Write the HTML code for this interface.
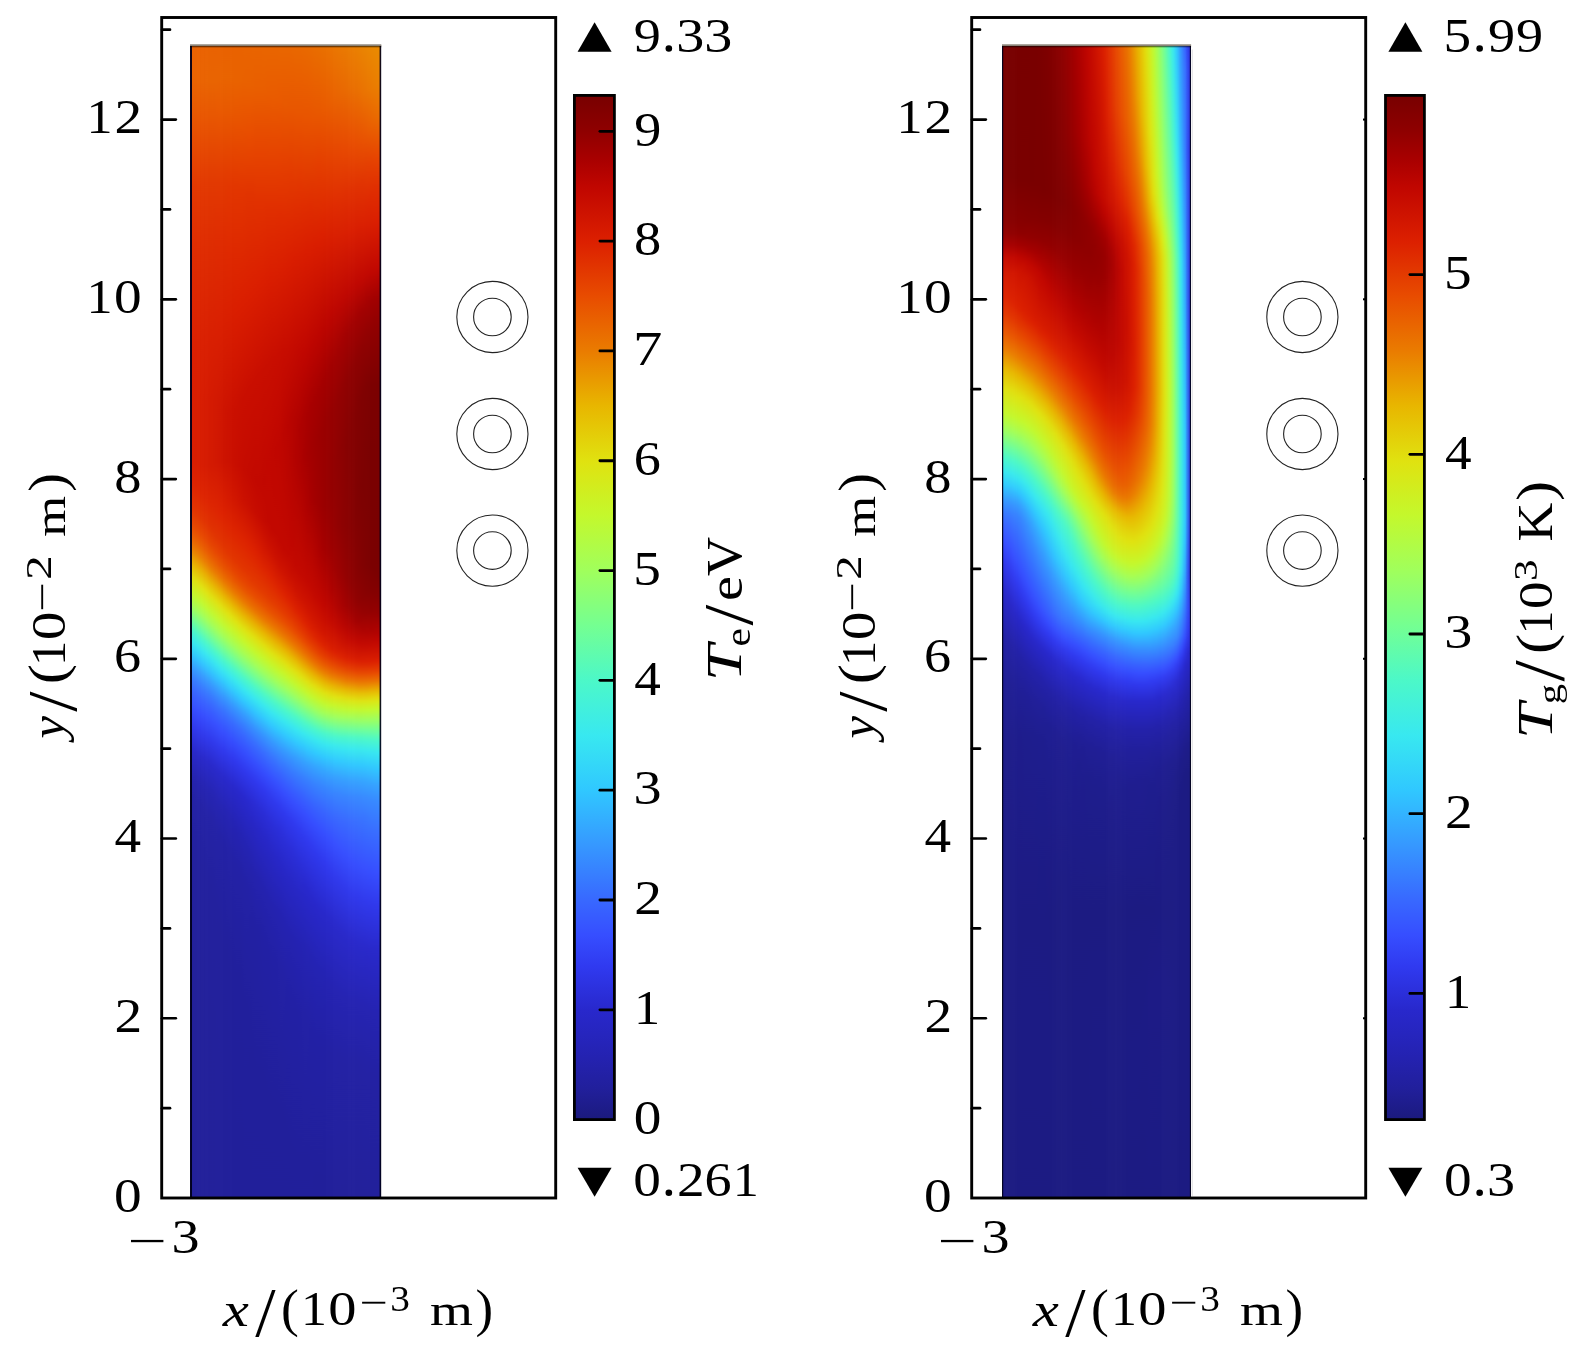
<!DOCTYPE html>
<html><head><meta charset="utf-8"><title>Te and Tg maps</title>
<style>html,body{margin:0;padding:0;background:#fff}svg{display:block}</style></head>
<body>
<svg width="1575" height="1348" viewBox="0 0 1575 1348" font-family="'Liberation Serif', serif" fill="#000">
<rect width="1575" height="1348" fill="#fff"/>
<defs><linearGradient id="ag0" x1="0" y1="0" x2="0" y2="1"><stop offset="0.0000" stop-color="#e96100"/><stop offset="0.0278" stop-color="#e96300"/><stop offset="0.0590" stop-color="#e85700"/><stop offset="0.1215" stop-color="#e23700"/><stop offset="0.1736" stop-color="#df2c00"/><stop offset="0.2743" stop-color="#d91d00"/><stop offset="0.3611" stop-color="#d81c00"/><stop offset="0.3819" stop-color="#dd2300"/><stop offset="0.4028" stop-color="#e13300"/><stop offset="0.4167" stop-color="#e74700"/><stop offset="0.4271" stop-color="#e95e00"/><stop offset="0.4375" stop-color="#ea7d00"/><stop offset="0.4514" stop-color="#e7ba01"/><stop offset="0.4618" stop-color="#e1de0e"/><stop offset="0.4722" stop-color="#cdf123"/><stop offset="0.4757" stop-color="#c5f72b"/><stop offset="0.4861" stop-color="#a7fe53"/><stop offset="0.4931" stop-color="#8bff76"/><stop offset="0.5035" stop-color="#5dfbb1"/><stop offset="0.5069" stop-color="#4ef8c5"/><stop offset="0.5174" stop-color="#39e9ee"/><stop offset="0.5278" stop-color="#31cbfd"/><stop offset="0.5417" stop-color="#3696ff"/><stop offset="0.5521" stop-color="#3777ff"/><stop offset="0.5625" stop-color="#3761ff"/><stop offset="0.5729" stop-color="#3650ff"/><stop offset="0.5903" stop-color="#3039ee"/><stop offset="0.6111" stop-color="#2828cc"/><stop offset="0.6354" stop-color="#2422af"/><stop offset="0.6528" stop-color="#2220a4"/><stop offset="0.7118" stop-color="#211f9d"/><stop offset="0.8090" stop-color="#211f9a"/><stop offset="0.9479" stop-color="#211f9a"/><stop offset="1.0000" stop-color="#211f9a"/></linearGradient><linearGradient id="ag1" x1="0" y1="0" x2="0" y2="1"><stop offset="0.0000" stop-color="#e96100"/><stop offset="0.0278" stop-color="#e96300"/><stop offset="0.0590" stop-color="#e85700"/><stop offset="0.1215" stop-color="#e23700"/><stop offset="0.1736" stop-color="#df2b00"/><stop offset="0.2674" stop-color="#d91d00"/><stop offset="0.3576" stop-color="#d71b00"/><stop offset="0.3819" stop-color="#dc2100"/><stop offset="0.4062" stop-color="#e13400"/><stop offset="0.4201" stop-color="#e74800"/><stop offset="0.4306" stop-color="#e96000"/><stop offset="0.4410" stop-color="#ea8100"/><stop offset="0.4514" stop-color="#e8af00"/><stop offset="0.4653" stop-color="#e0e110"/><stop offset="0.4792" stop-color="#c2f82e"/><stop offset="0.4896" stop-color="#a3fe58"/><stop offset="0.5000" stop-color="#76ff90"/><stop offset="0.5104" stop-color="#4bf7ca"/><stop offset="0.5208" stop-color="#38e7f1"/><stop offset="0.5312" stop-color="#30c7ff"/><stop offset="0.5417" stop-color="#359eff"/><stop offset="0.5521" stop-color="#377dff"/><stop offset="0.5625" stop-color="#3865ff"/><stop offset="0.5764" stop-color="#364eff"/><stop offset="0.5938" stop-color="#2f38ec"/><stop offset="0.6146" stop-color="#2827ca"/><stop offset="0.6354" stop-color="#2422b1"/><stop offset="0.6528" stop-color="#2321a6"/><stop offset="0.6979" stop-color="#211f9e"/><stop offset="0.8021" stop-color="#211f9a"/><stop offset="0.9410" stop-color="#211f9a"/><stop offset="1.0000" stop-color="#211f9a"/></linearGradient><linearGradient id="ag2" x1="0" y1="0" x2="0" y2="1"><stop offset="0.0000" stop-color="#e96100"/><stop offset="0.0312" stop-color="#e96200"/><stop offset="0.0660" stop-color="#e85300"/><stop offset="0.1215" stop-color="#e23700"/><stop offset="0.1736" stop-color="#df2b00"/><stop offset="0.2604" stop-color="#d91e00"/><stop offset="0.3160" stop-color="#d71b00"/><stop offset="0.3646" stop-color="#d71b00"/><stop offset="0.3889" stop-color="#dd2300"/><stop offset="0.4097" stop-color="#e13300"/><stop offset="0.4236" stop-color="#e74700"/><stop offset="0.4340" stop-color="#e95f00"/><stop offset="0.4444" stop-color="#ea8000"/><stop offset="0.4549" stop-color="#e8b000"/><stop offset="0.4688" stop-color="#e0e210"/><stop offset="0.4826" stop-color="#c1f930"/><stop offset="0.4931" stop-color="#a1ff5a"/><stop offset="0.5035" stop-color="#75ff91"/><stop offset="0.5139" stop-color="#4af7cb"/><stop offset="0.5208" stop-color="#3dece6"/><stop offset="0.5243" stop-color="#37e5f1"/><stop offset="0.5347" stop-color="#30c5ff"/><stop offset="0.5451" stop-color="#369cff"/><stop offset="0.5556" stop-color="#377cff"/><stop offset="0.5660" stop-color="#3864ff"/><stop offset="0.5799" stop-color="#354cfe"/><stop offset="0.5938" stop-color="#303af0"/><stop offset="0.6181" stop-color="#2727c8"/><stop offset="0.6389" stop-color="#2422b2"/><stop offset="0.6597" stop-color="#2220a5"/><stop offset="0.7118" stop-color="#211f9e"/><stop offset="0.8125" stop-color="#211f9a"/><stop offset="0.9514" stop-color="#211f9a"/><stop offset="1.0000" stop-color="#211f9a"/></linearGradient><linearGradient id="ag3" x1="0" y1="0" x2="0" y2="1"><stop offset="0.0000" stop-color="#e96100"/><stop offset="0.0312" stop-color="#e96200"/><stop offset="0.0625" stop-color="#e85500"/><stop offset="0.1181" stop-color="#e23800"/><stop offset="0.1667" stop-color="#df2c00"/><stop offset="0.2569" stop-color="#d91e00"/><stop offset="0.3090" stop-color="#d61a00"/><stop offset="0.3646" stop-color="#d61a00"/><stop offset="0.3924" stop-color="#dd2300"/><stop offset="0.4132" stop-color="#e13200"/><stop offset="0.4271" stop-color="#e64600"/><stop offset="0.4375" stop-color="#e95d00"/><stop offset="0.4479" stop-color="#ea7e00"/><stop offset="0.4583" stop-color="#e8af00"/><stop offset="0.4722" stop-color="#e0e210"/><stop offset="0.4861" stop-color="#c1f930"/><stop offset="0.4965" stop-color="#a1ff5a"/><stop offset="0.5069" stop-color="#75ff91"/><stop offset="0.5174" stop-color="#4af7cb"/><stop offset="0.5243" stop-color="#3dece7"/><stop offset="0.5278" stop-color="#37e5f2"/><stop offset="0.5382" stop-color="#31c4ff"/><stop offset="0.5486" stop-color="#369bff"/><stop offset="0.5590" stop-color="#377bff"/><stop offset="0.5694" stop-color="#3863ff"/><stop offset="0.5833" stop-color="#354bfd"/><stop offset="0.6007" stop-color="#2e36e9"/><stop offset="0.6181" stop-color="#2828cc"/><stop offset="0.6424" stop-color="#2422b2"/><stop offset="0.6632" stop-color="#2321a6"/><stop offset="0.7118" stop-color="#211f9e"/><stop offset="0.8160" stop-color="#211f9a"/><stop offset="0.9549" stop-color="#211f9a"/><stop offset="1.0000" stop-color="#211f9a"/></linearGradient><linearGradient id="ag4" x1="0" y1="0" x2="0" y2="1"><stop offset="0.0000" stop-color="#e96200"/><stop offset="0.0312" stop-color="#e96300"/><stop offset="0.0625" stop-color="#e85500"/><stop offset="0.1181" stop-color="#e23800"/><stop offset="0.1667" stop-color="#df2c00"/><stop offset="0.2535" stop-color="#d91e00"/><stop offset="0.3090" stop-color="#d51900"/><stop offset="0.3646" stop-color="#d41900"/><stop offset="0.3958" stop-color="#dd2300"/><stop offset="0.4167" stop-color="#e13100"/><stop offset="0.4306" stop-color="#e64400"/><stop offset="0.4410" stop-color="#e95b00"/><stop offset="0.4514" stop-color="#ea7c00"/><stop offset="0.4618" stop-color="#e8ad00"/><stop offset="0.4688" stop-color="#e5c907"/><stop offset="0.4757" stop-color="#e0e110"/><stop offset="0.4896" stop-color="#c1f930"/><stop offset="0.5000" stop-color="#a2ff5a"/><stop offset="0.5104" stop-color="#75ff90"/><stop offset="0.5208" stop-color="#4bf7cb"/><stop offset="0.5278" stop-color="#3dece7"/><stop offset="0.5312" stop-color="#37e4f2"/><stop offset="0.5417" stop-color="#31c3ff"/><stop offset="0.5521" stop-color="#369aff"/><stop offset="0.5625" stop-color="#377aff"/><stop offset="0.5729" stop-color="#3862ff"/><stop offset="0.5833" stop-color="#3650ff"/><stop offset="0.6007" stop-color="#2f39ed"/><stop offset="0.6215" stop-color="#2828cb"/><stop offset="0.6458" stop-color="#2423b3"/><stop offset="0.6701" stop-color="#2321a6"/><stop offset="0.7326" stop-color="#211f9d"/><stop offset="0.8646" stop-color="#211f9a"/><stop offset="1.0000" stop-color="#211f9a"/></linearGradient><linearGradient id="ag5" x1="0" y1="0" x2="0" y2="1"><stop offset="0.0000" stop-color="#e96100"/><stop offset="0.0312" stop-color="#e96300"/><stop offset="0.0625" stop-color="#e85500"/><stop offset="0.1181" stop-color="#e23800"/><stop offset="0.1667" stop-color="#df2c00"/><stop offset="0.2500" stop-color="#d91e00"/><stop offset="0.3056" stop-color="#d41800"/><stop offset="0.3646" stop-color="#d31800"/><stop offset="0.3993" stop-color="#dd2300"/><stop offset="0.4201" stop-color="#e03000"/><stop offset="0.4340" stop-color="#e54200"/><stop offset="0.4444" stop-color="#e95900"/><stop offset="0.4549" stop-color="#ea7a00"/><stop offset="0.4688" stop-color="#e7bb02"/><stop offset="0.4792" stop-color="#e0e110"/><stop offset="0.4931" stop-color="#c1f930"/><stop offset="0.5035" stop-color="#a2ff59"/><stop offset="0.5139" stop-color="#76ff90"/><stop offset="0.5243" stop-color="#4bf7cb"/><stop offset="0.5312" stop-color="#3cece7"/><stop offset="0.5347" stop-color="#37e4f2"/><stop offset="0.5451" stop-color="#31c3ff"/><stop offset="0.5556" stop-color="#369aff"/><stop offset="0.5660" stop-color="#3779ff"/><stop offset="0.5764" stop-color="#3761ff"/><stop offset="0.5868" stop-color="#364fff"/><stop offset="0.6042" stop-color="#2f38ec"/><stop offset="0.6250" stop-color="#2828cb"/><stop offset="0.6493" stop-color="#2423b3"/><stop offset="0.6736" stop-color="#2321a6"/><stop offset="0.7292" stop-color="#211f9e"/><stop offset="0.8576" stop-color="#211f9a"/><stop offset="0.9965" stop-color="#211f9a"/><stop offset="1.0000" stop-color="#211f9a"/></linearGradient><linearGradient id="ag6" x1="0" y1="0" x2="0" y2="1"><stop offset="0.0000" stop-color="#e96100"/><stop offset="0.0312" stop-color="#e96300"/><stop offset="0.0625" stop-color="#e85500"/><stop offset="0.1181" stop-color="#e23800"/><stop offset="0.1667" stop-color="#df2b00"/><stop offset="0.2465" stop-color="#d91e00"/><stop offset="0.3090" stop-color="#d21700"/><stop offset="0.3611" stop-color="#d11600"/><stop offset="0.4028" stop-color="#dd2300"/><stop offset="0.4271" stop-color="#e13300"/><stop offset="0.4410" stop-color="#e74700"/><stop offset="0.4514" stop-color="#e96200"/><stop offset="0.4583" stop-color="#ea7900"/><stop offset="0.4722" stop-color="#e7ba02"/><stop offset="0.4826" stop-color="#e0e110"/><stop offset="0.4965" stop-color="#c1f930"/><stop offset="0.5069" stop-color="#a2ff59"/><stop offset="0.5174" stop-color="#76ff90"/><stop offset="0.5278" stop-color="#4af7cb"/><stop offset="0.5347" stop-color="#3cebe8"/><stop offset="0.5382" stop-color="#37e4f2"/><stop offset="0.5486" stop-color="#31c2ff"/><stop offset="0.5590" stop-color="#3699ff"/><stop offset="0.5694" stop-color="#3779ff"/><stop offset="0.5799" stop-color="#3761ff"/><stop offset="0.5903" stop-color="#364eff"/><stop offset="0.6076" stop-color="#2f38eb"/><stop offset="0.6285" stop-color="#2828cb"/><stop offset="0.6528" stop-color="#2523b4"/><stop offset="0.6806" stop-color="#2321a6"/><stop offset="0.7465" stop-color="#211f9d"/><stop offset="0.8854" stop-color="#211f9a"/><stop offset="1.0000" stop-color="#211f9a"/></linearGradient><linearGradient id="ag7" x1="0" y1="0" x2="0" y2="1"><stop offset="0.0000" stop-color="#e96100"/><stop offset="0.0278" stop-color="#e96300"/><stop offset="0.0556" stop-color="#e95900"/><stop offset="0.1181" stop-color="#e23800"/><stop offset="0.1667" stop-color="#df2b00"/><stop offset="0.2431" stop-color="#d91e00"/><stop offset="0.3125" stop-color="#d01500"/><stop offset="0.3611" stop-color="#cf1400"/><stop offset="0.4062" stop-color="#dd2200"/><stop offset="0.4306" stop-color="#e13300"/><stop offset="0.4410" stop-color="#e54000"/><stop offset="0.4514" stop-color="#e85600"/><stop offset="0.4618" stop-color="#ea7700"/><stop offset="0.4757" stop-color="#e7ba01"/><stop offset="0.4861" stop-color="#e0e110"/><stop offset="0.5000" stop-color="#c1f930"/><stop offset="0.5104" stop-color="#a2ff5a"/><stop offset="0.5208" stop-color="#75ff91"/><stop offset="0.5312" stop-color="#4af7cc"/><stop offset="0.5382" stop-color="#3cebe8"/><stop offset="0.5417" stop-color="#37e3f2"/><stop offset="0.5486" stop-color="#31cdfd"/><stop offset="0.5556" stop-color="#33b2ff"/><stop offset="0.5660" stop-color="#368dff"/><stop offset="0.5764" stop-color="#386fff"/><stop offset="0.5903" stop-color="#3653ff"/><stop offset="0.5938" stop-color="#364eff"/><stop offset="0.6111" stop-color="#2f37eb"/><stop offset="0.6319" stop-color="#2828cb"/><stop offset="0.6597" stop-color="#2423b2"/><stop offset="0.6875" stop-color="#2220a5"/><stop offset="0.7674" stop-color="#211f9c"/><stop offset="0.9062" stop-color="#211f9a"/><stop offset="1.0000" stop-color="#211f9a"/></linearGradient><linearGradient id="ag8" x1="0" y1="0" x2="0" y2="1"><stop offset="0.0000" stop-color="#e96100"/><stop offset="0.0278" stop-color="#e96300"/><stop offset="0.0590" stop-color="#e85700"/><stop offset="0.1181" stop-color="#e23800"/><stop offset="0.1667" stop-color="#df2b00"/><stop offset="0.2396" stop-color="#d91e00"/><stop offset="0.3160" stop-color="#ce1300"/><stop offset="0.3611" stop-color="#cd1200"/><stop offset="0.4062" stop-color="#dc2000"/><stop offset="0.4340" stop-color="#e13200"/><stop offset="0.4444" stop-color="#e53f00"/><stop offset="0.4549" stop-color="#e85500"/><stop offset="0.4653" stop-color="#ea7600"/><stop offset="0.4722" stop-color="#e99700"/><stop offset="0.4792" stop-color="#e7ba01"/><stop offset="0.4896" stop-color="#e0e110"/><stop offset="0.5035" stop-color="#c1f931"/><stop offset="0.5139" stop-color="#a1ff5a"/><stop offset="0.5243" stop-color="#74ff92"/><stop offset="0.5347" stop-color="#4af6cc"/><stop offset="0.5417" stop-color="#3bebe9"/><stop offset="0.5451" stop-color="#37e2f3"/><stop offset="0.5521" stop-color="#31ccfd"/><stop offset="0.5660" stop-color="#3697ff"/><stop offset="0.5764" stop-color="#3777ff"/><stop offset="0.5868" stop-color="#3760ff"/><stop offset="0.5972" stop-color="#364dfe"/><stop offset="0.6111" stop-color="#303af0"/><stop offset="0.6354" stop-color="#2828cb"/><stop offset="0.6632" stop-color="#2423b3"/><stop offset="0.6944" stop-color="#2220a5"/><stop offset="0.7847" stop-color="#211f9c"/><stop offset="0.9236" stop-color="#211f9a"/><stop offset="1.0000" stop-color="#211f9a"/></linearGradient><linearGradient id="ag9" x1="0" y1="0" x2="0" y2="1"><stop offset="0.0000" stop-color="#e96100"/><stop offset="0.0278" stop-color="#e96300"/><stop offset="0.0590" stop-color="#e85700"/><stop offset="0.1215" stop-color="#e23600"/><stop offset="0.1771" stop-color="#df2900"/><stop offset="0.2361" stop-color="#d91e00"/><stop offset="0.3194" stop-color="#cc1100"/><stop offset="0.3611" stop-color="#cb1100"/><stop offset="0.3958" stop-color="#d61a00"/><stop offset="0.4201" stop-color="#de2600"/><stop offset="0.4410" stop-color="#e23500"/><stop offset="0.4514" stop-color="#e64500"/><stop offset="0.4618" stop-color="#e95e00"/><stop offset="0.4688" stop-color="#ea7600"/><stop offset="0.4757" stop-color="#e99600"/><stop offset="0.4826" stop-color="#e7ba01"/><stop offset="0.4931" stop-color="#e0e210"/><stop offset="0.5069" stop-color="#c0f931"/><stop offset="0.5174" stop-color="#a0ff5b"/><stop offset="0.5278" stop-color="#73ff93"/><stop offset="0.5347" stop-color="#55fabb"/><stop offset="0.5382" stop-color="#49f6ce"/><stop offset="0.5451" stop-color="#3beaea"/><stop offset="0.5486" stop-color="#36e1f3"/><stop offset="0.5556" stop-color="#31ccfd"/><stop offset="0.5694" stop-color="#3696ff"/><stop offset="0.5799" stop-color="#3777ff"/><stop offset="0.5903" stop-color="#375fff"/><stop offset="0.6007" stop-color="#364dfe"/><stop offset="0.6181" stop-color="#2f37e9"/><stop offset="0.6389" stop-color="#2828cb"/><stop offset="0.6667" stop-color="#2523b4"/><stop offset="0.6979" stop-color="#2321a6"/><stop offset="0.7812" stop-color="#211f9c"/><stop offset="0.9201" stop-color="#211f9a"/><stop offset="1.0000" stop-color="#211f9a"/></linearGradient><linearGradient id="ag10" x1="0" y1="0" x2="0" y2="1"><stop offset="0.0000" stop-color="#e96100"/><stop offset="0.0278" stop-color="#e96300"/><stop offset="0.0590" stop-color="#e85700"/><stop offset="0.1215" stop-color="#e23600"/><stop offset="0.1771" stop-color="#de2900"/><stop offset="0.2326" stop-color="#d91e00"/><stop offset="0.3160" stop-color="#cb1000"/><stop offset="0.3611" stop-color="#ca0f00"/><stop offset="0.3924" stop-color="#d21700"/><stop offset="0.4201" stop-color="#dd2400"/><stop offset="0.4444" stop-color="#e23500"/><stop offset="0.4549" stop-color="#e64400"/><stop offset="0.4653" stop-color="#e95e00"/><stop offset="0.4722" stop-color="#ea7500"/><stop offset="0.4792" stop-color="#e99600"/><stop offset="0.4861" stop-color="#e7ba01"/><stop offset="0.4965" stop-color="#e0e210"/><stop offset="0.5069" stop-color="#c8f528"/><stop offset="0.5139" stop-color="#b5fb40"/><stop offset="0.5208" stop-color="#9fff5d"/><stop offset="0.5312" stop-color="#72ff95"/><stop offset="0.5382" stop-color="#54f9bd"/><stop offset="0.5417" stop-color="#49f5cf"/><stop offset="0.5486" stop-color="#3aeaec"/><stop offset="0.5556" stop-color="#33d5f9"/><stop offset="0.5590" stop-color="#31cbfe"/><stop offset="0.5729" stop-color="#3696ff"/><stop offset="0.5868" stop-color="#386dff"/><stop offset="0.6042" stop-color="#354cfe"/><stop offset="0.6181" stop-color="#3039ef"/><stop offset="0.6424" stop-color="#2828cb"/><stop offset="0.6736" stop-color="#2423b3"/><stop offset="0.7049" stop-color="#2321a6"/><stop offset="0.7951" stop-color="#211f9c"/><stop offset="0.9340" stop-color="#211f9a"/><stop offset="1.0000" stop-color="#211f9a"/></linearGradient><linearGradient id="ag11" x1="0" y1="0" x2="0" y2="1"><stop offset="0.0000" stop-color="#e96200"/><stop offset="0.0312" stop-color="#e96200"/><stop offset="0.0660" stop-color="#e85300"/><stop offset="0.1215" stop-color="#e23600"/><stop offset="0.1771" stop-color="#de2900"/><stop offset="0.2292" stop-color="#da1e00"/><stop offset="0.3160" stop-color="#ca0f00"/><stop offset="0.3646" stop-color="#c80e00"/><stop offset="0.3958" stop-color="#d11600"/><stop offset="0.4236" stop-color="#dd2400"/><stop offset="0.4479" stop-color="#e23500"/><stop offset="0.4583" stop-color="#e64400"/><stop offset="0.4653" stop-color="#e85300"/><stop offset="0.4757" stop-color="#ea7500"/><stop offset="0.4826" stop-color="#e99700"/><stop offset="0.4896" stop-color="#e7ba02"/><stop offset="0.5000" stop-color="#dfe311"/><stop offset="0.5104" stop-color="#c7f529"/><stop offset="0.5174" stop-color="#b4fb41"/><stop offset="0.5243" stop-color="#9eff5e"/><stop offset="0.5347" stop-color="#71fe97"/><stop offset="0.5417" stop-color="#52f9bf"/><stop offset="0.5451" stop-color="#48f5d1"/><stop offset="0.5521" stop-color="#39e9ed"/><stop offset="0.5625" stop-color="#30cafe"/><stop offset="0.5764" stop-color="#3695ff"/><stop offset="0.5903" stop-color="#386dff"/><stop offset="0.6076" stop-color="#354cfd"/><stop offset="0.6215" stop-color="#3039ee"/><stop offset="0.6458" stop-color="#2828cb"/><stop offset="0.6806" stop-color="#2422b2"/><stop offset="0.7118" stop-color="#2321a6"/><stop offset="0.8090" stop-color="#211f9c"/><stop offset="0.9479" stop-color="#211f9a"/><stop offset="1.0000" stop-color="#211f9a"/></linearGradient><linearGradient id="ag12" x1="0" y1="0" x2="0" y2="1"><stop offset="0.0000" stop-color="#e96200"/><stop offset="0.0312" stop-color="#e96200"/><stop offset="0.0660" stop-color="#e85300"/><stop offset="0.1250" stop-color="#e23500"/><stop offset="0.2257" stop-color="#da1e00"/><stop offset="0.3090" stop-color="#c90f00"/><stop offset="0.3646" stop-color="#c70c00"/><stop offset="0.3958" stop-color="#ce1300"/><stop offset="0.4271" stop-color="#dd2400"/><stop offset="0.4514" stop-color="#e23500"/><stop offset="0.4618" stop-color="#e64300"/><stop offset="0.4688" stop-color="#e85300"/><stop offset="0.4792" stop-color="#ea7600"/><stop offset="0.4861" stop-color="#e99700"/><stop offset="0.4931" stop-color="#e7bb02"/><stop offset="0.5035" stop-color="#dfe311"/><stop offset="0.5139" stop-color="#c7f629"/><stop offset="0.5208" stop-color="#b3fb42"/><stop offset="0.5278" stop-color="#9cff60"/><stop offset="0.5382" stop-color="#6ffe99"/><stop offset="0.5451" stop-color="#51f9c2"/><stop offset="0.5521" stop-color="#40eee1"/><stop offset="0.5556" stop-color="#39e8ef"/><stop offset="0.5660" stop-color="#30c9ff"/><stop offset="0.5799" stop-color="#3694ff"/><stop offset="0.5938" stop-color="#386cff"/><stop offset="0.6111" stop-color="#354cfd"/><stop offset="0.6250" stop-color="#3039ee"/><stop offset="0.6493" stop-color="#2828cc"/><stop offset="0.6840" stop-color="#2423b3"/><stop offset="0.7153" stop-color="#2321a6"/><stop offset="0.8056" stop-color="#211f9c"/><stop offset="0.9444" stop-color="#211f9a"/><stop offset="1.0000" stop-color="#211f9a"/></linearGradient><linearGradient id="ag13" x1="0" y1="0" x2="0" y2="1"><stop offset="0.0000" stop-color="#e96300"/><stop offset="0.0312" stop-color="#e96100"/><stop offset="0.0694" stop-color="#e85100"/><stop offset="0.1250" stop-color="#e23500"/><stop offset="0.2222" stop-color="#da1e00"/><stop offset="0.3056" stop-color="#c90e00"/><stop offset="0.3681" stop-color="#c50b00"/><stop offset="0.3958" stop-color="#cb1000"/><stop offset="0.4306" stop-color="#dd2400"/><stop offset="0.4549" stop-color="#e23500"/><stop offset="0.4653" stop-color="#e64400"/><stop offset="0.4722" stop-color="#e85300"/><stop offset="0.4826" stop-color="#ea7600"/><stop offset="0.4896" stop-color="#e99900"/><stop offset="0.4965" stop-color="#e7bc02"/><stop offset="0.5069" stop-color="#dee412"/><stop offset="0.5174" stop-color="#c6f72a"/><stop offset="0.5278" stop-color="#a7fe53"/><stop offset="0.5347" stop-color="#8cff75"/><stop offset="0.5451" stop-color="#5efbb0"/><stop offset="0.5486" stop-color="#4ef8c5"/><stop offset="0.5590" stop-color="#38e8f0"/><stop offset="0.5694" stop-color="#30c8ff"/><stop offset="0.5799" stop-color="#359fff"/><stop offset="0.5903" stop-color="#377eff"/><stop offset="0.6007" stop-color="#3864ff"/><stop offset="0.6146" stop-color="#354cfd"/><stop offset="0.6285" stop-color="#3039ee"/><stop offset="0.6528" stop-color="#2828cd"/><stop offset="0.6910" stop-color="#2423b3"/><stop offset="0.7257" stop-color="#2321a6"/><stop offset="0.8299" stop-color="#211f9c"/><stop offset="0.9688" stop-color="#211f9a"/><stop offset="1.0000" stop-color="#211f9a"/></linearGradient><linearGradient id="ag14" x1="0" y1="0" x2="0" y2="1"><stop offset="0.0000" stop-color="#e96300"/><stop offset="0.0347" stop-color="#e96000"/><stop offset="0.0764" stop-color="#e84d00"/><stop offset="0.1285" stop-color="#e13300"/><stop offset="0.2188" stop-color="#da1e00"/><stop offset="0.2986" stop-color="#c90e00"/><stop offset="0.3715" stop-color="#c40a00"/><stop offset="0.3993" stop-color="#ca0f00"/><stop offset="0.4340" stop-color="#dd2300"/><stop offset="0.4583" stop-color="#e23500"/><stop offset="0.4688" stop-color="#e64400"/><stop offset="0.4757" stop-color="#e85400"/><stop offset="0.4861" stop-color="#ea7700"/><stop offset="0.4965" stop-color="#e8ad00"/><stop offset="0.5035" stop-color="#e4cc08"/><stop offset="0.5104" stop-color="#dde413"/><stop offset="0.5208" stop-color="#c5f72b"/><stop offset="0.5312" stop-color="#a5fe55"/><stop offset="0.5417" stop-color="#7aff8b"/><stop offset="0.5521" stop-color="#4cf8c8"/><stop offset="0.5625" stop-color="#38e6f1"/><stop offset="0.5729" stop-color="#30c6ff"/><stop offset="0.5833" stop-color="#359eff"/><stop offset="0.5972" stop-color="#3775ff"/><stop offset="0.6111" stop-color="#3757ff"/><stop offset="0.6181" stop-color="#354cfd"/><stop offset="0.6319" stop-color="#3039ee"/><stop offset="0.6562" stop-color="#2829ce"/><stop offset="0.6979" stop-color="#2423b2"/><stop offset="0.7326" stop-color="#2321a6"/><stop offset="0.8368" stop-color="#211f9c"/><stop offset="0.9757" stop-color="#211f9a"/><stop offset="1.0000" stop-color="#211f9a"/></linearGradient><linearGradient id="ag15" x1="0" y1="0" x2="0" y2="1"><stop offset="0.0000" stop-color="#e96400"/><stop offset="0.0347" stop-color="#e96000"/><stop offset="0.0764" stop-color="#e84d00"/><stop offset="0.1285" stop-color="#e13300"/><stop offset="0.2153" stop-color="#da1e00"/><stop offset="0.2951" stop-color="#c90e00"/><stop offset="0.3750" stop-color="#c30900"/><stop offset="0.4028" stop-color="#c80e00"/><stop offset="0.4375" stop-color="#dd2200"/><stop offset="0.4653" stop-color="#e33900"/><stop offset="0.4757" stop-color="#e84c00"/><stop offset="0.4861" stop-color="#e96b00"/><stop offset="0.4896" stop-color="#ea7900"/><stop offset="0.5000" stop-color="#e8af00"/><stop offset="0.5104" stop-color="#e1db0d"/><stop offset="0.5139" stop-color="#dce514"/><stop offset="0.5243" stop-color="#c4f82c"/><stop offset="0.5347" stop-color="#a4fe57"/><stop offset="0.5451" stop-color="#77ff8e"/><stop offset="0.5556" stop-color="#4bf7ca"/><stop offset="0.5625" stop-color="#3dece6"/><stop offset="0.5660" stop-color="#37e5f2"/><stop offset="0.5764" stop-color="#30c5ff"/><stop offset="0.5903" stop-color="#3692ff"/><stop offset="0.6042" stop-color="#386cff"/><stop offset="0.6215" stop-color="#354cfd"/><stop offset="0.6354" stop-color="#3039ee"/><stop offset="0.6562" stop-color="#2a2bd3"/><stop offset="0.6736" stop-color="#2726c5"/><stop offset="0.7153" stop-color="#2422ad"/><stop offset="0.7569" stop-color="#2220a3"/><stop offset="0.8750" stop-color="#211f9b"/><stop offset="1.0000" stop-color="#211f9a"/></linearGradient><linearGradient id="ag16" x1="0" y1="0" x2="0" y2="1"><stop offset="0.0000" stop-color="#e96400"/><stop offset="0.0382" stop-color="#e95e00"/><stop offset="0.0903" stop-color="#e64500"/><stop offset="0.1354" stop-color="#e13100"/><stop offset="0.2118" stop-color="#da1e00"/><stop offset="0.2882" stop-color="#c90e00"/><stop offset="0.3785" stop-color="#c20800"/><stop offset="0.4062" stop-color="#c70c00"/><stop offset="0.4410" stop-color="#dc2100"/><stop offset="0.4688" stop-color="#e33a00"/><stop offset="0.4792" stop-color="#e84c00"/><stop offset="0.4896" stop-color="#e96d00"/><stop offset="0.4931" stop-color="#ea7b00"/><stop offset="0.5035" stop-color="#e8b200"/><stop offset="0.5139" stop-color="#e1dd0e"/><stop offset="0.5208" stop-color="#d3ec1d"/><stop offset="0.5278" stop-color="#c2f82e"/><stop offset="0.5382" stop-color="#a2ff5a"/><stop offset="0.5486" stop-color="#74ff92"/><stop offset="0.5556" stop-color="#56faba"/><stop offset="0.5590" stop-color="#4af6cc"/><stop offset="0.5660" stop-color="#3cebe8"/><stop offset="0.5694" stop-color="#37e3f2"/><stop offset="0.5799" stop-color="#31c4ff"/><stop offset="0.5938" stop-color="#3692ff"/><stop offset="0.6076" stop-color="#386cff"/><stop offset="0.6250" stop-color="#354cfd"/><stop offset="0.6389" stop-color="#3039ee"/><stop offset="0.6597" stop-color="#2a2cd4"/><stop offset="0.6806" stop-color="#2726c4"/><stop offset="0.7222" stop-color="#2422ae"/><stop offset="0.7674" stop-color="#2220a3"/><stop offset="0.8889" stop-color="#211f9b"/><stop offset="1.0000" stop-color="#211f9a"/></linearGradient><linearGradient id="ag17" x1="0" y1="0" x2="0" y2="1"><stop offset="0.0000" stop-color="#e96400"/><stop offset="0.0382" stop-color="#e95e00"/><stop offset="0.0903" stop-color="#e64500"/><stop offset="0.1354" stop-color="#e13100"/><stop offset="0.2083" stop-color="#da1e00"/><stop offset="0.2847" stop-color="#c90e00"/><stop offset="0.3819" stop-color="#c20800"/><stop offset="0.4097" stop-color="#c60b00"/><stop offset="0.4375" stop-color="#d71b00"/><stop offset="0.4514" stop-color="#de2600"/><stop offset="0.4722" stop-color="#e33a00"/><stop offset="0.4826" stop-color="#e84e00"/><stop offset="0.4931" stop-color="#e96f00"/><stop offset="0.4965" stop-color="#ea7d00"/><stop offset="0.5069" stop-color="#e8b400"/><stop offset="0.5174" stop-color="#e1de0f"/><stop offset="0.5278" stop-color="#c9f427"/><stop offset="0.5312" stop-color="#c1f931"/><stop offset="0.5417" stop-color="#9fff5d"/><stop offset="0.5521" stop-color="#71fe96"/><stop offset="0.5590" stop-color="#53f9be"/><stop offset="0.5625" stop-color="#48f5cf"/><stop offset="0.5694" stop-color="#3beaeb"/><stop offset="0.5729" stop-color="#36e2f3"/><stop offset="0.5833" stop-color="#31c2ff"/><stop offset="0.5972" stop-color="#3691ff"/><stop offset="0.6111" stop-color="#386cff"/><stop offset="0.6285" stop-color="#354cfd"/><stop offset="0.6424" stop-color="#3039ef"/><stop offset="0.6632" stop-color="#2a2dd5"/><stop offset="0.6806" stop-color="#2727c8"/><stop offset="0.7257" stop-color="#2422af"/><stop offset="0.7674" stop-color="#2220a4"/><stop offset="0.8889" stop-color="#211f9b"/><stop offset="1.0000" stop-color="#211f9a"/></linearGradient><linearGradient id="ag18" x1="0" y1="0" x2="0" y2="1"><stop offset="0.0000" stop-color="#e96500"/><stop offset="0.0382" stop-color="#e95e00"/><stop offset="0.0903" stop-color="#e64500"/><stop offset="0.1354" stop-color="#e13100"/><stop offset="0.2049" stop-color="#da1e00"/><stop offset="0.2812" stop-color="#c80e00"/><stop offset="0.3785" stop-color="#c10700"/><stop offset="0.4132" stop-color="#c40a00"/><stop offset="0.4375" stop-color="#d21700"/><stop offset="0.4549" stop-color="#dd2500"/><stop offset="0.4757" stop-color="#e33b00"/><stop offset="0.4861" stop-color="#e84f00"/><stop offset="0.4965" stop-color="#ea7100"/><stop offset="0.5000" stop-color="#ea7f00"/><stop offset="0.5104" stop-color="#e8b700"/><stop offset="0.5208" stop-color="#e0e00f"/><stop offset="0.5312" stop-color="#c8f528"/><stop offset="0.5382" stop-color="#b4fb42"/><stop offset="0.5451" stop-color="#9cff61"/><stop offset="0.5556" stop-color="#6efe9a"/><stop offset="0.5625" stop-color="#50f9c2"/><stop offset="0.5694" stop-color="#40efe0"/><stop offset="0.5729" stop-color="#3ae9ed"/><stop offset="0.5833" stop-color="#31ccfd"/><stop offset="0.6007" stop-color="#3690ff"/><stop offset="0.6146" stop-color="#386cff"/><stop offset="0.6319" stop-color="#354cfd"/><stop offset="0.6458" stop-color="#3039ef"/><stop offset="0.6667" stop-color="#2a2dd6"/><stop offset="0.6875" stop-color="#2727c7"/><stop offset="0.7326" stop-color="#2422af"/><stop offset="0.7743" stop-color="#2220a5"/><stop offset="0.8958" stop-color="#211f9b"/><stop offset="1.0000" stop-color="#211f9a"/></linearGradient><linearGradient id="ag19" x1="0" y1="0" x2="0" y2="1"><stop offset="0.0000" stop-color="#e96500"/><stop offset="0.0417" stop-color="#e95c00"/><stop offset="0.0972" stop-color="#e54200"/><stop offset="0.1424" stop-color="#e02e00"/><stop offset="0.2049" stop-color="#d91d00"/><stop offset="0.2778" stop-color="#c80e00"/><stop offset="0.3646" stop-color="#c20700"/><stop offset="0.4132" stop-color="#c20800"/><stop offset="0.4340" stop-color="#cc1100"/><stop offset="0.4583" stop-color="#dd2400"/><stop offset="0.4792" stop-color="#e33b00"/><stop offset="0.4896" stop-color="#e85000"/><stop offset="0.5000" stop-color="#ea7300"/><stop offset="0.5069" stop-color="#e99500"/><stop offset="0.5139" stop-color="#e7b901"/><stop offset="0.5243" stop-color="#e0e210"/><stop offset="0.5347" stop-color="#c6f62a"/><stop offset="0.5417" stop-color="#b1fc45"/><stop offset="0.5486" stop-color="#99ff65"/><stop offset="0.5590" stop-color="#6afd9f"/><stop offset="0.5660" stop-color="#4df8c7"/><stop offset="0.5764" stop-color="#38e8f0"/><stop offset="0.5868" stop-color="#31cbfe"/><stop offset="0.6007" stop-color="#369aff"/><stop offset="0.6146" stop-color="#3874ff"/><stop offset="0.6285" stop-color="#3758ff"/><stop offset="0.6354" stop-color="#354cfe"/><stop offset="0.6493" stop-color="#303aef"/><stop offset="0.6701" stop-color="#2b2ed8"/><stop offset="0.6910" stop-color="#2727c8"/><stop offset="0.7396" stop-color="#2422af"/><stop offset="0.7847" stop-color="#2220a4"/><stop offset="0.9097" stop-color="#211f9b"/><stop offset="1.0000" stop-color="#211f9a"/></linearGradient><linearGradient id="ag20" x1="0" y1="0" x2="0" y2="1"><stop offset="0.0000" stop-color="#e96500"/><stop offset="0.0451" stop-color="#e95b00"/><stop offset="0.0972" stop-color="#e54200"/><stop offset="0.1424" stop-color="#e02e00"/><stop offset="0.2014" stop-color="#d91d00"/><stop offset="0.2708" stop-color="#c80e00"/><stop offset="0.3542" stop-color="#c10700"/><stop offset="0.4201" stop-color="#c20800"/><stop offset="0.4410" stop-color="#cd1200"/><stop offset="0.4618" stop-color="#dd2200"/><stop offset="0.4826" stop-color="#e33b00"/><stop offset="0.4931" stop-color="#e85200"/><stop offset="0.5035" stop-color="#ea7500"/><stop offset="0.5104" stop-color="#e99800"/><stop offset="0.5174" stop-color="#e7bc02"/><stop offset="0.5278" stop-color="#dee412"/><stop offset="0.5382" stop-color="#c5f72b"/><stop offset="0.5486" stop-color="#a3fe58"/><stop offset="0.5590" stop-color="#75ff90"/><stop offset="0.5694" stop-color="#4bf7cb"/><stop offset="0.5799" stop-color="#38e6f1"/><stop offset="0.5903" stop-color="#30c9ff"/><stop offset="0.6042" stop-color="#3699ff"/><stop offset="0.6181" stop-color="#3874ff"/><stop offset="0.6354" stop-color="#3652ff"/><stop offset="0.6458" stop-color="#3343f6"/><stop offset="0.6562" stop-color="#2f38eb"/><stop offset="0.6771" stop-color="#2a2dd6"/><stop offset="0.7014" stop-color="#2727c5"/><stop offset="0.7465" stop-color="#2422af"/><stop offset="0.7917" stop-color="#2220a5"/><stop offset="0.9167" stop-color="#211f9b"/><stop offset="1.0000" stop-color="#211f9a"/></linearGradient><linearGradient id="ag21" x1="0" y1="0" x2="0" y2="1"><stop offset="0.0000" stop-color="#e96500"/><stop offset="0.0451" stop-color="#e95b00"/><stop offset="0.0972" stop-color="#e54200"/><stop offset="0.1424" stop-color="#e02e00"/><stop offset="0.1979" stop-color="#d91e00"/><stop offset="0.2708" stop-color="#c80d00"/><stop offset="0.3507" stop-color="#c00600"/><stop offset="0.4236" stop-color="#c20800"/><stop offset="0.4444" stop-color="#cb1000"/><stop offset="0.4688" stop-color="#dd2500"/><stop offset="0.4861" stop-color="#e43c00"/><stop offset="0.4965" stop-color="#e85300"/><stop offset="0.5069" stop-color="#ea7800"/><stop offset="0.5174" stop-color="#e8ae00"/><stop offset="0.5278" stop-color="#e1da0d"/><stop offset="0.5312" stop-color="#dce514"/><stop offset="0.5417" stop-color="#c2f82e"/><stop offset="0.5521" stop-color="#a0ff5c"/><stop offset="0.5625" stop-color="#71ff96"/><stop offset="0.5694" stop-color="#54f9be"/><stop offset="0.5729" stop-color="#49f5ce"/><stop offset="0.5799" stop-color="#3bebe9"/><stop offset="0.5833" stop-color="#37e3f2"/><stop offset="0.5938" stop-color="#30c6ff"/><stop offset="0.6076" stop-color="#3697ff"/><stop offset="0.6215" stop-color="#3873ff"/><stop offset="0.6389" stop-color="#3652ff"/><stop offset="0.6493" stop-color="#3343f7"/><stop offset="0.6597" stop-color="#2f38ec"/><stop offset="0.6806" stop-color="#2a2ed7"/><stop offset="0.7049" stop-color="#2727c7"/><stop offset="0.7500" stop-color="#2422b0"/><stop offset="0.7951" stop-color="#2220a5"/><stop offset="0.9201" stop-color="#211f9b"/><stop offset="1.0000" stop-color="#211f9a"/></linearGradient><linearGradient id="ag22" x1="0" y1="0" x2="0" y2="1"><stop offset="0.0000" stop-color="#e96600"/><stop offset="0.0486" stop-color="#e95900"/><stop offset="0.1007" stop-color="#e54000"/><stop offset="0.1493" stop-color="#df2b00"/><stop offset="0.1944" stop-color="#d91e00"/><stop offset="0.2674" stop-color="#c70d00"/><stop offset="0.3472" stop-color="#bf0600"/><stop offset="0.4306" stop-color="#c20800"/><stop offset="0.4514" stop-color="#cc1100"/><stop offset="0.4722" stop-color="#dd2300"/><stop offset="0.4896" stop-color="#e43c00"/><stop offset="0.5000" stop-color="#e85500"/><stop offset="0.5104" stop-color="#ea7a00"/><stop offset="0.5208" stop-color="#e8b200"/><stop offset="0.5312" stop-color="#e1dd0e"/><stop offset="0.5382" stop-color="#d2ed1e"/><stop offset="0.5451" stop-color="#c0f932"/><stop offset="0.5556" stop-color="#9cff61"/><stop offset="0.5660" stop-color="#6dfe9c"/><stop offset="0.5729" stop-color="#4ff9c3"/><stop offset="0.5833" stop-color="#3ae9ed"/><stop offset="0.5938" stop-color="#31cefc"/><stop offset="0.6007" stop-color="#32b6ff"/><stop offset="0.6146" stop-color="#378cff"/><stop offset="0.6319" stop-color="#3864ff"/><stop offset="0.6458" stop-color="#364cfe"/><stop offset="0.6597" stop-color="#303bf0"/><stop offset="0.6806" stop-color="#2b2fdb"/><stop offset="0.7083" stop-color="#2727c8"/><stop offset="0.7535" stop-color="#2422b1"/><stop offset="0.7986" stop-color="#2321a6"/><stop offset="0.9236" stop-color="#211f9b"/><stop offset="1.0000" stop-color="#211f9a"/></linearGradient><linearGradient id="ag23" x1="0" y1="0" x2="0" y2="1"><stop offset="0.0000" stop-color="#e96600"/><stop offset="0.0521" stop-color="#e85800"/><stop offset="0.1042" stop-color="#e43e00"/><stop offset="0.1528" stop-color="#df2a00"/><stop offset="0.1944" stop-color="#d91d00"/><stop offset="0.2639" stop-color="#c70c00"/><stop offset="0.3368" stop-color="#bc0500"/><stop offset="0.4375" stop-color="#c20800"/><stop offset="0.4583" stop-color="#ce1300"/><stop offset="0.4757" stop-color="#dd2200"/><stop offset="0.4931" stop-color="#e43c00"/><stop offset="0.5000" stop-color="#e84c00"/><stop offset="0.5104" stop-color="#e96e00"/><stop offset="0.5139" stop-color="#ea7d00"/><stop offset="0.5243" stop-color="#e8b500"/><stop offset="0.5347" stop-color="#e0e00f"/><stop offset="0.5451" stop-color="#c7f629"/><stop offset="0.5521" stop-color="#b1fc45"/><stop offset="0.5590" stop-color="#97ff67"/><stop offset="0.5694" stop-color="#68fda2"/><stop offset="0.5764" stop-color="#4bf8c9"/><stop offset="0.5868" stop-color="#38e7f0"/><stop offset="0.5972" stop-color="#31cbfe"/><stop offset="0.6111" stop-color="#359dff"/><stop offset="0.6250" stop-color="#3779ff"/><stop offset="0.6389" stop-color="#375eff"/><stop offset="0.6493" stop-color="#364dfe"/><stop offset="0.6667" stop-color="#2f38ed"/><stop offset="0.6875" stop-color="#2b2fd9"/><stop offset="0.7153" stop-color="#2727c7"/><stop offset="0.7604" stop-color="#2422b1"/><stop offset="0.8056" stop-color="#2321a6"/><stop offset="0.9306" stop-color="#211f9b"/><stop offset="1.0000" stop-color="#211f9a"/></linearGradient><linearGradient id="ag24" x1="0" y1="0" x2="0" y2="1"><stop offset="0.0000" stop-color="#e96600"/><stop offset="0.0521" stop-color="#e85800"/><stop offset="0.1042" stop-color="#e43e00"/><stop offset="0.1562" stop-color="#de2800"/><stop offset="0.1944" stop-color="#d81c00"/><stop offset="0.2639" stop-color="#c60c00"/><stop offset="0.3299" stop-color="#ba0400"/><stop offset="0.3715" stop-color="#bb0500"/><stop offset="0.4410" stop-color="#c20800"/><stop offset="0.4618" stop-color="#cd1200"/><stop offset="0.4792" stop-color="#dc2000"/><stop offset="0.4965" stop-color="#e43c00"/><stop offset="0.5035" stop-color="#e84c00"/><stop offset="0.5139" stop-color="#ea7000"/><stop offset="0.5174" stop-color="#ea7f00"/><stop offset="0.5278" stop-color="#e8b801"/><stop offset="0.5382" stop-color="#e0e210"/><stop offset="0.5486" stop-color="#c5f72b"/><stop offset="0.5590" stop-color="#a2ff5a"/><stop offset="0.5694" stop-color="#72ff94"/><stop offset="0.5764" stop-color="#55f9bc"/><stop offset="0.5799" stop-color="#49f6ce"/><stop offset="0.5868" stop-color="#3cebe8"/><stop offset="0.5903" stop-color="#37e4f2"/><stop offset="0.6007" stop-color="#30c8ff"/><stop offset="0.6146" stop-color="#369aff"/><stop offset="0.6285" stop-color="#3778ff"/><stop offset="0.6458" stop-color="#3758ff"/><stop offset="0.6528" stop-color="#364dfe"/><stop offset="0.6701" stop-color="#2f39ee"/><stop offset="0.6944" stop-color="#2b2ed8"/><stop offset="0.7222" stop-color="#2727c6"/><stop offset="0.7674" stop-color="#2422b1"/><stop offset="0.8194" stop-color="#2220a5"/><stop offset="0.9444" stop-color="#211f9b"/><stop offset="1.0000" stop-color="#211f9a"/></linearGradient><linearGradient id="ag25" x1="0" y1="0" x2="0" y2="1"><stop offset="0.0000" stop-color="#e96700"/><stop offset="0.0556" stop-color="#e85600"/><stop offset="0.1111" stop-color="#e33a00"/><stop offset="0.1840" stop-color="#da1e00"/><stop offset="0.2604" stop-color="#c60b00"/><stop offset="0.3229" stop-color="#b70400"/><stop offset="0.3576" stop-color="#b60400"/><stop offset="0.4340" stop-color="#c00600"/><stop offset="0.4583" stop-color="#c70d00"/><stop offset="0.4826" stop-color="#db1f00"/><stop offset="0.4965" stop-color="#e23500"/><stop offset="0.5069" stop-color="#e84d00"/><stop offset="0.5174" stop-color="#ea7100"/><stop offset="0.5208" stop-color="#ea8100"/><stop offset="0.5312" stop-color="#e7ba01"/><stop offset="0.5417" stop-color="#dee412"/><stop offset="0.5521" stop-color="#c3f82e"/><stop offset="0.5625" stop-color="#9eff5f"/><stop offset="0.5729" stop-color="#6efe9a"/><stop offset="0.5799" stop-color="#50f9c3"/><stop offset="0.5903" stop-color="#3ae9ed"/><stop offset="0.6007" stop-color="#31cefc"/><stop offset="0.6076" stop-color="#32b8ff"/><stop offset="0.6215" stop-color="#368eff"/><stop offset="0.6389" stop-color="#3869ff"/><stop offset="0.6562" stop-color="#364dfe"/><stop offset="0.6736" stop-color="#3039ee"/><stop offset="0.6979" stop-color="#2b2ed9"/><stop offset="0.7257" stop-color="#2727c6"/><stop offset="0.7743" stop-color="#2422b0"/><stop offset="0.8299" stop-color="#2220a5"/><stop offset="0.9583" stop-color="#211f9b"/><stop offset="1.0000" stop-color="#211f9a"/></linearGradient><linearGradient id="ag26" x1="0" y1="0" x2="0" y2="1"><stop offset="0.0000" stop-color="#e96800"/><stop offset="0.0590" stop-color="#e85500"/><stop offset="0.1389" stop-color="#e02e00"/><stop offset="0.1840" stop-color="#d91d00"/><stop offset="0.2604" stop-color="#c40a00"/><stop offset="0.3229" stop-color="#b40300"/><stop offset="0.3576" stop-color="#b20200"/><stop offset="0.4514" stop-color="#c20800"/><stop offset="0.4722" stop-color="#cd1200"/><stop offset="0.4896" stop-color="#dc2100"/><stop offset="0.5035" stop-color="#e33b00"/><stop offset="0.5104" stop-color="#e84c00"/><stop offset="0.5208" stop-color="#ea7200"/><stop offset="0.5243" stop-color="#ea8200"/><stop offset="0.5347" stop-color="#e7bc02"/><stop offset="0.5417" stop-color="#e2d90d"/><stop offset="0.5451" stop-color="#dce514"/><stop offset="0.5556" stop-color="#c0f931"/><stop offset="0.5660" stop-color="#9aff64"/><stop offset="0.5764" stop-color="#69fda1"/><stop offset="0.5833" stop-color="#4bf8c9"/><stop offset="0.5938" stop-color="#38e7f1"/><stop offset="0.6042" stop-color="#31cbfe"/><stop offset="0.6181" stop-color="#359eff"/><stop offset="0.6319" stop-color="#377dff"/><stop offset="0.6493" stop-color="#375dff"/><stop offset="0.6597" stop-color="#364dfe"/><stop offset="0.6771" stop-color="#303aef"/><stop offset="0.7049" stop-color="#2a2ed7"/><stop offset="0.7326" stop-color="#2727c5"/><stop offset="0.7778" stop-color="#2422b1"/><stop offset="0.8368" stop-color="#2220a4"/><stop offset="0.9653" stop-color="#211f9b"/><stop offset="1.0000" stop-color="#211f9a"/></linearGradient><linearGradient id="ag27" x1="0" y1="0" x2="0" y2="1"><stop offset="0.0000" stop-color="#e96800"/><stop offset="0.0590" stop-color="#e85500"/><stop offset="0.1215" stop-color="#e23500"/><stop offset="0.1806" stop-color="#d91e00"/><stop offset="0.2639" stop-color="#c20800"/><stop offset="0.3333" stop-color="#ae0100"/><stop offset="0.3715" stop-color="#b00200"/><stop offset="0.4583" stop-color="#c30900"/><stop offset="0.4792" stop-color="#cf1400"/><stop offset="0.4931" stop-color="#dc2000"/><stop offset="0.5069" stop-color="#e33900"/><stop offset="0.5139" stop-color="#e84c00"/><stop offset="0.5243" stop-color="#ea7300"/><stop offset="0.5312" stop-color="#e99700"/><stop offset="0.5382" stop-color="#e7bd03"/><stop offset="0.5451" stop-color="#e1dc0e"/><stop offset="0.5486" stop-color="#dbe615"/><stop offset="0.5556" stop-color="#c8f528"/><stop offset="0.5590" stop-color="#bdf935"/><stop offset="0.5660" stop-color="#a4fe56"/><stop offset="0.5764" stop-color="#74ff92"/><stop offset="0.5833" stop-color="#55fabc"/><stop offset="0.5868" stop-color="#49f6ce"/><stop offset="0.5938" stop-color="#3bebe9"/><stop offset="0.5972" stop-color="#37e3f2"/><stop offset="0.6076" stop-color="#30c7ff"/><stop offset="0.6215" stop-color="#369bff"/><stop offset="0.6354" stop-color="#377bff"/><stop offset="0.6528" stop-color="#375cff"/><stop offset="0.6632" stop-color="#364dfe"/><stop offset="0.6806" stop-color="#303af0"/><stop offset="0.7118" stop-color="#2a2dd6"/><stop offset="0.7361" stop-color="#2727c6"/><stop offset="0.7812" stop-color="#2422b2"/><stop offset="0.8403" stop-color="#2220a5"/><stop offset="0.9653" stop-color="#211f9b"/><stop offset="1.0000" stop-color="#211f9a"/></linearGradient><linearGradient id="ag28" x1="0" y1="0" x2="0" y2="1"><stop offset="0.0000" stop-color="#e96900"/><stop offset="0.0625" stop-color="#e85400"/><stop offset="0.1389" stop-color="#e02d00"/><stop offset="0.1806" stop-color="#d91d00"/><stop offset="0.2674" stop-color="#c00600"/><stop offset="0.3229" stop-color="#ac0100"/><stop offset="0.3576" stop-color="#aa0000"/><stop offset="0.4062" stop-color="#b40300"/><stop offset="0.4618" stop-color="#c30900"/><stop offset="0.4826" stop-color="#ce1300"/><stop offset="0.5000" stop-color="#dd2300"/><stop offset="0.5104" stop-color="#e33800"/><stop offset="0.5174" stop-color="#e84b00"/><stop offset="0.5278" stop-color="#ea7300"/><stop offset="0.5347" stop-color="#e99900"/><stop offset="0.5382" stop-color="#e8ad00"/><stop offset="0.5451" stop-color="#e3cf09"/><stop offset="0.5486" stop-color="#e1de0f"/><stop offset="0.5590" stop-color="#c6f62a"/><stop offset="0.5694" stop-color="#a1ff5b"/><stop offset="0.5799" stop-color="#6ffe99"/><stop offset="0.5868" stop-color="#50f9c3"/><stop offset="0.5972" stop-color="#39e9ee"/><stop offset="0.6076" stop-color="#31ccfd"/><stop offset="0.6215" stop-color="#35a1ff"/><stop offset="0.6354" stop-color="#3780ff"/><stop offset="0.6528" stop-color="#3761ff"/><stop offset="0.6667" stop-color="#364dfe"/><stop offset="0.6875" stop-color="#2f39ed"/><stop offset="0.7292" stop-color="#2828cc"/><stop offset="0.7812" stop-color="#2423b3"/><stop offset="0.8403" stop-color="#2321a6"/><stop offset="0.9653" stop-color="#211f9b"/><stop offset="1.0000" stop-color="#211f9a"/></linearGradient><linearGradient id="ag29" x1="0" y1="0" x2="0" y2="1"><stop offset="0.0000" stop-color="#e96a00"/><stop offset="0.0625" stop-color="#e85400"/><stop offset="0.1389" stop-color="#df2d00"/><stop offset="0.1771" stop-color="#d91d00"/><stop offset="0.2639" stop-color="#bf0600"/><stop offset="0.3194" stop-color="#a90000"/><stop offset="0.3542" stop-color="#a50000"/><stop offset="0.4028" stop-color="#ae0100"/><stop offset="0.4653" stop-color="#c20800"/><stop offset="0.4896" stop-color="#d01400"/><stop offset="0.5035" stop-color="#dc2100"/><stop offset="0.5139" stop-color="#e23600"/><stop offset="0.5208" stop-color="#e84a00"/><stop offset="0.5312" stop-color="#ea7400"/><stop offset="0.5382" stop-color="#e99b00"/><stop offset="0.5417" stop-color="#e8b000"/><stop offset="0.5521" stop-color="#e0e110"/><stop offset="0.5625" stop-color="#c4f82d"/><stop offset="0.5729" stop-color="#9cff60"/><stop offset="0.5833" stop-color="#69fda0"/><stop offset="0.5903" stop-color="#4bf7ca"/><stop offset="0.5972" stop-color="#3dece7"/><stop offset="0.6007" stop-color="#37e5f1"/><stop offset="0.6111" stop-color="#30c9ff"/><stop offset="0.6250" stop-color="#359eff"/><stop offset="0.6389" stop-color="#377eff"/><stop offset="0.6562" stop-color="#3761ff"/><stop offset="0.6701" stop-color="#364dff"/><stop offset="0.6910" stop-color="#3039ee"/><stop offset="0.7326" stop-color="#2828cd"/><stop offset="0.7847" stop-color="#2523b4"/><stop offset="0.8438" stop-color="#2321a6"/><stop offset="0.9653" stop-color="#211f9b"/><stop offset="1.0000" stop-color="#211f9a"/></linearGradient><linearGradient id="ag30" x1="0" y1="0" x2="0" y2="1"><stop offset="0.0000" stop-color="#e96b00"/><stop offset="0.0625" stop-color="#e85500"/><stop offset="0.1389" stop-color="#df2c00"/><stop offset="0.1771" stop-color="#d91d00"/><stop offset="0.2604" stop-color="#bd0500"/><stop offset="0.3125" stop-color="#a70000"/><stop offset="0.3472" stop-color="#a20000"/><stop offset="0.3958" stop-color="#a70000"/><stop offset="0.4722" stop-color="#c30900"/><stop offset="0.4965" stop-color="#d11600"/><stop offset="0.5069" stop-color="#db1f00"/><stop offset="0.5174" stop-color="#e23500"/><stop offset="0.5243" stop-color="#e74a00"/><stop offset="0.5347" stop-color="#ea7500"/><stop offset="0.5417" stop-color="#e99e00"/><stop offset="0.5451" stop-color="#e8b400"/><stop offset="0.5556" stop-color="#dee312"/><stop offset="0.5660" stop-color="#c0f931"/><stop offset="0.5729" stop-color="#a6fe54"/><stop offset="0.5833" stop-color="#73ff93"/><stop offset="0.5903" stop-color="#53f9bf"/><stop offset="0.5938" stop-color="#48f5d1"/><stop offset="0.6007" stop-color="#3ae9ed"/><stop offset="0.6076" stop-color="#34d6f8"/><stop offset="0.6146" stop-color="#31c3ff"/><stop offset="0.6250" stop-color="#35a3ff"/><stop offset="0.6389" stop-color="#3783ff"/><stop offset="0.6597" stop-color="#3760ff"/><stop offset="0.6736" stop-color="#364eff"/><stop offset="0.6944" stop-color="#303aef"/><stop offset="0.7396" stop-color="#2828cb"/><stop offset="0.7917" stop-color="#2423b3"/><stop offset="0.8542" stop-color="#2220a5"/><stop offset="0.9757" stop-color="#211f9b"/><stop offset="1.0000" stop-color="#211f9a"/></linearGradient><linearGradient id="ag31" x1="0" y1="0" x2="0" y2="1"><stop offset="0.0000" stop-color="#e96d00"/><stop offset="0.0590" stop-color="#e85700"/><stop offset="0.1042" stop-color="#e43e00"/><stop offset="0.1736" stop-color="#d91d00"/><stop offset="0.2569" stop-color="#bc0500"/><stop offset="0.3056" stop-color="#a60000"/><stop offset="0.3438" stop-color="#9f0000"/><stop offset="0.3958" stop-color="#a20000"/><stop offset="0.4410" stop-color="#b30300"/><stop offset="0.4792" stop-color="#c30900"/><stop offset="0.5035" stop-color="#d31800"/><stop offset="0.5139" stop-color="#dd2400"/><stop offset="0.5243" stop-color="#e43f00"/><stop offset="0.5312" stop-color="#e95800"/><stop offset="0.5382" stop-color="#ea7800"/><stop offset="0.5486" stop-color="#e8b901"/><stop offset="0.5556" stop-color="#e2da0d"/><stop offset="0.5590" stop-color="#dbe615"/><stop offset="0.5660" stop-color="#c7f529"/><stop offset="0.5729" stop-color="#aefc49"/><stop offset="0.5764" stop-color="#a1ff5b"/><stop offset="0.5868" stop-color="#6cfe9d"/><stop offset="0.5938" stop-color="#4cf8c9"/><stop offset="0.6007" stop-color="#3dece6"/><stop offset="0.6042" stop-color="#37e5f1"/><stop offset="0.6146" stop-color="#30c9ff"/><stop offset="0.6285" stop-color="#359fff"/><stop offset="0.6424" stop-color="#3781ff"/><stop offset="0.6632" stop-color="#3760ff"/><stop offset="0.6771" stop-color="#364eff"/><stop offset="0.7014" stop-color="#2f38ed"/><stop offset="0.7465" stop-color="#2827ca"/><stop offset="0.7986" stop-color="#2423b3"/><stop offset="0.8611" stop-color="#2220a5"/><stop offset="0.9826" stop-color="#211f9a"/><stop offset="1.0000" stop-color="#211f9a"/></linearGradient><linearGradient id="ag32" x1="0" y1="0" x2="0" y2="1"><stop offset="0.0000" stop-color="#e96e00"/><stop offset="0.0590" stop-color="#e85700"/><stop offset="0.1042" stop-color="#e43d00"/><stop offset="0.1701" stop-color="#da1e00"/><stop offset="0.2500" stop-color="#bd0500"/><stop offset="0.2986" stop-color="#a50000"/><stop offset="0.3403" stop-color="#9c0000"/><stop offset="0.3993" stop-color="#9f0000"/><stop offset="0.4410" stop-color="#ad0100"/><stop offset="0.4826" stop-color="#c30800"/><stop offset="0.5069" stop-color="#d21700"/><stop offset="0.5174" stop-color="#dd2300"/><stop offset="0.5278" stop-color="#e53f00"/><stop offset="0.5347" stop-color="#e95b00"/><stop offset="0.5417" stop-color="#ea7c00"/><stop offset="0.5486" stop-color="#e8aa00"/><stop offset="0.5521" stop-color="#e7be03"/><stop offset="0.5590" stop-color="#e0e00f"/><stop offset="0.5694" stop-color="#c3f82e"/><stop offset="0.5799" stop-color="#99ff65"/><stop offset="0.5868" stop-color="#74ff91"/><stop offset="0.5938" stop-color="#53f9bf"/><stop offset="0.5972" stop-color="#48f4d1"/><stop offset="0.6042" stop-color="#39e9ee"/><stop offset="0.6146" stop-color="#31cdfd"/><stop offset="0.6250" stop-color="#33adff"/><stop offset="0.6389" stop-color="#378bff"/><stop offset="0.6597" stop-color="#3868ff"/><stop offset="0.6806" stop-color="#364eff"/><stop offset="0.7049" stop-color="#2f39ed"/><stop offset="0.7500" stop-color="#2828ca"/><stop offset="0.8021" stop-color="#2423b3"/><stop offset="0.8611" stop-color="#2220a5"/><stop offset="0.9826" stop-color="#211f9a"/><stop offset="1.0000" stop-color="#211f9a"/></linearGradient><linearGradient id="ag33" x1="0" y1="0" x2="0" y2="1"><stop offset="0.0000" stop-color="#e97000"/><stop offset="0.0556" stop-color="#e95a00"/><stop offset="0.1007" stop-color="#e54000"/><stop offset="0.1632" stop-color="#dc2000"/><stop offset="0.2465" stop-color="#bb0500"/><stop offset="0.2917" stop-color="#a40000"/><stop offset="0.3333" stop-color="#9a0000"/><stop offset="0.3993" stop-color="#9b0000"/><stop offset="0.4375" stop-color="#a60000"/><stop offset="0.4861" stop-color="#c10700"/><stop offset="0.5104" stop-color="#d21600"/><stop offset="0.5208" stop-color="#dd2300"/><stop offset="0.5312" stop-color="#e54200"/><stop offset="0.5382" stop-color="#e95f00"/><stop offset="0.5451" stop-color="#ea8400"/><stop offset="0.5521" stop-color="#e8b300"/><stop offset="0.5590" stop-color="#e2d60c"/><stop offset="0.5625" stop-color="#dde513"/><stop offset="0.5694" stop-color="#c8f528"/><stop offset="0.5729" stop-color="#bcfa37"/><stop offset="0.5799" stop-color="#a0ff5b"/><stop offset="0.5903" stop-color="#6bfd9f"/><stop offset="0.5972" stop-color="#4bf7cb"/><stop offset="0.6042" stop-color="#3cebe8"/><stop offset="0.6076" stop-color="#37e4f2"/><stop offset="0.6181" stop-color="#30c8ff"/><stop offset="0.6285" stop-color="#34a8ff"/><stop offset="0.6424" stop-color="#3788ff"/><stop offset="0.6632" stop-color="#3867ff"/><stop offset="0.6840" stop-color="#364eff"/><stop offset="0.7083" stop-color="#3039ee"/><stop offset="0.7535" stop-color="#2828ca"/><stop offset="0.8056" stop-color="#2423b3"/><stop offset="0.8646" stop-color="#2220a5"/><stop offset="0.9861" stop-color="#211f9a"/><stop offset="1.0000" stop-color="#211f9a"/></linearGradient><linearGradient id="ag34" x1="0" y1="0" x2="0" y2="1"><stop offset="0.0000" stop-color="#ea7100"/><stop offset="0.0521" stop-color="#e95c00"/><stop offset="0.0972" stop-color="#e54200"/><stop offset="0.1458" stop-color="#de2800"/><stop offset="0.1736" stop-color="#d71c00"/><stop offset="0.2396" stop-color="#bd0500"/><stop offset="0.2847" stop-color="#a30000"/><stop offset="0.3264" stop-color="#980000"/><stop offset="0.3993" stop-color="#980000"/><stop offset="0.4410" stop-color="#a30000"/><stop offset="0.4826" stop-color="#bb0500"/><stop offset="0.5000" stop-color="#c70c00"/><stop offset="0.5174" stop-color="#d51a00"/><stop offset="0.5243" stop-color="#dd2400"/><stop offset="0.5312" stop-color="#e33900"/><stop offset="0.5382" stop-color="#e85500"/><stop offset="0.5451" stop-color="#ea7800"/><stop offset="0.5556" stop-color="#e7bc02"/><stop offset="0.5625" stop-color="#e0df0f"/><stop offset="0.5729" stop-color="#c1f930"/><stop offset="0.5799" stop-color="#a6fe54"/><stop offset="0.5903" stop-color="#70fe97"/><stop offset="0.5972" stop-color="#4ff8c5"/><stop offset="0.6042" stop-color="#3eede4"/><stop offset="0.6076" stop-color="#38e7f0"/><stop offset="0.6181" stop-color="#31cbfe"/><stop offset="0.6319" stop-color="#35a3ff"/><stop offset="0.6458" stop-color="#3785ff"/><stop offset="0.6667" stop-color="#3866ff"/><stop offset="0.6875" stop-color="#364eff"/><stop offset="0.7118" stop-color="#3039ef"/><stop offset="0.7569" stop-color="#2828ca"/><stop offset="0.8125" stop-color="#2422b2"/><stop offset="0.8715" stop-color="#2220a4"/><stop offset="0.9931" stop-color="#211f9a"/><stop offset="1.0000" stop-color="#211f9a"/></linearGradient><linearGradient id="ag35" x1="0" y1="0" x2="0" y2="1"><stop offset="0.0000" stop-color="#ea7300"/><stop offset="0.0486" stop-color="#e95f00"/><stop offset="0.0972" stop-color="#e54200"/><stop offset="0.1424" stop-color="#de2900"/><stop offset="0.1701" stop-color="#d81c00"/><stop offset="0.2326" stop-color="#be0500"/><stop offset="0.2778" stop-color="#a20000"/><stop offset="0.3194" stop-color="#960000"/><stop offset="0.3854" stop-color="#930000"/><stop offset="0.4340" stop-color="#9c0000"/><stop offset="0.4722" stop-color="#ae0100"/><stop offset="0.4965" stop-color="#c10700"/><stop offset="0.5208" stop-color="#d61a00"/><stop offset="0.5243" stop-color="#da1e00"/><stop offset="0.5312" stop-color="#e13100"/><stop offset="0.5382" stop-color="#e84c00"/><stop offset="0.5451" stop-color="#e96e00"/><stop offset="0.5486" stop-color="#ea8300"/><stop offset="0.5556" stop-color="#e8b400"/><stop offset="0.5625" stop-color="#e2d90d"/><stop offset="0.5660" stop-color="#dbe615"/><stop offset="0.5729" stop-color="#c5f72b"/><stop offset="0.5833" stop-color="#9aff63"/><stop offset="0.5903" stop-color="#75ff91"/><stop offset="0.5972" stop-color="#53f9bf"/><stop offset="0.6007" stop-color="#48f4d1"/><stop offset="0.6076" stop-color="#39e9ed"/><stop offset="0.6181" stop-color="#31cefc"/><stop offset="0.6250" stop-color="#32b9ff"/><stop offset="0.6389" stop-color="#3695ff"/><stop offset="0.6562" stop-color="#3777ff"/><stop offset="0.6771" stop-color="#375dff"/><stop offset="0.6910" stop-color="#364eff"/><stop offset="0.7188" stop-color="#2f38ec"/><stop offset="0.7604" stop-color="#2828ca"/><stop offset="0.8160" stop-color="#2422b2"/><stop offset="0.8750" stop-color="#2220a4"/><stop offset="0.9965" stop-color="#211f9a"/><stop offset="1.0000" stop-color="#211f9a"/></linearGradient><linearGradient id="ag36" x1="0" y1="0" x2="0" y2="1"><stop offset="0.0000" stop-color="#ea7500"/><stop offset="0.0451" stop-color="#e96200"/><stop offset="0.0972" stop-color="#e54200"/><stop offset="0.1389" stop-color="#df2a00"/><stop offset="0.1667" stop-color="#d91d00"/><stop offset="0.2292" stop-color="#bd0500"/><stop offset="0.2708" stop-color="#a20000"/><stop offset="0.3125" stop-color="#940000"/><stop offset="0.3646" stop-color="#900000"/><stop offset="0.4167" stop-color="#940000"/><stop offset="0.4549" stop-color="#9f0000"/><stop offset="0.4861" stop-color="#b20300"/><stop offset="0.5035" stop-color="#c30900"/><stop offset="0.5243" stop-color="#d71b00"/><stop offset="0.5278" stop-color="#dc2000"/><stop offset="0.5347" stop-color="#e23700"/><stop offset="0.5417" stop-color="#e85400"/><stop offset="0.5486" stop-color="#ea7a00"/><stop offset="0.5556" stop-color="#e8ab00"/><stop offset="0.5625" stop-color="#e3d30b"/><stop offset="0.5660" stop-color="#dee412"/><stop offset="0.5729" stop-color="#c8f528"/><stop offset="0.5799" stop-color="#adfd4b"/><stop offset="0.5833" stop-color="#9eff5f"/><stop offset="0.5938" stop-color="#67fda3"/><stop offset="0.5972" stop-color="#56faba"/><stop offset="0.6007" stop-color="#49f6ce"/><stop offset="0.6076" stop-color="#3beaeb"/><stop offset="0.6111" stop-color="#37e2f3"/><stop offset="0.6215" stop-color="#30c8ff"/><stop offset="0.6354" stop-color="#35a0ff"/><stop offset="0.6493" stop-color="#3784ff"/><stop offset="0.6701" stop-color="#3867ff"/><stop offset="0.6944" stop-color="#364eff"/><stop offset="0.7222" stop-color="#2f38ec"/><stop offset="0.7639" stop-color="#2828ca"/><stop offset="0.8194" stop-color="#2422b2"/><stop offset="0.8750" stop-color="#2220a5"/><stop offset="0.9965" stop-color="#211f9a"/><stop offset="1.0000" stop-color="#211f9a"/></linearGradient><linearGradient id="ag37" x1="0" y1="0" x2="0" y2="1"><stop offset="0.0000" stop-color="#ea7700"/><stop offset="0.0417" stop-color="#e96500"/><stop offset="0.0938" stop-color="#e64400"/><stop offset="0.1354" stop-color="#df2c00"/><stop offset="0.1667" stop-color="#d81d00"/><stop offset="0.2257" stop-color="#bd0500"/><stop offset="0.2639" stop-color="#a20000"/><stop offset="0.3056" stop-color="#920000"/><stop offset="0.3542" stop-color="#8d0000"/><stop offset="0.4167" stop-color="#900000"/><stop offset="0.4618" stop-color="#9d0000"/><stop offset="0.4896" stop-color="#af0200"/><stop offset="0.5069" stop-color="#c20800"/><stop offset="0.5243" stop-color="#d41800"/><stop offset="0.5312" stop-color="#dd2500"/><stop offset="0.5382" stop-color="#e43e00"/><stop offset="0.5451" stop-color="#e95f00"/><stop offset="0.5486" stop-color="#ea7300"/><stop offset="0.5590" stop-color="#e7bb02"/><stop offset="0.5660" stop-color="#e0e110"/><stop offset="0.5729" stop-color="#caf326"/><stop offset="0.5764" stop-color="#bdf935"/><stop offset="0.5833" stop-color="#a1ff5b"/><stop offset="0.5938" stop-color="#6afda0"/><stop offset="0.6007" stop-color="#4af7cb"/><stop offset="0.6076" stop-color="#3cebe8"/><stop offset="0.6111" stop-color="#37e4f2"/><stop offset="0.6215" stop-color="#30cafe"/><stop offset="0.6354" stop-color="#35a2ff"/><stop offset="0.6493" stop-color="#3786ff"/><stop offset="0.6701" stop-color="#386aff"/><stop offset="0.6979" stop-color="#364eff"/><stop offset="0.7257" stop-color="#2f38ec"/><stop offset="0.7674" stop-color="#2828ca"/><stop offset="0.8229" stop-color="#2422b2"/><stop offset="0.8785" stop-color="#2220a4"/><stop offset="1.0000" stop-color="#211f9a"/></linearGradient><linearGradient id="ag38" x1="0" y1="0" x2="0" y2="1"><stop offset="0.0000" stop-color="#ea7800"/><stop offset="0.0382" stop-color="#e96800"/><stop offset="0.0903" stop-color="#e74700"/><stop offset="0.1285" stop-color="#e02f00"/><stop offset="0.1632" stop-color="#d91e00"/><stop offset="0.2188" stop-color="#bf0600"/><stop offset="0.2535" stop-color="#a40000"/><stop offset="0.2951" stop-color="#910000"/><stop offset="0.3472" stop-color="#8a0000"/><stop offset="0.4167" stop-color="#8c0000"/><stop offset="0.4583" stop-color="#960000"/><stop offset="0.4861" stop-color="#a60000"/><stop offset="0.5035" stop-color="#b90400"/><stop offset="0.5208" stop-color="#cd1200"/><stop offset="0.5312" stop-color="#dc2000"/><stop offset="0.5382" stop-color="#e33800"/><stop offset="0.5451" stop-color="#e95900"/><stop offset="0.5521" stop-color="#ea8200"/><stop offset="0.5590" stop-color="#e8b600"/><stop offset="0.5660" stop-color="#e1dd0e"/><stop offset="0.5729" stop-color="#ccf224"/><stop offset="0.5764" stop-color="#c0f932"/><stop offset="0.5833" stop-color="#a3ff59"/><stop offset="0.5938" stop-color="#6cfe9d"/><stop offset="0.6007" stop-color="#4bf7c9"/><stop offset="0.6076" stop-color="#3dece6"/><stop offset="0.6111" stop-color="#37e6f1"/><stop offset="0.6215" stop-color="#31cbfe"/><stop offset="0.6389" stop-color="#359cff"/><stop offset="0.6528" stop-color="#3782ff"/><stop offset="0.6736" stop-color="#3868ff"/><stop offset="0.7014" stop-color="#364eff"/><stop offset="0.7292" stop-color="#2f38ec"/><stop offset="0.7708" stop-color="#2828ca"/><stop offset="0.8264" stop-color="#2422b2"/><stop offset="0.8819" stop-color="#2220a4"/><stop offset="1.0000" stop-color="#211f9a"/></linearGradient><linearGradient id="ag39" x1="0" y1="0" x2="0" y2="1"><stop offset="0.0000" stop-color="#ea7a00"/><stop offset="0.0382" stop-color="#e96a00"/><stop offset="0.0903" stop-color="#e74700"/><stop offset="0.1285" stop-color="#e02e00"/><stop offset="0.1632" stop-color="#d91d00"/><stop offset="0.2153" stop-color="#bf0600"/><stop offset="0.2500" stop-color="#a20000"/><stop offset="0.2917" stop-color="#8e0000"/><stop offset="0.3472" stop-color="#860000"/><stop offset="0.4201" stop-color="#8a0000"/><stop offset="0.4618" stop-color="#920000"/><stop offset="0.4861" stop-color="#a00000"/><stop offset="0.5035" stop-color="#b40300"/><stop offset="0.5139" stop-color="#c30800"/><stop offset="0.5278" stop-color="#d31800"/><stop offset="0.5312" stop-color="#d91d00"/><stop offset="0.5347" stop-color="#de2600"/><stop offset="0.5417" stop-color="#e54200"/><stop offset="0.5486" stop-color="#e96700"/><stop offset="0.5521" stop-color="#ea7b00"/><stop offset="0.5590" stop-color="#e8b000"/><stop offset="0.5660" stop-color="#e2d90d"/><stop offset="0.5694" stop-color="#d9e717"/><stop offset="0.5764" stop-color="#c1f82f"/><stop offset="0.5833" stop-color="#a4fe57"/><stop offset="0.5938" stop-color="#6efe9b"/><stop offset="0.6007" stop-color="#4cf8c8"/><stop offset="0.6076" stop-color="#3eede5"/><stop offset="0.6111" stop-color="#38e7f0"/><stop offset="0.6250" stop-color="#31c4ff"/><stop offset="0.6389" stop-color="#359eff"/><stop offset="0.6528" stop-color="#3784ff"/><stop offset="0.6736" stop-color="#386aff"/><stop offset="0.7049" stop-color="#364dff"/><stop offset="0.7326" stop-color="#2f38ec"/><stop offset="0.7743" stop-color="#2828ca"/><stop offset="0.8299" stop-color="#2422b1"/><stop offset="0.8854" stop-color="#2220a4"/><stop offset="1.0000" stop-color="#211f9a"/></linearGradient><linearGradient id="ag40" x1="0" y1="0" x2="0" y2="1"><stop offset="0.0000" stop-color="#ea7c00"/><stop offset="0.0347" stop-color="#e96e00"/><stop offset="0.0833" stop-color="#e84d00"/><stop offset="0.1250" stop-color="#e03000"/><stop offset="0.1597" stop-color="#da1e00"/><stop offset="0.2118" stop-color="#bf0600"/><stop offset="0.2431" stop-color="#a20000"/><stop offset="0.2847" stop-color="#8d0000"/><stop offset="0.3368" stop-color="#840000"/><stop offset="0.4167" stop-color="#860000"/><stop offset="0.4688" stop-color="#8f0000"/><stop offset="0.4896" stop-color="#9d0000"/><stop offset="0.5069" stop-color="#b40300"/><stop offset="0.5174" stop-color="#c40900"/><stop offset="0.5312" stop-color="#d71b00"/><stop offset="0.5347" stop-color="#dd2200"/><stop offset="0.5417" stop-color="#e43e00"/><stop offset="0.5486" stop-color="#e96200"/><stop offset="0.5521" stop-color="#ea7700"/><stop offset="0.5590" stop-color="#e8ab00"/><stop offset="0.5660" stop-color="#e2d60c"/><stop offset="0.5694" stop-color="#dbe615"/><stop offset="0.5764" stop-color="#c3f82d"/><stop offset="0.5833" stop-color="#a5fe55"/><stop offset="0.5938" stop-color="#6ffe99"/><stop offset="0.6007" stop-color="#4ef8c6"/><stop offset="0.6111" stop-color="#38e8f0"/><stop offset="0.6250" stop-color="#30c5ff"/><stop offset="0.6389" stop-color="#35a0ff"/><stop offset="0.6528" stop-color="#3785ff"/><stop offset="0.6736" stop-color="#386cff"/><stop offset="0.7083" stop-color="#364dfe"/><stop offset="0.7361" stop-color="#2f38ec"/><stop offset="0.7778" stop-color="#2827c9"/><stop offset="0.8299" stop-color="#2422b2"/><stop offset="0.8819" stop-color="#2220a4"/><stop offset="1.0000" stop-color="#211f9a"/></linearGradient><linearGradient id="ag41" x1="0" y1="0" x2="0" y2="1"><stop offset="0.0000" stop-color="#ea7e00"/><stop offset="0.0382" stop-color="#e96e00"/><stop offset="0.0868" stop-color="#e84b00"/><stop offset="0.1250" stop-color="#e02f00"/><stop offset="0.1597" stop-color="#d91d00"/><stop offset="0.2083" stop-color="#bf0600"/><stop offset="0.2396" stop-color="#a10000"/><stop offset="0.2778" stop-color="#8c0000"/><stop offset="0.3229" stop-color="#820000"/><stop offset="0.4062" stop-color="#810000"/><stop offset="0.4618" stop-color="#890000"/><stop offset="0.4826" stop-color="#920000"/><stop offset="0.5000" stop-color="#a40000"/><stop offset="0.5174" stop-color="#c20800"/><stop offset="0.5312" stop-color="#d51900"/><stop offset="0.5347" stop-color="#db2000"/><stop offset="0.5417" stop-color="#e33a00"/><stop offset="0.5451" stop-color="#e84b00"/><stop offset="0.5521" stop-color="#ea7300"/><stop offset="0.5590" stop-color="#e8a800"/><stop offset="0.5625" stop-color="#e6c004"/><stop offset="0.5660" stop-color="#e3d40b"/><stop offset="0.5694" stop-color="#dce514"/><stop offset="0.5764" stop-color="#c4f82c"/><stop offset="0.5868" stop-color="#95ff69"/><stop offset="0.5938" stop-color="#70fe97"/><stop offset="0.6007" stop-color="#4ff9c4"/><stop offset="0.6076" stop-color="#3feee2"/><stop offset="0.6111" stop-color="#39e9ee"/><stop offset="0.6250" stop-color="#30c7ff"/><stop offset="0.6389" stop-color="#35a1ff"/><stop offset="0.6528" stop-color="#3787ff"/><stop offset="0.6736" stop-color="#386eff"/><stop offset="0.7118" stop-color="#354cfe"/><stop offset="0.7396" stop-color="#2f37eb"/><stop offset="0.7778" stop-color="#2828cb"/><stop offset="0.8299" stop-color="#2422b2"/><stop offset="0.8819" stop-color="#2220a4"/><stop offset="1.0000" stop-color="#211f9a"/></linearGradient><linearGradient id="ag42" x1="0" y1="0" x2="0" y2="1"><stop offset="0.0000" stop-color="#ea8100"/><stop offset="0.0382" stop-color="#ea7000"/><stop offset="0.0833" stop-color="#e84f00"/><stop offset="0.1215" stop-color="#e13100"/><stop offset="0.1562" stop-color="#da1e00"/><stop offset="0.2049" stop-color="#c00600"/><stop offset="0.2326" stop-color="#a30000"/><stop offset="0.2674" stop-color="#8e0000"/><stop offset="0.3090" stop-color="#810000"/><stop offset="0.3889" stop-color="#7e0000"/><stop offset="0.4549" stop-color="#840000"/><stop offset="0.4826" stop-color="#8e0000"/><stop offset="0.5000" stop-color="#a10000"/><stop offset="0.5174" stop-color="#c00600"/><stop offset="0.5312" stop-color="#d41800"/><stop offset="0.5347" stop-color="#da1e00"/><stop offset="0.5382" stop-color="#df2a00"/><stop offset="0.5451" stop-color="#e74900"/><stop offset="0.5521" stop-color="#ea7100"/><stop offset="0.5556" stop-color="#ea8900"/><stop offset="0.5625" stop-color="#e7be03"/><stop offset="0.5694" stop-color="#dde413"/><stop offset="0.5764" stop-color="#c5f72b"/><stop offset="0.5868" stop-color="#96ff68"/><stop offset="0.5938" stop-color="#71ff96"/><stop offset="0.6007" stop-color="#50f9c2"/><stop offset="0.6076" stop-color="#40eee0"/><stop offset="0.6111" stop-color="#39e9ed"/><stop offset="0.6215" stop-color="#32d0fb"/><stop offset="0.6250" stop-color="#30c8ff"/><stop offset="0.6389" stop-color="#35a3ff"/><stop offset="0.6528" stop-color="#3788ff"/><stop offset="0.6736" stop-color="#3870ff"/><stop offset="0.7118" stop-color="#364eff"/><stop offset="0.7396" stop-color="#2f38ed"/><stop offset="0.7812" stop-color="#2828ca"/><stop offset="0.8333" stop-color="#2422b2"/><stop offset="0.8854" stop-color="#2220a4"/><stop offset="1.0000" stop-color="#211f9a"/></linearGradient><linearGradient id="ag43" x1="0" y1="0" x2="0" y2="1"><stop offset="0.0000" stop-color="#ea8300"/><stop offset="0.0417" stop-color="#ea7100"/><stop offset="0.0833" stop-color="#e85000"/><stop offset="0.1181" stop-color="#e13300"/><stop offset="0.1562" stop-color="#da1e00"/><stop offset="0.2014" stop-color="#c10700"/><stop offset="0.2292" stop-color="#a20000"/><stop offset="0.2604" stop-color="#8e0000"/><stop offset="0.3021" stop-color="#7f0000"/><stop offset="0.3819" stop-color="#7c0000"/><stop offset="0.4514" stop-color="#800000"/><stop offset="0.4792" stop-color="#8a0000"/><stop offset="0.4931" stop-color="#960000"/><stop offset="0.5069" stop-color="#ab0100"/><stop offset="0.5208" stop-color="#c40900"/><stop offset="0.5347" stop-color="#da1e00"/><stop offset="0.5382" stop-color="#de2900"/><stop offset="0.5451" stop-color="#e74800"/><stop offset="0.5521" stop-color="#ea7000"/><stop offset="0.5556" stop-color="#ea8900"/><stop offset="0.5625" stop-color="#e7be03"/><stop offset="0.5694" stop-color="#dde413"/><stop offset="0.5764" stop-color="#c5f72b"/><stop offset="0.5868" stop-color="#97ff67"/><stop offset="0.5938" stop-color="#72ff95"/><stop offset="0.6007" stop-color="#51f9c1"/><stop offset="0.6042" stop-color="#47f4d1"/><stop offset="0.6111" stop-color="#3aeaec"/><stop offset="0.6181" stop-color="#34d9f7"/><stop offset="0.6250" stop-color="#30c9fe"/><stop offset="0.6389" stop-color="#34a4ff"/><stop offset="0.6528" stop-color="#378aff"/><stop offset="0.6701" stop-color="#3774ff"/><stop offset="0.7153" stop-color="#364dfe"/><stop offset="0.7431" stop-color="#2f38eb"/><stop offset="0.7812" stop-color="#2828cb"/><stop offset="0.8333" stop-color="#2422b2"/><stop offset="0.8854" stop-color="#2220a4"/><stop offset="1.0000" stop-color="#211f9a"/></linearGradient><linearGradient id="ag44" x1="0" y1="0" x2="0" y2="1"><stop offset="0.0000" stop-color="#ea8500"/><stop offset="0.0382" stop-color="#ea7500"/><stop offset="0.0729" stop-color="#e95a00"/><stop offset="0.1042" stop-color="#e43d00"/><stop offset="0.1354" stop-color="#de2800"/><stop offset="0.1562" stop-color="#d91d00"/><stop offset="0.1979" stop-color="#c10700"/><stop offset="0.2222" stop-color="#a50000"/><stop offset="0.2465" stop-color="#930000"/><stop offset="0.2951" stop-color="#7e0000"/><stop offset="0.3507" stop-color="#7b0000"/><stop offset="0.4514" stop-color="#7d0000"/><stop offset="0.4757" stop-color="#860000"/><stop offset="0.4931" stop-color="#950000"/><stop offset="0.5104" stop-color="#b10200"/><stop offset="0.5208" stop-color="#c40900"/><stop offset="0.5347" stop-color="#da1e00"/><stop offset="0.5382" stop-color="#de2900"/><stop offset="0.5451" stop-color="#e74800"/><stop offset="0.5521" stop-color="#ea7100"/><stop offset="0.5556" stop-color="#ea8900"/><stop offset="0.5625" stop-color="#e6be03"/><stop offset="0.5694" stop-color="#dde413"/><stop offset="0.5764" stop-color="#c5f82b"/><stop offset="0.5868" stop-color="#97ff67"/><stop offset="0.5938" stop-color="#73ff94"/><stop offset="0.6007" stop-color="#53f9bf"/><stop offset="0.6042" stop-color="#48f5d0"/><stop offset="0.6111" stop-color="#3beaea"/><stop offset="0.6146" stop-color="#37e3f2"/><stop offset="0.6250" stop-color="#31cafe"/><stop offset="0.6389" stop-color="#34a6ff"/><stop offset="0.6528" stop-color="#378bff"/><stop offset="0.6701" stop-color="#3776ff"/><stop offset="0.7153" stop-color="#364eff"/><stop offset="0.7431" stop-color="#2f38ed"/><stop offset="0.7847" stop-color="#2827c9"/><stop offset="0.8368" stop-color="#2422b1"/><stop offset="0.8889" stop-color="#2220a4"/><stop offset="1.0000" stop-color="#211f9a"/></linearGradient><linearGradient id="ag45" x1="0" y1="0" x2="0" y2="1"><stop offset="0.0000" stop-color="#ea8700"/><stop offset="0.0382" stop-color="#ea7800"/><stop offset="0.0694" stop-color="#e96000"/><stop offset="0.1007" stop-color="#e54000"/><stop offset="0.1285" stop-color="#df2b00"/><stop offset="0.1562" stop-color="#d81d00"/><stop offset="0.1979" stop-color="#bf0600"/><stop offset="0.2222" stop-color="#a10000"/><stop offset="0.2500" stop-color="#8f0000"/><stop offset="0.2951" stop-color="#7c0000"/><stop offset="0.3576" stop-color="#790000"/><stop offset="0.4514" stop-color="#7b0000"/><stop offset="0.4722" stop-color="#830000"/><stop offset="0.4896" stop-color="#900000"/><stop offset="0.5069" stop-color="#aa0100"/><stop offset="0.5208" stop-color="#c40a00"/><stop offset="0.5347" stop-color="#da1e00"/><stop offset="0.5382" stop-color="#df2a00"/><stop offset="0.5451" stop-color="#e74900"/><stop offset="0.5521" stop-color="#ea7200"/><stop offset="0.5590" stop-color="#e9a700"/><stop offset="0.5625" stop-color="#e6c004"/><stop offset="0.5660" stop-color="#e2d40b"/><stop offset="0.5694" stop-color="#dce514"/><stop offset="0.5764" stop-color="#c4f82c"/><stop offset="0.5868" stop-color="#97ff67"/><stop offset="0.5938" stop-color="#73ff93"/><stop offset="0.6007" stop-color="#54f9be"/><stop offset="0.6042" stop-color="#49f5cf"/><stop offset="0.6111" stop-color="#3bebe9"/><stop offset="0.6146" stop-color="#37e4f2"/><stop offset="0.6250" stop-color="#31ccfd"/><stop offset="0.6424" stop-color="#35a0ff"/><stop offset="0.6562" stop-color="#3788ff"/><stop offset="0.6806" stop-color="#386eff"/><stop offset="0.7188" stop-color="#354cfe"/><stop offset="0.7465" stop-color="#2f37ea"/><stop offset="0.7847" stop-color="#2828ca"/><stop offset="0.8403" stop-color="#2422b0"/><stop offset="0.8924" stop-color="#2220a3"/><stop offset="1.0000" stop-color="#211f9a"/></linearGradient><linearGradient id="ag46" x1="0" y1="0" x2="0" y2="1"><stop offset="0.0000" stop-color="#ea8900"/><stop offset="0.0347" stop-color="#ea7c00"/><stop offset="0.0625" stop-color="#e96800"/><stop offset="0.0972" stop-color="#e64400"/><stop offset="0.1215" stop-color="#e02f00"/><stop offset="0.1528" stop-color="#da1e00"/><stop offset="0.1944" stop-color="#c10700"/><stop offset="0.2188" stop-color="#a20000"/><stop offset="0.2396" stop-color="#920000"/><stop offset="0.2951" stop-color="#7b0000"/><stop offset="0.3889" stop-color="#790000"/><stop offset="0.4549" stop-color="#7a0000"/><stop offset="0.4757" stop-color="#840000"/><stop offset="0.4931" stop-color="#950000"/><stop offset="0.5104" stop-color="#b10200"/><stop offset="0.5174" stop-color="#c00600"/><stop offset="0.5312" stop-color="#d41900"/><stop offset="0.5347" stop-color="#db1f00"/><stop offset="0.5417" stop-color="#e33a00"/><stop offset="0.5451" stop-color="#e84b00"/><stop offset="0.5521" stop-color="#ea7400"/><stop offset="0.5590" stop-color="#e8aa00"/><stop offset="0.5625" stop-color="#e6c204"/><stop offset="0.5660" stop-color="#e2d60c"/><stop offset="0.5694" stop-color="#dbe615"/><stop offset="0.5764" stop-color="#c3f82e"/><stop offset="0.5868" stop-color="#96ff68"/><stop offset="0.5938" stop-color="#74ff92"/><stop offset="0.6007" stop-color="#55fabc"/><stop offset="0.6042" stop-color="#49f6ce"/><stop offset="0.6111" stop-color="#3cebe7"/><stop offset="0.6146" stop-color="#37e5f1"/><stop offset="0.6285" stop-color="#30c5ff"/><stop offset="0.6424" stop-color="#35a2ff"/><stop offset="0.6562" stop-color="#3789ff"/><stop offset="0.6806" stop-color="#386fff"/><stop offset="0.7188" stop-color="#364dfe"/><stop offset="0.7465" stop-color="#2f38eb"/><stop offset="0.7847" stop-color="#2828ca"/><stop offset="0.8403" stop-color="#2422b1"/><stop offset="0.8924" stop-color="#2220a3"/><stop offset="1.0000" stop-color="#211f9a"/></linearGradient><linearGradient id="ag47" x1="0" y1="0" x2="0" y2="1"><stop offset="0.0000" stop-color="#ea8a00"/><stop offset="0.0347" stop-color="#ea7e00"/><stop offset="0.0625" stop-color="#e96a00"/><stop offset="0.0972" stop-color="#e64400"/><stop offset="0.1215" stop-color="#e02f00"/><stop offset="0.1528" stop-color="#d91d00"/><stop offset="0.1910" stop-color="#c20800"/><stop offset="0.2049" stop-color="#b10200"/><stop offset="0.2222" stop-color="#9c0000"/><stop offset="0.2500" stop-color="#8c0000"/><stop offset="0.2951" stop-color="#7a0000"/><stop offset="0.4340" stop-color="#780000"/><stop offset="0.4618" stop-color="#7b0000"/><stop offset="0.4826" stop-color="#890000"/><stop offset="0.4931" stop-color="#940000"/><stop offset="0.5104" stop-color="#b20200"/><stop offset="0.5174" stop-color="#c00600"/><stop offset="0.5312" stop-color="#d51900"/><stop offset="0.5347" stop-color="#dc2000"/><stop offset="0.5417" stop-color="#e33b00"/><stop offset="0.5451" stop-color="#e84c00"/><stop offset="0.5521" stop-color="#ea7500"/><stop offset="0.5590" stop-color="#e8ab00"/><stop offset="0.5660" stop-color="#e2d70c"/><stop offset="0.5694" stop-color="#dae716"/><stop offset="0.5764" stop-color="#c2f82f"/><stop offset="0.5868" stop-color="#96ff68"/><stop offset="0.5938" stop-color="#74ff92"/><stop offset="0.6007" stop-color="#56fabb"/><stop offset="0.6042" stop-color="#4af6cc"/><stop offset="0.6146" stop-color="#38e7f1"/><stop offset="0.6285" stop-color="#30c6ff"/><stop offset="0.6424" stop-color="#35a3ff"/><stop offset="0.6562" stop-color="#378bff"/><stop offset="0.6806" stop-color="#3870ff"/><stop offset="0.7188" stop-color="#364eff"/><stop offset="0.7465" stop-color="#2f38ec"/><stop offset="0.7847" stop-color="#2828cb"/><stop offset="0.8403" stop-color="#2422b1"/><stop offset="0.8958" stop-color="#2220a3"/><stop offset="1.0000" stop-color="#211f9a"/></linearGradient>
<clipPath id="aclip"><rect x="190.30" y="45.50" width="190.70" height="1151.50"/></clipPath>
<filter id="ablur" x="-10%" y="-1%" width="120%" height="102%" color-interpolation-filters="sRGB"><feGaussianBlur stdDeviation="1.60 0"/></filter>
</defs>
<g clip-path="url(#aclip)"><g filter="url(#ablur)"><rect x="182.30" y="45.50" width="12.57" height="1151.50" fill="url(#ag0)"/><rect x="194.27" y="45.50" width="4.57" height="1151.50" fill="url(#ag1)"/><rect x="198.25" y="45.50" width="4.57" height="1151.50" fill="url(#ag2)"/><rect x="202.22" y="45.50" width="4.57" height="1151.50" fill="url(#ag3)"/><rect x="206.19" y="45.50" width="4.57" height="1151.50" fill="url(#ag4)"/><rect x="210.16" y="45.50" width="4.57" height="1151.50" fill="url(#ag5)"/><rect x="214.14" y="45.50" width="4.57" height="1151.50" fill="url(#ag6)"/><rect x="218.11" y="45.50" width="4.57" height="1151.50" fill="url(#ag7)"/><rect x="222.08" y="45.50" width="4.57" height="1151.50" fill="url(#ag8)"/><rect x="226.06" y="45.50" width="4.57" height="1151.50" fill="url(#ag9)"/><rect x="230.03" y="45.50" width="4.57" height="1151.50" fill="url(#ag10)"/><rect x="234.00" y="45.50" width="4.57" height="1151.50" fill="url(#ag11)"/><rect x="237.98" y="45.50" width="4.57" height="1151.50" fill="url(#ag12)"/><rect x="241.95" y="45.50" width="4.57" height="1151.50" fill="url(#ag13)"/><rect x="245.92" y="45.50" width="4.57" height="1151.50" fill="url(#ag14)"/><rect x="249.89" y="45.50" width="4.57" height="1151.50" fill="url(#ag15)"/><rect x="253.87" y="45.50" width="4.57" height="1151.50" fill="url(#ag16)"/><rect x="257.84" y="45.50" width="4.57" height="1151.50" fill="url(#ag17)"/><rect x="261.81" y="45.50" width="4.57" height="1151.50" fill="url(#ag18)"/><rect x="265.79" y="45.50" width="4.57" height="1151.50" fill="url(#ag19)"/><rect x="269.76" y="45.50" width="4.57" height="1151.50" fill="url(#ag20)"/><rect x="273.73" y="45.50" width="4.57" height="1151.50" fill="url(#ag21)"/><rect x="277.70" y="45.50" width="4.57" height="1151.50" fill="url(#ag22)"/><rect x="281.68" y="45.50" width="4.57" height="1151.50" fill="url(#ag23)"/><rect x="285.65" y="45.50" width="4.57" height="1151.50" fill="url(#ag24)"/><rect x="289.62" y="45.50" width="4.57" height="1151.50" fill="url(#ag25)"/><rect x="293.60" y="45.50" width="4.57" height="1151.50" fill="url(#ag26)"/><rect x="297.57" y="45.50" width="4.57" height="1151.50" fill="url(#ag27)"/><rect x="301.54" y="45.50" width="4.57" height="1151.50" fill="url(#ag28)"/><rect x="305.51" y="45.50" width="4.57" height="1151.50" fill="url(#ag29)"/><rect x="309.49" y="45.50" width="4.57" height="1151.50" fill="url(#ag30)"/><rect x="313.46" y="45.50" width="4.57" height="1151.50" fill="url(#ag31)"/><rect x="317.43" y="45.50" width="4.57" height="1151.50" fill="url(#ag32)"/><rect x="321.41" y="45.50" width="4.57" height="1151.50" fill="url(#ag33)"/><rect x="325.38" y="45.50" width="4.57" height="1151.50" fill="url(#ag34)"/><rect x="329.35" y="45.50" width="4.57" height="1151.50" fill="url(#ag35)"/><rect x="333.32" y="45.50" width="4.57" height="1151.50" fill="url(#ag36)"/><rect x="337.30" y="45.50" width="4.57" height="1151.50" fill="url(#ag37)"/><rect x="341.27" y="45.50" width="4.57" height="1151.50" fill="url(#ag38)"/><rect x="345.24" y="45.50" width="4.57" height="1151.50" fill="url(#ag39)"/><rect x="349.22" y="45.50" width="4.57" height="1151.50" fill="url(#ag40)"/><rect x="353.19" y="45.50" width="4.57" height="1151.50" fill="url(#ag41)"/><rect x="357.16" y="45.50" width="4.57" height="1151.50" fill="url(#ag42)"/><rect x="361.14" y="45.50" width="4.57" height="1151.50" fill="url(#ag43)"/><rect x="365.11" y="45.50" width="4.57" height="1151.50" fill="url(#ag44)"/><rect x="369.08" y="45.50" width="4.57" height="1151.50" fill="url(#ag45)"/><rect x="373.05" y="45.50" width="4.57" height="1151.50" fill="url(#ag46)"/><rect x="377.03" y="45.50" width="12.57" height="1151.50" fill="url(#ag47)"/></g></g>
<defs><linearGradient id="bg0" x1="0" y1="0" x2="0" y2="1"><stop offset="0.0000" stop-color="#780000"/><stop offset="0.1111" stop-color="#7a0000"/><stop offset="0.1528" stop-color="#880000"/><stop offset="0.1632" stop-color="#920000"/><stop offset="0.1736" stop-color="#a90000"/><stop offset="0.1806" stop-color="#bc0500"/><stop offset="0.1875" stop-color="#c80e00"/><stop offset="0.2014" stop-color="#d51900"/><stop offset="0.2188" stop-color="#dd2300"/><stop offset="0.2326" stop-color="#e23600"/><stop offset="0.2500" stop-color="#e95900"/><stop offset="0.2639" stop-color="#ea7c00"/><stop offset="0.2812" stop-color="#e7ba01"/><stop offset="0.2986" stop-color="#dfe211"/><stop offset="0.3194" stop-color="#c3f82d"/><stop offset="0.3299" stop-color="#aafd4f"/><stop offset="0.3368" stop-color="#94ff6b"/><stop offset="0.3507" stop-color="#62fcaa"/><stop offset="0.3576" stop-color="#4cf8c8"/><stop offset="0.3681" stop-color="#3bebe9"/><stop offset="0.3715" stop-color="#37e4f2"/><stop offset="0.3819" stop-color="#30c9ff"/><stop offset="0.3958" stop-color="#3696ff"/><stop offset="0.4062" stop-color="#3778ff"/><stop offset="0.4167" stop-color="#3863ff"/><stop offset="0.4306" stop-color="#364eff"/><stop offset="0.4479" stop-color="#2f38ed"/><stop offset="0.4722" stop-color="#2828cb"/><stop offset="0.5139" stop-color="#2220a4"/><stop offset="0.5556" stop-color="#1f1d92"/><stop offset="0.6215" stop-color="#1d1c88"/><stop offset="0.7257" stop-color="#1c1b84"/><stop offset="0.8646" stop-color="#1c1b82"/><stop offset="1.0000" stop-color="#1c1b82"/></linearGradient><linearGradient id="bg1" x1="0" y1="0" x2="0" y2="1"><stop offset="0.0000" stop-color="#780000"/><stop offset="0.1111" stop-color="#790000"/><stop offset="0.1528" stop-color="#880000"/><stop offset="0.1632" stop-color="#910000"/><stop offset="0.1736" stop-color="#a80000"/><stop offset="0.1840" stop-color="#c30900"/><stop offset="0.1979" stop-color="#d21700"/><stop offset="0.2188" stop-color="#dc2100"/><stop offset="0.2326" stop-color="#e13300"/><stop offset="0.2500" stop-color="#e85500"/><stop offset="0.2639" stop-color="#ea7800"/><stop offset="0.2812" stop-color="#e8b600"/><stop offset="0.2986" stop-color="#e0e00f"/><stop offset="0.3194" stop-color="#c6f72a"/><stop offset="0.3264" stop-color="#b6fb3e"/><stop offset="0.3368" stop-color="#98ff65"/><stop offset="0.3507" stop-color="#66fda5"/><stop offset="0.3576" stop-color="#4ff9c4"/><stop offset="0.3715" stop-color="#38e7f0"/><stop offset="0.3819" stop-color="#31cbfe"/><stop offset="0.3958" stop-color="#3698ff"/><stop offset="0.4062" stop-color="#377bff"/><stop offset="0.4167" stop-color="#3867ff"/><stop offset="0.4340" stop-color="#364fff"/><stop offset="0.4514" stop-color="#303aef"/><stop offset="0.4792" stop-color="#2827ca"/><stop offset="0.5174" stop-color="#2220a5"/><stop offset="0.5556" stop-color="#1f1e93"/><stop offset="0.6146" stop-color="#1d1c89"/><stop offset="0.7222" stop-color="#1c1b84"/><stop offset="0.8611" stop-color="#1c1b83"/><stop offset="1.0000" stop-color="#1c1b82"/></linearGradient><linearGradient id="bg2" x1="0" y1="0" x2="0" y2="1"><stop offset="0.0000" stop-color="#780000"/><stop offset="0.1146" stop-color="#7a0000"/><stop offset="0.1528" stop-color="#880000"/><stop offset="0.1632" stop-color="#900000"/><stop offset="0.1736" stop-color="#a70000"/><stop offset="0.1840" stop-color="#c20800"/><stop offset="0.1979" stop-color="#d21600"/><stop offset="0.2222" stop-color="#dc2100"/><stop offset="0.2361" stop-color="#e23400"/><stop offset="0.2535" stop-color="#e95800"/><stop offset="0.2674" stop-color="#ea7c00"/><stop offset="0.2847" stop-color="#e7ba01"/><stop offset="0.2986" stop-color="#e1dc0e"/><stop offset="0.3056" stop-color="#dae616"/><stop offset="0.3229" stop-color="#c2f82e"/><stop offset="0.3333" stop-color="#a8fd51"/><stop offset="0.3403" stop-color="#91ff6e"/><stop offset="0.3507" stop-color="#6bfd9e"/><stop offset="0.3611" stop-color="#4bf7cb"/><stop offset="0.3715" stop-color="#3aeaec"/><stop offset="0.3819" stop-color="#32cffc"/><stop offset="0.3889" stop-color="#32b5ff"/><stop offset="0.3993" stop-color="#3691ff"/><stop offset="0.4097" stop-color="#3779ff"/><stop offset="0.4271" stop-color="#3760ff"/><stop offset="0.4410" stop-color="#364eff"/><stop offset="0.4583" stop-color="#303aef"/><stop offset="0.4861" stop-color="#2827c9"/><stop offset="0.5208" stop-color="#2321a6"/><stop offset="0.5556" stop-color="#201e95"/><stop offset="0.6042" stop-color="#1e1c8b"/><stop offset="0.7188" stop-color="#1c1b85"/><stop offset="0.8576" stop-color="#1c1b83"/><stop offset="0.9965" stop-color="#1c1b82"/><stop offset="1.0000" stop-color="#1c1b82"/></linearGradient><linearGradient id="bg3" x1="0" y1="0" x2="0" y2="1"><stop offset="0.0000" stop-color="#780000"/><stop offset="0.1146" stop-color="#790000"/><stop offset="0.1528" stop-color="#870000"/><stop offset="0.1632" stop-color="#900000"/><stop offset="0.1736" stop-color="#a50000"/><stop offset="0.1840" stop-color="#c10700"/><stop offset="0.1979" stop-color="#d11500"/><stop offset="0.2257" stop-color="#dc2100"/><stop offset="0.2396" stop-color="#e23600"/><stop offset="0.2535" stop-color="#e85300"/><stop offset="0.2708" stop-color="#ea8000"/><stop offset="0.2847" stop-color="#e8b300"/><stop offset="0.2986" stop-color="#e2d80c"/><stop offset="0.3056" stop-color="#dde513"/><stop offset="0.3229" stop-color="#c5f72b"/><stop offset="0.3299" stop-color="#b6fb3f"/><stop offset="0.3368" stop-color="#a3fe58"/><stop offset="0.3507" stop-color="#71fe96"/><stop offset="0.3611" stop-color="#4ff9c4"/><stop offset="0.3750" stop-color="#38e7f0"/><stop offset="0.3854" stop-color="#30cafe"/><stop offset="0.3958" stop-color="#35a2ff"/><stop offset="0.4062" stop-color="#3785ff"/><stop offset="0.4201" stop-color="#3870ff"/><stop offset="0.4479" stop-color="#364fff"/><stop offset="0.4653" stop-color="#303af0"/><stop offset="0.4931" stop-color="#2827c9"/><stop offset="0.5243" stop-color="#2321a8"/><stop offset="0.5521" stop-color="#201f98"/><stop offset="0.5938" stop-color="#1e1d8d"/><stop offset="0.7188" stop-color="#1c1b85"/><stop offset="0.8576" stop-color="#1c1b83"/><stop offset="0.9965" stop-color="#1c1b82"/><stop offset="1.0000" stop-color="#1c1b82"/></linearGradient><linearGradient id="bg4" x1="0" y1="0" x2="0" y2="1"><stop offset="0.0000" stop-color="#780000"/><stop offset="0.1181" stop-color="#7a0000"/><stop offset="0.1562" stop-color="#890000"/><stop offset="0.1632" stop-color="#8f0000"/><stop offset="0.1736" stop-color="#a30000"/><stop offset="0.1840" stop-color="#be0600"/><stop offset="0.1944" stop-color="#cc1100"/><stop offset="0.2118" stop-color="#d51a00"/><stop offset="0.2292" stop-color="#dc2100"/><stop offset="0.2431" stop-color="#e23700"/><stop offset="0.2569" stop-color="#e85500"/><stop offset="0.2708" stop-color="#ea7800"/><stop offset="0.2882" stop-color="#e8b700"/><stop offset="0.3021" stop-color="#e1db0e"/><stop offset="0.3056" stop-color="#dfe311"/><stop offset="0.3229" stop-color="#c8f528"/><stop offset="0.3264" stop-color="#c2f82f"/><stop offset="0.3368" stop-color="#a8fd51"/><stop offset="0.3472" stop-color="#85ff7d"/><stop offset="0.3646" stop-color="#4cf8c8"/><stop offset="0.3750" stop-color="#3bebe9"/><stop offset="0.3785" stop-color="#37e4f2"/><stop offset="0.3889" stop-color="#30c6ff"/><stop offset="0.3993" stop-color="#35a0ff"/><stop offset="0.4097" stop-color="#3786ff"/><stop offset="0.4236" stop-color="#3874ff"/><stop offset="0.4549" stop-color="#364fff"/><stop offset="0.4722" stop-color="#303af0"/><stop offset="0.5000" stop-color="#2727c7"/><stop offset="0.5312" stop-color="#2321a6"/><stop offset="0.5625" stop-color="#201e96"/><stop offset="0.6007" stop-color="#1e1c8c"/><stop offset="0.7153" stop-color="#1d1b85"/><stop offset="0.7604" stop-color="#1c1b83"/><stop offset="0.8993" stop-color="#1c1b84"/><stop offset="1.0000" stop-color="#1c1b82"/></linearGradient><linearGradient id="bg5" x1="0" y1="0" x2="0" y2="1"><stop offset="0.0000" stop-color="#780000"/><stop offset="0.1181" stop-color="#7a0000"/><stop offset="0.1528" stop-color="#870000"/><stop offset="0.1632" stop-color="#8e0000"/><stop offset="0.1736" stop-color="#a10000"/><stop offset="0.1840" stop-color="#bb0500"/><stop offset="0.1910" stop-color="#c70c00"/><stop offset="0.2049" stop-color="#d11600"/><stop offset="0.2292" stop-color="#da1e00"/><stop offset="0.2361" stop-color="#dd2500"/><stop offset="0.2535" stop-color="#e74700"/><stop offset="0.2743" stop-color="#ea7a00"/><stop offset="0.2917" stop-color="#e7b901"/><stop offset="0.3056" stop-color="#e1de0f"/><stop offset="0.3160" stop-color="#d4eb1c"/><stop offset="0.3264" stop-color="#c5f72b"/><stop offset="0.3333" stop-color="#b7fb3e"/><stop offset="0.3438" stop-color="#9aff64"/><stop offset="0.3576" stop-color="#6afda0"/><stop offset="0.3681" stop-color="#4bf7cb"/><stop offset="0.3785" stop-color="#3beaeb"/><stop offset="0.3854" stop-color="#34daf7"/><stop offset="0.3924" stop-color="#30c6ff"/><stop offset="0.4028" stop-color="#35a3ff"/><stop offset="0.4132" stop-color="#378bff"/><stop offset="0.4306" stop-color="#3775ff"/><stop offset="0.4618" stop-color="#364fff"/><stop offset="0.4792" stop-color="#303aef"/><stop offset="0.5035" stop-color="#2827ca"/><stop offset="0.5347" stop-color="#2321a7"/><stop offset="0.5625" stop-color="#201e97"/><stop offset="0.5972" stop-color="#1e1d8d"/><stop offset="0.7153" stop-color="#1d1b85"/><stop offset="0.7535" stop-color="#1c1b83"/><stop offset="0.8924" stop-color="#1c1b84"/><stop offset="1.0000" stop-color="#1c1b82"/></linearGradient><linearGradient id="bg6" x1="0" y1="0" x2="0" y2="1"><stop offset="0.0000" stop-color="#780000"/><stop offset="0.1181" stop-color="#7a0000"/><stop offset="0.1528" stop-color="#860000"/><stop offset="0.1667" stop-color="#920000"/><stop offset="0.1771" stop-color="#a60000"/><stop offset="0.1875" stop-color="#bf0600"/><stop offset="0.2014" stop-color="#cd1200"/><stop offset="0.2326" stop-color="#d91e00"/><stop offset="0.2396" stop-color="#dd2500"/><stop offset="0.2569" stop-color="#e74800"/><stop offset="0.2778" stop-color="#ea7c00"/><stop offset="0.2951" stop-color="#e7bb02"/><stop offset="0.3090" stop-color="#e0e00f"/><stop offset="0.3299" stop-color="#c4f82d"/><stop offset="0.3403" stop-color="#abfd4d"/><stop offset="0.3507" stop-color="#8bff76"/><stop offset="0.3611" stop-color="#68fda2"/><stop offset="0.3715" stop-color="#4bf7cb"/><stop offset="0.3819" stop-color="#3beaea"/><stop offset="0.3854" stop-color="#37e4f2"/><stop offset="0.3958" stop-color="#30c9fe"/><stop offset="0.4062" stop-color="#34a9ff"/><stop offset="0.4167" stop-color="#3692ff"/><stop offset="0.4375" stop-color="#3777ff"/><stop offset="0.4688" stop-color="#364fff"/><stop offset="0.4861" stop-color="#3039ef"/><stop offset="0.5069" stop-color="#2828cc"/><stop offset="0.5382" stop-color="#2321a8"/><stop offset="0.5660" stop-color="#201e97"/><stop offset="0.6007" stop-color="#1e1d8d"/><stop offset="0.7153" stop-color="#1d1b85"/><stop offset="0.7535" stop-color="#1c1b83"/><stop offset="0.8924" stop-color="#1c1b84"/><stop offset="1.0000" stop-color="#1c1b82"/></linearGradient><linearGradient id="bg7" x1="0" y1="0" x2="0" y2="1"><stop offset="0.0000" stop-color="#790000"/><stop offset="0.1181" stop-color="#790000"/><stop offset="0.1493" stop-color="#840000"/><stop offset="0.1667" stop-color="#910000"/><stop offset="0.1771" stop-color="#a30000"/><stop offset="0.1910" stop-color="#c10700"/><stop offset="0.2049" stop-color="#cc1100"/><stop offset="0.2326" stop-color="#d71b00"/><stop offset="0.2396" stop-color="#dc2000"/><stop offset="0.2535" stop-color="#e33a00"/><stop offset="0.2674" stop-color="#e95900"/><stop offset="0.2812" stop-color="#ea7e00"/><stop offset="0.2951" stop-color="#e8b100"/><stop offset="0.3090" stop-color="#e2d90d"/><stop offset="0.3125" stop-color="#e0e110"/><stop offset="0.3333" stop-color="#c2f82f"/><stop offset="0.3472" stop-color="#a1ff5b"/><stop offset="0.3646" stop-color="#69fda1"/><stop offset="0.3750" stop-color="#4bf7ca"/><stop offset="0.3889" stop-color="#38e6f1"/><stop offset="0.4028" stop-color="#30c4ff"/><stop offset="0.4132" stop-color="#34a7ff"/><stop offset="0.4271" stop-color="#368eff"/><stop offset="0.4722" stop-color="#3654ff"/><stop offset="0.4792" stop-color="#354bfc"/><stop offset="0.4931" stop-color="#2f39ed"/><stop offset="0.5139" stop-color="#2827c9"/><stop offset="0.5417" stop-color="#2321a9"/><stop offset="0.5660" stop-color="#211f99"/><stop offset="0.5972" stop-color="#1e1d8e"/><stop offset="0.7153" stop-color="#1d1b85"/><stop offset="0.7535" stop-color="#1c1b83"/><stop offset="0.8924" stop-color="#1c1b84"/><stop offset="1.0000" stop-color="#1c1b82"/></linearGradient><linearGradient id="bg8" x1="0" y1="0" x2="0" y2="1"><stop offset="0.0000" stop-color="#790000"/><stop offset="0.1215" stop-color="#7a0000"/><stop offset="0.1528" stop-color="#860000"/><stop offset="0.1667" stop-color="#900000"/><stop offset="0.1806" stop-color="#a70000"/><stop offset="0.1944" stop-color="#c10700"/><stop offset="0.2118" stop-color="#cc1100"/><stop offset="0.2361" stop-color="#d61a00"/><stop offset="0.2431" stop-color="#dc2000"/><stop offset="0.2604" stop-color="#e54200"/><stop offset="0.2812" stop-color="#ea7500"/><stop offset="0.2917" stop-color="#e99700"/><stop offset="0.3021" stop-color="#e7bc02"/><stop offset="0.3160" stop-color="#e0e210"/><stop offset="0.3368" stop-color="#c1f92f"/><stop offset="0.3507" stop-color="#a1ff5b"/><stop offset="0.3681" stop-color="#6afda0"/><stop offset="0.3785" stop-color="#4cf8c8"/><stop offset="0.3924" stop-color="#39e9ef"/><stop offset="0.4062" stop-color="#30cafe"/><stop offset="0.4201" stop-color="#34a8ff"/><stop offset="0.4375" stop-color="#378bff"/><stop offset="0.4792" stop-color="#3654ff"/><stop offset="0.4861" stop-color="#354afc"/><stop offset="0.4965" stop-color="#303bf1"/><stop offset="0.5174" stop-color="#2828ca"/><stop offset="0.5451" stop-color="#2321a9"/><stop offset="0.5694" stop-color="#211f99"/><stop offset="0.6007" stop-color="#1e1d8e"/><stop offset="0.7153" stop-color="#1d1b85"/><stop offset="0.7535" stop-color="#1c1b83"/><stop offset="0.8924" stop-color="#1c1b84"/><stop offset="1.0000" stop-color="#1c1b82"/></linearGradient><linearGradient id="bg9" x1="0" y1="0" x2="0" y2="1"><stop offset="0.0000" stop-color="#7a0000"/><stop offset="0.1215" stop-color="#7a0000"/><stop offset="0.1493" stop-color="#830000"/><stop offset="0.1667" stop-color="#8f0000"/><stop offset="0.1806" stop-color="#a30000"/><stop offset="0.1979" stop-color="#c10600"/><stop offset="0.2257" stop-color="#ce1300"/><stop offset="0.2431" stop-color="#d81d00"/><stop offset="0.2500" stop-color="#dd2500"/><stop offset="0.2708" stop-color="#e85200"/><stop offset="0.2882" stop-color="#ea7f00"/><stop offset="0.3021" stop-color="#e8b100"/><stop offset="0.3194" stop-color="#e0e210"/><stop offset="0.3403" stop-color="#c2f82f"/><stop offset="0.3542" stop-color="#a2ff59"/><stop offset="0.3715" stop-color="#6cfe9d"/><stop offset="0.3819" stop-color="#4ff8c5"/><stop offset="0.3958" stop-color="#3aeaec"/><stop offset="0.4028" stop-color="#35dcf6"/><stop offset="0.4132" stop-color="#30c7ff"/><stop offset="0.4271" stop-color="#34a9ff"/><stop offset="0.4479" stop-color="#3788ff"/><stop offset="0.4861" stop-color="#3653ff"/><stop offset="0.4896" stop-color="#364dff"/><stop offset="0.5035" stop-color="#2f39ed"/><stop offset="0.5208" stop-color="#2828cb"/><stop offset="0.5486" stop-color="#2321a9"/><stop offset="0.5729" stop-color="#211f99"/><stop offset="0.6007" stop-color="#1e1d8f"/><stop offset="0.7188" stop-color="#1c1b85"/><stop offset="0.7639" stop-color="#1c1b83"/><stop offset="0.9028" stop-color="#1c1b84"/><stop offset="1.0000" stop-color="#1c1b82"/></linearGradient><linearGradient id="bg10" x1="0" y1="0" x2="0" y2="1"><stop offset="0.0000" stop-color="#7c0000"/><stop offset="0.1250" stop-color="#7a0000"/><stop offset="0.1528" stop-color="#850000"/><stop offset="0.1701" stop-color="#910000"/><stop offset="0.1910" stop-color="#b00200"/><stop offset="0.2049" stop-color="#c20700"/><stop offset="0.2431" stop-color="#d51a00"/><stop offset="0.2500" stop-color="#dc2000"/><stop offset="0.2674" stop-color="#e54100"/><stop offset="0.2847" stop-color="#e96b00"/><stop offset="0.2951" stop-color="#ea8a00"/><stop offset="0.3090" stop-color="#e7bb02"/><stop offset="0.3229" stop-color="#e0e110"/><stop offset="0.3438" stop-color="#c3f82d"/><stop offset="0.3576" stop-color="#a5fe56"/><stop offset="0.3750" stop-color="#6ffe98"/><stop offset="0.3854" stop-color="#51f9c1"/><stop offset="0.3924" stop-color="#45f2d6"/><stop offset="0.4028" stop-color="#38e6f1"/><stop offset="0.4201" stop-color="#30c6ff"/><stop offset="0.4410" stop-color="#359eff"/><stop offset="0.4896" stop-color="#3757ff"/><stop offset="0.4965" stop-color="#354bfd"/><stop offset="0.5069" stop-color="#303aef"/><stop offset="0.5243" stop-color="#2828cb"/><stop offset="0.5521" stop-color="#2321aa"/><stop offset="0.5764" stop-color="#201f98"/><stop offset="0.6042" stop-color="#1e1d8e"/><stop offset="0.7188" stop-color="#1c1b85"/><stop offset="0.7639" stop-color="#1c1b83"/><stop offset="0.9028" stop-color="#1c1b84"/><stop offset="1.0000" stop-color="#1c1b82"/></linearGradient><linearGradient id="bg11" x1="0" y1="0" x2="0" y2="1"><stop offset="0.0000" stop-color="#7e0000"/><stop offset="0.1250" stop-color="#7b0000"/><stop offset="0.1528" stop-color="#840000"/><stop offset="0.1736" stop-color="#940000"/><stop offset="0.1944" stop-color="#b00200"/><stop offset="0.2083" stop-color="#c00600"/><stop offset="0.2465" stop-color="#d51a00"/><stop offset="0.2535" stop-color="#dc2000"/><stop offset="0.2708" stop-color="#e54000"/><stop offset="0.2882" stop-color="#e96a00"/><stop offset="0.2951" stop-color="#ea7d00"/><stop offset="0.3125" stop-color="#e7ba01"/><stop offset="0.3264" stop-color="#e0df0f"/><stop offset="0.3472" stop-color="#c5f72b"/><stop offset="0.3576" stop-color="#b0fc46"/><stop offset="0.3646" stop-color="#a0ff5c"/><stop offset="0.3819" stop-color="#6afda0"/><stop offset="0.3924" stop-color="#4cf8c9"/><stop offset="0.4062" stop-color="#39e9ee"/><stop offset="0.4236" stop-color="#31cdfd"/><stop offset="0.4340" stop-color="#32baff"/><stop offset="0.4583" stop-color="#368eff"/><stop offset="0.4931" stop-color="#375bff"/><stop offset="0.5000" stop-color="#364dff"/><stop offset="0.5104" stop-color="#303af0"/><stop offset="0.5278" stop-color="#2828cc"/><stop offset="0.5590" stop-color="#2321a6"/><stop offset="0.5903" stop-color="#1f1e93"/><stop offset="0.6250" stop-color="#1e1d8d"/><stop offset="0.7153" stop-color="#1d1b85"/><stop offset="0.7569" stop-color="#1c1b83"/><stop offset="0.8958" stop-color="#1c1b84"/><stop offset="1.0000" stop-color="#1c1b82"/></linearGradient><linearGradient id="bg12" x1="0" y1="0" x2="0" y2="1"><stop offset="0.0000" stop-color="#820000"/><stop offset="0.1285" stop-color="#7c0000"/><stop offset="0.1528" stop-color="#840000"/><stop offset="0.1736" stop-color="#920000"/><stop offset="0.1979" stop-color="#b00200"/><stop offset="0.2153" stop-color="#c10700"/><stop offset="0.2500" stop-color="#d51a00"/><stop offset="0.2604" stop-color="#dd2500"/><stop offset="0.2812" stop-color="#e84e00"/><stop offset="0.2986" stop-color="#ea7a00"/><stop offset="0.3160" stop-color="#e8b700"/><stop offset="0.3299" stop-color="#e1dd0e"/><stop offset="0.3368" stop-color="#d9e717"/><stop offset="0.3542" stop-color="#c2f82e"/><stop offset="0.3681" stop-color="#a5fe55"/><stop offset="0.3854" stop-color="#6ffe99"/><stop offset="0.3958" stop-color="#50f9c3"/><stop offset="0.4062" stop-color="#40eee0"/><stop offset="0.4132" stop-color="#38e8ef"/><stop offset="0.4375" stop-color="#31c3ff"/><stop offset="0.4583" stop-color="#369aff"/><stop offset="0.4931" stop-color="#3864ff"/><stop offset="0.5035" stop-color="#364fff"/><stop offset="0.5139" stop-color="#303af0"/><stop offset="0.5312" stop-color="#2828cb"/><stop offset="0.5625" stop-color="#2321a6"/><stop offset="0.5938" stop-color="#1f1e93"/><stop offset="0.6285" stop-color="#1e1d8d"/><stop offset="0.7153" stop-color="#1d1b85"/><stop offset="0.7569" stop-color="#1c1b82"/><stop offset="0.8958" stop-color="#1c1b84"/><stop offset="1.0000" stop-color="#1c1b82"/></linearGradient><linearGradient id="bg13" x1="0" y1="0" x2="0" y2="1"><stop offset="0.0000" stop-color="#860000"/><stop offset="0.0903" stop-color="#7f0000"/><stop offset="0.1319" stop-color="#7d0000"/><stop offset="0.1562" stop-color="#850000"/><stop offset="0.1771" stop-color="#940000"/><stop offset="0.2014" stop-color="#af0200"/><stop offset="0.2222" stop-color="#c20800"/><stop offset="0.2535" stop-color="#d51900"/><stop offset="0.2639" stop-color="#dd2400"/><stop offset="0.2847" stop-color="#e84c00"/><stop offset="0.3056" stop-color="#ea8200"/><stop offset="0.3194" stop-color="#e8b300"/><stop offset="0.3368" stop-color="#e0e210"/><stop offset="0.3576" stop-color="#c6f62a"/><stop offset="0.3646" stop-color="#bafa39"/><stop offset="0.3750" stop-color="#a2ff59"/><stop offset="0.3924" stop-color="#6afda0"/><stop offset="0.4028" stop-color="#4cf8c9"/><stop offset="0.4167" stop-color="#3cebe8"/><stop offset="0.4236" stop-color="#37e4f2"/><stop offset="0.4444" stop-color="#30c5ff"/><stop offset="0.4653" stop-color="#3699ff"/><stop offset="0.4931" stop-color="#386eff"/><stop offset="0.5069" stop-color="#3650ff"/><stop offset="0.5174" stop-color="#303af0"/><stop offset="0.5347" stop-color="#2828cb"/><stop offset="0.5660" stop-color="#2220a5"/><stop offset="0.5972" stop-color="#1f1d92"/><stop offset="0.6354" stop-color="#1e1c8c"/><stop offset="0.7188" stop-color="#1c1b85"/><stop offset="0.7674" stop-color="#1c1b82"/><stop offset="0.9062" stop-color="#1c1b84"/><stop offset="1.0000" stop-color="#1c1b82"/></linearGradient><linearGradient id="bg14" x1="0" y1="0" x2="0" y2="1"><stop offset="0.0000" stop-color="#8a0000"/><stop offset="0.0833" stop-color="#840000"/><stop offset="0.1354" stop-color="#7e0000"/><stop offset="0.1597" stop-color="#870000"/><stop offset="0.1806" stop-color="#960000"/><stop offset="0.2083" stop-color="#b20200"/><stop offset="0.2257" stop-color="#c10700"/><stop offset="0.2569" stop-color="#d41900"/><stop offset="0.2674" stop-color="#dd2300"/><stop offset="0.2882" stop-color="#e74a00"/><stop offset="0.3090" stop-color="#ea7d00"/><stop offset="0.3264" stop-color="#e7ba01"/><stop offset="0.3403" stop-color="#e1de0e"/><stop offset="0.3472" stop-color="#d9e717"/><stop offset="0.3646" stop-color="#c5f72b"/><stop offset="0.3750" stop-color="#b1fc46"/><stop offset="0.3819" stop-color="#9fff5d"/><stop offset="0.3958" stop-color="#6ffe98"/><stop offset="0.4062" stop-color="#50f9c2"/><stop offset="0.4132" stop-color="#46f3d4"/><stop offset="0.4271" stop-color="#39e9ed"/><stop offset="0.4479" stop-color="#31cbfd"/><stop offset="0.4722" stop-color="#3698ff"/><stop offset="0.4965" stop-color="#3870ff"/><stop offset="0.5104" stop-color="#364fff"/><stop offset="0.5208" stop-color="#3039ee"/><stop offset="0.5347" stop-color="#292ad0"/><stop offset="0.5625" stop-color="#2321ac"/><stop offset="0.5799" stop-color="#211f9d"/><stop offset="0.6042" stop-color="#1f1d90"/><stop offset="0.7431" stop-color="#1c1b82"/><stop offset="0.8819" stop-color="#1c1b83"/><stop offset="1.0000" stop-color="#1c1b82"/></linearGradient><linearGradient id="bg15" x1="0" y1="0" x2="0" y2="1"><stop offset="0.0000" stop-color="#8f0000"/><stop offset="0.0799" stop-color="#880000"/><stop offset="0.1354" stop-color="#7f0000"/><stop offset="0.1597" stop-color="#870000"/><stop offset="0.1840" stop-color="#970000"/><stop offset="0.2118" stop-color="#b10200"/><stop offset="0.2326" stop-color="#c20800"/><stop offset="0.2639" stop-color="#d71b00"/><stop offset="0.2743" stop-color="#de2800"/><stop offset="0.2951" stop-color="#e85000"/><stop offset="0.3125" stop-color="#ea7900"/><stop offset="0.3299" stop-color="#e8b500"/><stop offset="0.3472" stop-color="#e0e110"/><stop offset="0.3715" stop-color="#c4f82c"/><stop offset="0.3819" stop-color="#aefc49"/><stop offset="0.3889" stop-color="#9aff63"/><stop offset="0.4028" stop-color="#69fda1"/><stop offset="0.4132" stop-color="#4cf8c8"/><stop offset="0.4306" stop-color="#3dece7"/><stop offset="0.4375" stop-color="#37e6f1"/><stop offset="0.4583" stop-color="#31c3ff"/><stop offset="0.4757" stop-color="#359dff"/><stop offset="0.4965" stop-color="#3778ff"/><stop offset="0.5139" stop-color="#364eff"/><stop offset="0.5243" stop-color="#2f38ec"/><stop offset="0.5382" stop-color="#2929cf"/><stop offset="0.5660" stop-color="#2321ab"/><stop offset="0.5868" stop-color="#211f9a"/><stop offset="0.6111" stop-color="#1f1d8f"/><stop offset="0.7257" stop-color="#1c1b84"/><stop offset="0.8646" stop-color="#1c1b83"/><stop offset="1.0000" stop-color="#1c1b82"/></linearGradient><linearGradient id="bg16" x1="0" y1="0" x2="0" y2="1"><stop offset="0.0000" stop-color="#960000"/><stop offset="0.0764" stop-color="#8e0000"/><stop offset="0.1389" stop-color="#820000"/><stop offset="0.1632" stop-color="#880000"/><stop offset="0.1875" stop-color="#970000"/><stop offset="0.2188" stop-color="#b30300"/><stop offset="0.2396" stop-color="#c30900"/><stop offset="0.2708" stop-color="#da1e00"/><stop offset="0.2847" stop-color="#e13300"/><stop offset="0.3021" stop-color="#e85500"/><stop offset="0.3194" stop-color="#ea7f00"/><stop offset="0.3368" stop-color="#e7ba02"/><stop offset="0.3507" stop-color="#e1dc0e"/><stop offset="0.3576" stop-color="#dbe615"/><stop offset="0.3785" stop-color="#c3f82d"/><stop offset="0.3889" stop-color="#abfd4e"/><stop offset="0.3958" stop-color="#94ff6b"/><stop offset="0.4062" stop-color="#6dfe9b"/><stop offset="0.4132" stop-color="#5afab6"/><stop offset="0.4201" stop-color="#4bf7c9"/><stop offset="0.4444" stop-color="#38e6f1"/><stop offset="0.4618" stop-color="#30c9fe"/><stop offset="0.4826" stop-color="#369aff"/><stop offset="0.5000" stop-color="#3777ff"/><stop offset="0.5139" stop-color="#3654ff"/><stop offset="0.5174" stop-color="#354bfd"/><stop offset="0.5243" stop-color="#313cf1"/><stop offset="0.5417" stop-color="#2829cd"/><stop offset="0.5729" stop-color="#2321a6"/><stop offset="0.6007" stop-color="#1f1e93"/><stop offset="0.6319" stop-color="#1e1d8d"/><stop offset="0.7222" stop-color="#1c1b84"/><stop offset="0.8021" stop-color="#1c1b82"/><stop offset="0.9410" stop-color="#1c1b83"/><stop offset="1.0000" stop-color="#1c1b82"/></linearGradient><linearGradient id="bg17" x1="0" y1="0" x2="0" y2="1"><stop offset="0.0000" stop-color="#9d0000"/><stop offset="0.0729" stop-color="#950000"/><stop offset="0.1389" stop-color="#840000"/><stop offset="0.1632" stop-color="#880000"/><stop offset="0.1910" stop-color="#980000"/><stop offset="0.2222" stop-color="#b20200"/><stop offset="0.2465" stop-color="#c50a00"/><stop offset="0.2778" stop-color="#dc2100"/><stop offset="0.3021" stop-color="#e84b00"/><stop offset="0.3229" stop-color="#ea7a00"/><stop offset="0.3403" stop-color="#e8b500"/><stop offset="0.3542" stop-color="#e2d70c"/><stop offset="0.3611" stop-color="#dee312"/><stop offset="0.3819" stop-color="#c8f528"/><stop offset="0.3854" stop-color="#c2f82f"/><stop offset="0.3958" stop-color="#a6fe54"/><stop offset="0.4097" stop-color="#73ff93"/><stop offset="0.4201" stop-color="#59fab7"/><stop offset="0.4271" stop-color="#4cf8c9"/><stop offset="0.4514" stop-color="#37e6f1"/><stop offset="0.4688" stop-color="#30c7ff"/><stop offset="0.4896" stop-color="#3695ff"/><stop offset="0.5069" stop-color="#386bff"/><stop offset="0.5174" stop-color="#3650ff"/><stop offset="0.5278" stop-color="#303af0"/><stop offset="0.5451" stop-color="#2828cc"/><stop offset="0.5764" stop-color="#2220a5"/><stop offset="0.6042" stop-color="#1f1e93"/><stop offset="0.6389" stop-color="#1e1d8d"/><stop offset="0.7569" stop-color="#1c1b82"/><stop offset="0.8958" stop-color="#1c1b83"/><stop offset="1.0000" stop-color="#1c1b82"/></linearGradient><linearGradient id="bg18" x1="0" y1="0" x2="0" y2="1"><stop offset="0.0000" stop-color="#a50000"/><stop offset="0.0729" stop-color="#9d0000"/><stop offset="0.1458" stop-color="#870000"/><stop offset="0.1701" stop-color="#8b0000"/><stop offset="0.1979" stop-color="#9a0000"/><stop offset="0.2257" stop-color="#b10200"/><stop offset="0.2500" stop-color="#c40a00"/><stop offset="0.2812" stop-color="#dc2000"/><stop offset="0.3056" stop-color="#e74800"/><stop offset="0.3264" stop-color="#ea7500"/><stop offset="0.3368" stop-color="#e99500"/><stop offset="0.3472" stop-color="#e8b901"/><stop offset="0.3611" stop-color="#e2d90d"/><stop offset="0.3681" stop-color="#dee412"/><stop offset="0.3854" stop-color="#cbf225"/><stop offset="0.3889" stop-color="#c6f72a"/><stop offset="0.3958" stop-color="#b5fb40"/><stop offset="0.4028" stop-color="#a1ff5b"/><stop offset="0.4132" stop-color="#7cff88"/><stop offset="0.4236" stop-color="#61fcab"/><stop offset="0.4340" stop-color="#4df8c6"/><stop offset="0.4549" stop-color="#39e9ed"/><stop offset="0.4722" stop-color="#31cbfd"/><stop offset="0.5035" stop-color="#377cff"/><stop offset="0.5208" stop-color="#364dfe"/><stop offset="0.5312" stop-color="#2f39ed"/><stop offset="0.5486" stop-color="#2828ca"/><stop offset="0.5799" stop-color="#2220a4"/><stop offset="0.6076" stop-color="#1f1d92"/><stop offset="0.6458" stop-color="#1e1c8c"/><stop offset="0.7535" stop-color="#1c1b82"/><stop offset="0.8924" stop-color="#1c1b83"/><stop offset="1.0000" stop-color="#1c1b82"/></linearGradient><linearGradient id="bg19" x1="0" y1="0" x2="0" y2="1"><stop offset="0.0000" stop-color="#ad0100"/><stop offset="0.0764" stop-color="#a40000"/><stop offset="0.1181" stop-color="#960000"/><stop offset="0.1458" stop-color="#8a0000"/><stop offset="0.1701" stop-color="#8b0000"/><stop offset="0.1979" stop-color="#990000"/><stop offset="0.2292" stop-color="#b10200"/><stop offset="0.2535" stop-color="#c40a00"/><stop offset="0.2847" stop-color="#db1f00"/><stop offset="0.3090" stop-color="#e64600"/><stop offset="0.3299" stop-color="#ea7100"/><stop offset="0.3403" stop-color="#e98e00"/><stop offset="0.3542" stop-color="#e7bb02"/><stop offset="0.3681" stop-color="#e1da0d"/><stop offset="0.3750" stop-color="#dde413"/><stop offset="0.3924" stop-color="#c9f427"/><stop offset="0.3958" stop-color="#c2f82e"/><stop offset="0.4097" stop-color="#9cff61"/><stop offset="0.4201" stop-color="#7cff88"/><stop offset="0.4375" stop-color="#55fabc"/><stop offset="0.4444" stop-color="#4af6cd"/><stop offset="0.4618" stop-color="#38e8f0"/><stop offset="0.4792" stop-color="#30c8ff"/><stop offset="0.5069" stop-color="#3779ff"/><stop offset="0.5208" stop-color="#3652ff"/><stop offset="0.5312" stop-color="#313cf2"/><stop offset="0.5486" stop-color="#2929ce"/><stop offset="0.5764" stop-color="#2321aa"/><stop offset="0.6007" stop-color="#201e96"/><stop offset="0.6250" stop-color="#1e1d8e"/><stop offset="0.7569" stop-color="#1c1b82"/><stop offset="0.8958" stop-color="#1c1b83"/><stop offset="1.0000" stop-color="#1c1b82"/></linearGradient><linearGradient id="bg20" x1="0" y1="0" x2="0" y2="1"><stop offset="0.0000" stop-color="#b50300"/><stop offset="0.0799" stop-color="#ac0100"/><stop offset="0.1181" stop-color="#9f0000"/><stop offset="0.1493" stop-color="#8d0000"/><stop offset="0.1701" stop-color="#8c0000"/><stop offset="0.1944" stop-color="#950000"/><stop offset="0.2326" stop-color="#b10200"/><stop offset="0.2569" stop-color="#c40a00"/><stop offset="0.2882" stop-color="#da1e00"/><stop offset="0.3090" stop-color="#e43d00"/><stop offset="0.3264" stop-color="#e95d00"/><stop offset="0.3403" stop-color="#ea7c00"/><stop offset="0.3576" stop-color="#e8b500"/><stop offset="0.3715" stop-color="#e2d50b"/><stop offset="0.3785" stop-color="#e0e110"/><stop offset="0.3958" stop-color="#cbf325"/><stop offset="0.3993" stop-color="#c5f72b"/><stop offset="0.4167" stop-color="#99ff64"/><stop offset="0.4340" stop-color="#6bfd9e"/><stop offset="0.4479" stop-color="#4df8c6"/><stop offset="0.4688" stop-color="#37e6f1"/><stop offset="0.4826" stop-color="#31cbfe"/><stop offset="0.5104" stop-color="#3775ff"/><stop offset="0.5243" stop-color="#364fff"/><stop offset="0.5347" stop-color="#303af0"/><stop offset="0.5521" stop-color="#2828cc"/><stop offset="0.5833" stop-color="#2220a4"/><stop offset="0.6111" stop-color="#1f1d92"/><stop offset="0.6493" stop-color="#1e1c8c"/><stop offset="0.7535" stop-color="#1c1b82"/><stop offset="0.8924" stop-color="#1c1b83"/><stop offset="1.0000" stop-color="#1c1b82"/></linearGradient><linearGradient id="bg21" x1="0" y1="0" x2="0" y2="1"><stop offset="0.0000" stop-color="#be0500"/><stop offset="0.0833" stop-color="#b30300"/><stop offset="0.1215" stop-color="#a60000"/><stop offset="0.1562" stop-color="#8e0000"/><stop offset="0.1806" stop-color="#8f0000"/><stop offset="0.2083" stop-color="#9c0000"/><stop offset="0.2431" stop-color="#b60400"/><stop offset="0.2639" stop-color="#c50b00"/><stop offset="0.2951" stop-color="#dc2000"/><stop offset="0.3264" stop-color="#e85200"/><stop offset="0.3438" stop-color="#ea7600"/><stop offset="0.3542" stop-color="#e99500"/><stop offset="0.3646" stop-color="#e8b700"/><stop offset="0.3819" stop-color="#e1dd0e"/><stop offset="0.3889" stop-color="#dbe615"/><stop offset="0.4028" stop-color="#c7f629"/><stop offset="0.4097" stop-color="#b9fa3b"/><stop offset="0.4236" stop-color="#99ff65"/><stop offset="0.4410" stop-color="#6afd9f"/><stop offset="0.4549" stop-color="#4cf8c9"/><stop offset="0.4722" stop-color="#38e8ef"/><stop offset="0.4861" stop-color="#31ccfd"/><stop offset="0.4965" stop-color="#34abff"/><stop offset="0.5174" stop-color="#3867ff"/><stop offset="0.5278" stop-color="#364cfe"/><stop offset="0.5382" stop-color="#2f39ed"/><stop offset="0.5556" stop-color="#2828ca"/><stop offset="0.5833" stop-color="#2321a6"/><stop offset="0.6076" stop-color="#201e95"/><stop offset="0.6354" stop-color="#1e1d8d"/><stop offset="0.7535" stop-color="#1c1b82"/><stop offset="0.8924" stop-color="#1c1b83"/><stop offset="1.0000" stop-color="#1c1b82"/></linearGradient><linearGradient id="bg22" x1="0" y1="0" x2="0" y2="1"><stop offset="0.0000" stop-color="#c40a00"/><stop offset="0.0799" stop-color="#bd0500"/><stop offset="0.1215" stop-color="#af0200"/><stop offset="0.1424" stop-color="#9f0000"/><stop offset="0.1597" stop-color="#910000"/><stop offset="0.1806" stop-color="#8f0000"/><stop offset="0.2049" stop-color="#990000"/><stop offset="0.2431" stop-color="#b40300"/><stop offset="0.2674" stop-color="#c50b00"/><stop offset="0.2986" stop-color="#db1f00"/><stop offset="0.3264" stop-color="#e74800"/><stop offset="0.3472" stop-color="#e97000"/><stop offset="0.3576" stop-color="#e98c00"/><stop offset="0.3715" stop-color="#e8b901"/><stop offset="0.3889" stop-color="#e1df0f"/><stop offset="0.4097" stop-color="#c5f82b"/><stop offset="0.4271" stop-color="#a2ff5a"/><stop offset="0.4479" stop-color="#68fda2"/><stop offset="0.4583" stop-color="#50f9c3"/><stop offset="0.4757" stop-color="#3ae9ed"/><stop offset="0.4861" stop-color="#33d4f9"/><stop offset="0.4931" stop-color="#31c1ff"/><stop offset="0.5139" stop-color="#3778ff"/><stop offset="0.5278" stop-color="#3652ff"/><stop offset="0.5382" stop-color="#313cf1"/><stop offset="0.5556" stop-color="#2829cd"/><stop offset="0.5833" stop-color="#2321a8"/><stop offset="0.6076" stop-color="#201e96"/><stop offset="0.6354" stop-color="#1e1d8e"/><stop offset="0.7535" stop-color="#1c1b82"/><stop offset="0.8924" stop-color="#1c1b84"/><stop offset="1.0000" stop-color="#1c1b82"/></linearGradient><linearGradient id="bg23" x1="0" y1="0" x2="0" y2="1"><stop offset="0.0000" stop-color="#ca1000"/><stop offset="0.1042" stop-color="#c00600"/><stop offset="0.1285" stop-color="#b50300"/><stop offset="0.1562" stop-color="#990000"/><stop offset="0.1736" stop-color="#910000"/><stop offset="0.1944" stop-color="#940000"/><stop offset="0.2396" stop-color="#af0200"/><stop offset="0.2674" stop-color="#c30900"/><stop offset="0.3021" stop-color="#d91d00"/><stop offset="0.3125" stop-color="#df2a00"/><stop offset="0.3403" stop-color="#e85500"/><stop offset="0.3576" stop-color="#ea7900"/><stop offset="0.3785" stop-color="#e7ba01"/><stop offset="0.3958" stop-color="#e0e210"/><stop offset="0.4167" stop-color="#c4f82c"/><stop offset="0.4306" stop-color="#a9fd51"/><stop offset="0.4410" stop-color="#8cff74"/><stop offset="0.4549" stop-color="#65fca6"/><stop offset="0.4653" stop-color="#4cf8c9"/><stop offset="0.4792" stop-color="#3beaeb"/><stop offset="0.4861" stop-color="#35dcf6"/><stop offset="0.4931" stop-color="#31cafe"/><stop offset="0.5104" stop-color="#3789ff"/><stop offset="0.5243" stop-color="#3760ff"/><stop offset="0.5312" stop-color="#364eff"/><stop offset="0.5417" stop-color="#3039ef"/><stop offset="0.5590" stop-color="#2828cb"/><stop offset="0.5868" stop-color="#2321a6"/><stop offset="0.6111" stop-color="#201e95"/><stop offset="0.6424" stop-color="#1e1d8d"/><stop offset="0.7535" stop-color="#1c1b82"/><stop offset="0.8924" stop-color="#1c1b84"/><stop offset="1.0000" stop-color="#1c1b82"/></linearGradient><linearGradient id="bg24" x1="0" y1="0" x2="0" y2="1"><stop offset="0.0000" stop-color="#d11600"/><stop offset="0.1076" stop-color="#c40a00"/><stop offset="0.1285" stop-color="#be0600"/><stop offset="0.1493" stop-color="#a90000"/><stop offset="0.1667" stop-color="#980000"/><stop offset="0.1840" stop-color="#930000"/><stop offset="0.2049" stop-color="#990000"/><stop offset="0.2465" stop-color="#b20300"/><stop offset="0.2743" stop-color="#c40a00"/><stop offset="0.3090" stop-color="#db1f00"/><stop offset="0.3438" stop-color="#e85000"/><stop offset="0.3611" stop-color="#ea7100"/><stop offset="0.3715" stop-color="#e98e00"/><stop offset="0.3854" stop-color="#e7bb02"/><stop offset="0.3993" stop-color="#e1df0f"/><stop offset="0.4132" stop-color="#d0ef20"/><stop offset="0.4236" stop-color="#c3f82d"/><stop offset="0.4340" stop-color="#aefc49"/><stop offset="0.4444" stop-color="#92ff6d"/><stop offset="0.4583" stop-color="#69fda1"/><stop offset="0.4688" stop-color="#4ef8c5"/><stop offset="0.4826" stop-color="#3beaea"/><stop offset="0.4861" stop-color="#37e4f2"/><stop offset="0.4965" stop-color="#30c7ff"/><stop offset="0.5104" stop-color="#3690ff"/><stop offset="0.5243" stop-color="#3865ff"/><stop offset="0.5347" stop-color="#354bfd"/><stop offset="0.5451" stop-color="#2f37eb"/><stop offset="0.5590" stop-color="#2829cd"/><stop offset="0.5868" stop-color="#2321a8"/><stop offset="0.6111" stop-color="#201e96"/><stop offset="0.6389" stop-color="#1e1d8e"/><stop offset="0.7535" stop-color="#1c1b82"/><stop offset="0.8924" stop-color="#1c1b84"/><stop offset="1.0000" stop-color="#1c1b82"/></linearGradient><linearGradient id="bg25" x1="0" y1="0" x2="0" y2="1"><stop offset="0.0000" stop-color="#d81c00"/><stop offset="0.0972" stop-color="#cc1100"/><stop offset="0.1319" stop-color="#c30900"/><stop offset="0.1424" stop-color="#bb0500"/><stop offset="0.1632" stop-color="#a20000"/><stop offset="0.1806" stop-color="#960000"/><stop offset="0.1979" stop-color="#980000"/><stop offset="0.2465" stop-color="#b20200"/><stop offset="0.2778" stop-color="#c30900"/><stop offset="0.3125" stop-color="#da1e00"/><stop offset="0.3507" stop-color="#e85000"/><stop offset="0.3681" stop-color="#ea7200"/><stop offset="0.3750" stop-color="#ea8500"/><stop offset="0.3889" stop-color="#e8b600"/><stop offset="0.4028" stop-color="#e1dc0e"/><stop offset="0.4062" stop-color="#dfe311"/><stop offset="0.4271" stop-color="#c7f629"/><stop offset="0.4340" stop-color="#bbfa38"/><stop offset="0.4444" stop-color="#a2ff5a"/><stop offset="0.4618" stop-color="#6bfd9e"/><stop offset="0.4722" stop-color="#50f9c3"/><stop offset="0.4861" stop-color="#3beaea"/><stop offset="0.4931" stop-color="#34d9f7"/><stop offset="0.5000" stop-color="#31c2ff"/><stop offset="0.5104" stop-color="#3697ff"/><stop offset="0.5243" stop-color="#386aff"/><stop offset="0.5347" stop-color="#364fff"/><stop offset="0.5451" stop-color="#303aef"/><stop offset="0.5625" stop-color="#2828cb"/><stop offset="0.5903" stop-color="#2321a6"/><stop offset="0.6146" stop-color="#201e95"/><stop offset="0.6458" stop-color="#1e1d8d"/><stop offset="0.7535" stop-color="#1c1b82"/><stop offset="0.8924" stop-color="#1c1b84"/><stop offset="1.0000" stop-color="#1c1b82"/></linearGradient><linearGradient id="bg26" x1="0" y1="0" x2="0" y2="1"><stop offset="0.0000" stop-color="#de2600"/><stop offset="0.0625" stop-color="#d91d00"/><stop offset="0.1319" stop-color="#c80e00"/><stop offset="0.1458" stop-color="#c00600"/><stop offset="0.1701" stop-color="#a30000"/><stop offset="0.1840" stop-color="#9b0000"/><stop offset="0.2014" stop-color="#9e0000"/><stop offset="0.2639" stop-color="#bb0500"/><stop offset="0.2882" stop-color="#c70c00"/><stop offset="0.3194" stop-color="#dc2000"/><stop offset="0.3576" stop-color="#e85200"/><stop offset="0.3750" stop-color="#ea7400"/><stop offset="0.3819" stop-color="#ea8800"/><stop offset="0.3924" stop-color="#e8b000"/><stop offset="0.4028" stop-color="#e3d00a"/><stop offset="0.4097" stop-color="#e0e110"/><stop offset="0.4340" stop-color="#c5f72b"/><stop offset="0.4444" stop-color="#adfc4a"/><stop offset="0.4549" stop-color="#8eff73"/><stop offset="0.4688" stop-color="#63fca9"/><stop offset="0.4757" stop-color="#50f9c2"/><stop offset="0.4896" stop-color="#3ae9ed"/><stop offset="0.5000" stop-color="#31cbfe"/><stop offset="0.5139" stop-color="#3691ff"/><stop offset="0.5278" stop-color="#3865ff"/><stop offset="0.5382" stop-color="#354bfd"/><stop offset="0.5486" stop-color="#2f37eb"/><stop offset="0.5625" stop-color="#2829cd"/><stop offset="0.5903" stop-color="#2321a7"/><stop offset="0.6146" stop-color="#201e96"/><stop offset="0.6458" stop-color="#1e1d8d"/><stop offset="0.7535" stop-color="#1c1b82"/><stop offset="0.8924" stop-color="#1c1b84"/><stop offset="1.0000" stop-color="#1c1b82"/></linearGradient><linearGradient id="bg27" x1="0" y1="0" x2="0" y2="1"><stop offset="0.0000" stop-color="#e13300"/><stop offset="0.0556" stop-color="#df2900"/><stop offset="0.0972" stop-color="#d81d00"/><stop offset="0.1354" stop-color="#cc1100"/><stop offset="0.1562" stop-color="#bd0500"/><stop offset="0.1771" stop-color="#a70000"/><stop offset="0.1910" stop-color="#a20000"/><stop offset="0.2708" stop-color="#be0600"/><stop offset="0.3021" stop-color="#cd1300"/><stop offset="0.3264" stop-color="#dd2400"/><stop offset="0.3611" stop-color="#e84f00"/><stop offset="0.3750" stop-color="#e96700"/><stop offset="0.3819" stop-color="#ea7700"/><stop offset="0.3889" stop-color="#e98e00"/><stop offset="0.3993" stop-color="#e7ba01"/><stop offset="0.4097" stop-color="#e2d60c"/><stop offset="0.4167" stop-color="#dfe311"/><stop offset="0.4340" stop-color="#ccf224"/><stop offset="0.4410" stop-color="#c0f931"/><stop offset="0.4514" stop-color="#a5fe55"/><stop offset="0.4688" stop-color="#6cfe9d"/><stop offset="0.4792" stop-color="#4ff9c4"/><stop offset="0.4931" stop-color="#38e7f0"/><stop offset="0.5035" stop-color="#30c5ff"/><stop offset="0.5139" stop-color="#3698ff"/><stop offset="0.5278" stop-color="#386aff"/><stop offset="0.5382" stop-color="#364fff"/><stop offset="0.5486" stop-color="#3039ee"/><stop offset="0.5660" stop-color="#2828ca"/><stop offset="0.5938" stop-color="#2220a5"/><stop offset="0.6215" stop-color="#201e94"/><stop offset="0.6632" stop-color="#1e1c8b"/><stop offset="0.7535" stop-color="#1c1b82"/><stop offset="0.8924" stop-color="#1c1b84"/><stop offset="1.0000" stop-color="#1c1b82"/></linearGradient><linearGradient id="bg28" x1="0" y1="0" x2="0" y2="1"><stop offset="0.0000" stop-color="#e54100"/><stop offset="0.0521" stop-color="#e23800"/><stop offset="0.1146" stop-color="#da1e00"/><stop offset="0.1458" stop-color="#cc1100"/><stop offset="0.1667" stop-color="#bc0500"/><stop offset="0.1840" stop-color="#ae0200"/><stop offset="0.2014" stop-color="#ae0100"/><stop offset="0.2674" stop-color="#be0600"/><stop offset="0.2986" stop-color="#cb1000"/><stop offset="0.3264" stop-color="#dc2100"/><stop offset="0.3681" stop-color="#e85200"/><stop offset="0.3819" stop-color="#e96a00"/><stop offset="0.3889" stop-color="#ea7d00"/><stop offset="0.4028" stop-color="#e8b901"/><stop offset="0.4132" stop-color="#e2d40b"/><stop offset="0.4201" stop-color="#e0e110"/><stop offset="0.4375" stop-color="#cdf123"/><stop offset="0.4444" stop-color="#c0f931"/><stop offset="0.4549" stop-color="#a4fe57"/><stop offset="0.4722" stop-color="#6afd9f"/><stop offset="0.4826" stop-color="#4cf8c8"/><stop offset="0.4931" stop-color="#3bebea"/><stop offset="0.4965" stop-color="#37e3f3"/><stop offset="0.5035" stop-color="#31ccfd"/><stop offset="0.5174" stop-color="#3691ff"/><stop offset="0.5312" stop-color="#3865ff"/><stop offset="0.5382" stop-color="#3653ff"/><stop offset="0.5451" stop-color="#3343f6"/><stop offset="0.5521" stop-color="#2e37e9"/><stop offset="0.5660" stop-color="#2828cb"/><stop offset="0.5938" stop-color="#2321a6"/><stop offset="0.6181" stop-color="#201e96"/><stop offset="0.6528" stop-color="#1e1d8d"/><stop offset="0.7535" stop-color="#1c1b82"/><stop offset="0.8924" stop-color="#1c1b84"/><stop offset="1.0000" stop-color="#1c1b82"/></linearGradient><linearGradient id="bg29" x1="0" y1="0" x2="0" y2="1"><stop offset="0.0000" stop-color="#e84f00"/><stop offset="0.0556" stop-color="#e64400"/><stop offset="0.1007" stop-color="#e03000"/><stop offset="0.1319" stop-color="#da1e00"/><stop offset="0.1771" stop-color="#be0600"/><stop offset="0.1944" stop-color="#b80400"/><stop offset="0.2569" stop-color="#bf0600"/><stop offset="0.2951" stop-color="#ca0f00"/><stop offset="0.3264" stop-color="#dc2000"/><stop offset="0.3715" stop-color="#e85200"/><stop offset="0.3819" stop-color="#e96200"/><stop offset="0.3889" stop-color="#ea7300"/><stop offset="0.3924" stop-color="#ea7e00"/><stop offset="0.4062" stop-color="#e7ba01"/><stop offset="0.4167" stop-color="#e3d40b"/><stop offset="0.4271" stop-color="#dee412"/><stop offset="0.4410" stop-color="#ccf224"/><stop offset="0.4444" stop-color="#c6f62a"/><stop offset="0.4514" stop-color="#b5fb40"/><stop offset="0.4618" stop-color="#95ff69"/><stop offset="0.4757" stop-color="#66fda4"/><stop offset="0.4861" stop-color="#4af6cd"/><stop offset="0.4965" stop-color="#38e7f0"/><stop offset="0.5069" stop-color="#30c4ff"/><stop offset="0.5174" stop-color="#3697ff"/><stop offset="0.5312" stop-color="#3869ff"/><stop offset="0.5417" stop-color="#364dfe"/><stop offset="0.5521" stop-color="#2f38ec"/><stop offset="0.5660" stop-color="#2829cd"/><stop offset="0.5903" stop-color="#2321ab"/><stop offset="0.6076" stop-color="#211f9d"/><stop offset="0.6354" stop-color="#1f1d90"/><stop offset="0.7500" stop-color="#1c1b82"/><stop offset="0.8889" stop-color="#1c1b84"/><stop offset="1.0000" stop-color="#1c1b82"/></linearGradient><linearGradient id="bg30" x1="0" y1="0" x2="0" y2="1"><stop offset="0.0000" stop-color="#e95e00"/><stop offset="0.0590" stop-color="#e85000"/><stop offset="0.1042" stop-color="#e33a00"/><stop offset="0.1354" stop-color="#dd2400"/><stop offset="0.1701" stop-color="#c90e00"/><stop offset="0.1944" stop-color="#c20800"/><stop offset="0.2639" stop-color="#c40a00"/><stop offset="0.2986" stop-color="#cd1200"/><stop offset="0.3264" stop-color="#dc2100"/><stop offset="0.3646" stop-color="#e84b00"/><stop offset="0.3785" stop-color="#e95a00"/><stop offset="0.3889" stop-color="#e96e00"/><stop offset="0.3958" stop-color="#ea8400"/><stop offset="0.4062" stop-color="#e8b200"/><stop offset="0.4132" stop-color="#e5c606"/><stop offset="0.4271" stop-color="#e0e110"/><stop offset="0.4410" stop-color="#d0ef20"/><stop offset="0.4479" stop-color="#c4f82d"/><stop offset="0.4583" stop-color="#a7fe52"/><stop offset="0.4757" stop-color="#6cfe9d"/><stop offset="0.4861" stop-color="#4cf8c9"/><stop offset="0.4965" stop-color="#3ae9ec"/><stop offset="0.5069" stop-color="#30cafe"/><stop offset="0.5208" stop-color="#368fff"/><stop offset="0.5347" stop-color="#3862ff"/><stop offset="0.5417" stop-color="#3650ff"/><stop offset="0.5521" stop-color="#3039ee"/><stop offset="0.5694" stop-color="#2827c9"/><stop offset="0.5938" stop-color="#2321a8"/><stop offset="0.6146" stop-color="#211f99"/><stop offset="0.6458" stop-color="#1e1d8e"/><stop offset="0.7500" stop-color="#1c1b82"/><stop offset="0.8889" stop-color="#1c1b84"/><stop offset="1.0000" stop-color="#1c1b82"/></linearGradient><linearGradient id="bg31" x1="0" y1="0" x2="0" y2="1"><stop offset="0.0000" stop-color="#e96d00"/><stop offset="0.0625" stop-color="#e95c00"/><stop offset="0.1111" stop-color="#e54300"/><stop offset="0.1389" stop-color="#e02d00"/><stop offset="0.1528" stop-color="#da1e00"/><stop offset="0.1806" stop-color="#cc1100"/><stop offset="0.2431" stop-color="#c80d00"/><stop offset="0.2917" stop-color="#ce1300"/><stop offset="0.3229" stop-color="#dc2100"/><stop offset="0.3646" stop-color="#e84e00"/><stop offset="0.3819" stop-color="#e96100"/><stop offset="0.3924" stop-color="#ea7700"/><stop offset="0.3993" stop-color="#e99000"/><stop offset="0.4097" stop-color="#e8b901"/><stop offset="0.4201" stop-color="#e3d10a"/><stop offset="0.4306" stop-color="#dfe311"/><stop offset="0.4479" stop-color="#c6f62a"/><stop offset="0.4549" stop-color="#b5fb40"/><stop offset="0.4618" stop-color="#a1ff5a"/><stop offset="0.4757" stop-color="#6ffe98"/><stop offset="0.4861" stop-color="#4ef8c5"/><stop offset="0.4965" stop-color="#3cebe9"/><stop offset="0.5000" stop-color="#37e3f2"/><stop offset="0.5069" stop-color="#31cdfd"/><stop offset="0.5139" stop-color="#33b0ff"/><stop offset="0.5243" stop-color="#3787ff"/><stop offset="0.5382" stop-color="#375cff"/><stop offset="0.5417" stop-color="#3652ff"/><stop offset="0.5521" stop-color="#303af0"/><stop offset="0.5694" stop-color="#2828ca"/><stop offset="0.5938" stop-color="#2321a9"/><stop offset="0.6146" stop-color="#211f9a"/><stop offset="0.6458" stop-color="#1e1d8e"/><stop offset="0.7500" stop-color="#1c1b82"/><stop offset="0.8889" stop-color="#1c1b84"/><stop offset="1.0000" stop-color="#1c1b82"/></linearGradient><linearGradient id="bg32" x1="0" y1="0" x2="0" y2="1"><stop offset="0.0000" stop-color="#ea7f00"/><stop offset="0.0660" stop-color="#e96a00"/><stop offset="0.1146" stop-color="#e84e00"/><stop offset="0.1389" stop-color="#e33b00"/><stop offset="0.1632" stop-color="#dc2000"/><stop offset="0.1875" stop-color="#d21700"/><stop offset="0.2569" stop-color="#d01400"/><stop offset="0.2986" stop-color="#d51a00"/><stop offset="0.3160" stop-color="#dc2100"/><stop offset="0.3646" stop-color="#e85300"/><stop offset="0.3819" stop-color="#e96700"/><stop offset="0.3924" stop-color="#ea7c00"/><stop offset="0.4097" stop-color="#e8b801"/><stop offset="0.4236" stop-color="#e2d60c"/><stop offset="0.4306" stop-color="#e0e210"/><stop offset="0.4479" stop-color="#c8f528"/><stop offset="0.4514" stop-color="#c1f930"/><stop offset="0.4618" stop-color="#a4fe57"/><stop offset="0.4757" stop-color="#72ff95"/><stop offset="0.4861" stop-color="#51f9c2"/><stop offset="0.4965" stop-color="#3dece6"/><stop offset="0.5000" stop-color="#37e6f1"/><stop offset="0.5104" stop-color="#30c4ff"/><stop offset="0.5208" stop-color="#3698ff"/><stop offset="0.5347" stop-color="#3868ff"/><stop offset="0.5451" stop-color="#354bfd"/><stop offset="0.5521" stop-color="#303cf1"/><stop offset="0.5694" stop-color="#2828cb"/><stop offset="0.5938" stop-color="#2321a9"/><stop offset="0.6111" stop-color="#211f9c"/><stop offset="0.6424" stop-color="#1f1d8f"/><stop offset="0.7500" stop-color="#1c1b82"/><stop offset="0.8889" stop-color="#1c1b85"/><stop offset="1.0000" stop-color="#1c1b82"/></linearGradient><linearGradient id="bg33" x1="0" y1="0" x2="0" y2="1"><stop offset="0.0000" stop-color="#e99800"/><stop offset="0.0486" stop-color="#ea8400"/><stop offset="0.1111" stop-color="#e96000"/><stop offset="0.1424" stop-color="#e74700"/><stop offset="0.1736" stop-color="#de2600"/><stop offset="0.1910" stop-color="#db1f00"/><stop offset="0.2639" stop-color="#d81c00"/><stop offset="0.2986" stop-color="#dc2000"/><stop offset="0.3229" stop-color="#e03000"/><stop offset="0.3576" stop-color="#e85400"/><stop offset="0.3785" stop-color="#e96b00"/><stop offset="0.3889" stop-color="#ea7d00"/><stop offset="0.4097" stop-color="#e7ba02"/><stop offset="0.4306" stop-color="#e0e210"/><stop offset="0.4479" stop-color="#c8f528"/><stop offset="0.4514" stop-color="#c1f930"/><stop offset="0.4618" stop-color="#a4fe56"/><stop offset="0.4757" stop-color="#73ff94"/><stop offset="0.4861" stop-color="#52f9c1"/><stop offset="0.4931" stop-color="#44f1d9"/><stop offset="0.5000" stop-color="#38e7f0"/><stop offset="0.5104" stop-color="#30c7ff"/><stop offset="0.5243" stop-color="#368eff"/><stop offset="0.5382" stop-color="#3760ff"/><stop offset="0.5451" stop-color="#364dfe"/><stop offset="0.5556" stop-color="#2f37eb"/><stop offset="0.5694" stop-color="#2828cb"/><stop offset="0.5938" stop-color="#2321aa"/><stop offset="0.6111" stop-color="#211f9c"/><stop offset="0.6424" stop-color="#1f1d8f"/><stop offset="0.7500" stop-color="#1c1b82"/><stop offset="0.8889" stop-color="#1c1b85"/><stop offset="1.0000" stop-color="#1c1b82"/></linearGradient><linearGradient id="bg34" x1="0" y1="0" x2="0" y2="1"><stop offset="0.0000" stop-color="#e8b200"/><stop offset="0.0451" stop-color="#e9a100"/><stop offset="0.0868" stop-color="#ea8600"/><stop offset="0.1424" stop-color="#e95900"/><stop offset="0.1736" stop-color="#e33800"/><stop offset="0.1944" stop-color="#e02e00"/><stop offset="0.2535" stop-color="#df2a00"/><stop offset="0.2951" stop-color="#df2c00"/><stop offset="0.3194" stop-color="#e33800"/><stop offset="0.3507" stop-color="#e85700"/><stop offset="0.3785" stop-color="#ea7600"/><stop offset="0.3889" stop-color="#ea8a00"/><stop offset="0.4062" stop-color="#e8b801"/><stop offset="0.4271" stop-color="#e1de0f"/><stop offset="0.4375" stop-color="#d6ea1a"/><stop offset="0.4479" stop-color="#c7f629"/><stop offset="0.4549" stop-color="#b6fb3e"/><stop offset="0.4653" stop-color="#97ff67"/><stop offset="0.4792" stop-color="#67fda4"/><stop offset="0.4861" stop-color="#51f9c1"/><stop offset="0.4965" stop-color="#3eede5"/><stop offset="0.5000" stop-color="#38e7f0"/><stop offset="0.5104" stop-color="#30c8ff"/><stop offset="0.5243" stop-color="#3690ff"/><stop offset="0.5382" stop-color="#3761ff"/><stop offset="0.5451" stop-color="#364eff"/><stop offset="0.5556" stop-color="#2f38ec"/><stop offset="0.5694" stop-color="#2828cc"/><stop offset="0.5938" stop-color="#2321aa"/><stop offset="0.6111" stop-color="#211f9c"/><stop offset="0.6389" stop-color="#1f1d90"/><stop offset="0.7465" stop-color="#1c1b82"/><stop offset="0.8854" stop-color="#1c1b85"/><stop offset="1.0000" stop-color="#1c1b82"/></linearGradient><linearGradient id="bg35" x1="0" y1="0" x2="0" y2="1"><stop offset="0.0000" stop-color="#e5c706"/><stop offset="0.0590" stop-color="#e8b600"/><stop offset="0.0938" stop-color="#e99e00"/><stop offset="0.1493" stop-color="#e96700"/><stop offset="0.1736" stop-color="#e84c00"/><stop offset="0.1944" stop-color="#e54200"/><stop offset="0.2500" stop-color="#e43c00"/><stop offset="0.2986" stop-color="#e43e00"/><stop offset="0.3229" stop-color="#e74900"/><stop offset="0.3681" stop-color="#ea7500"/><stop offset="0.3785" stop-color="#ea8400"/><stop offset="0.3958" stop-color="#e8a900"/><stop offset="0.4062" stop-color="#e6bf03"/><stop offset="0.4271" stop-color="#e0e210"/><stop offset="0.4444" stop-color="#caf326"/><stop offset="0.4479" stop-color="#c4f82c"/><stop offset="0.4618" stop-color="#a0ff5c"/><stop offset="0.4792" stop-color="#65fca6"/><stop offset="0.4861" stop-color="#50f9c3"/><stop offset="0.5000" stop-color="#38e7f1"/><stop offset="0.5104" stop-color="#30c8ff"/><stop offset="0.5243" stop-color="#3690ff"/><stop offset="0.5382" stop-color="#3862ff"/><stop offset="0.5451" stop-color="#364eff"/><stop offset="0.5556" stop-color="#2f38ec"/><stop offset="0.5694" stop-color="#2828cc"/><stop offset="0.5938" stop-color="#2321aa"/><stop offset="0.6111" stop-color="#211f9c"/><stop offset="0.6389" stop-color="#1f1d90"/><stop offset="0.7465" stop-color="#1c1b82"/><stop offset="0.8646" stop-color="#1c1b85"/><stop offset="1.0000" stop-color="#1c1b82"/></linearGradient><linearGradient id="bg36" x1="0" y1="0" x2="0" y2="1"><stop offset="0.0000" stop-color="#e1de0e"/><stop offset="0.0660" stop-color="#e4cb08"/><stop offset="0.1042" stop-color="#e8b700"/><stop offset="0.1319" stop-color="#e99900"/><stop offset="0.1597" stop-color="#ea7200"/><stop offset="0.1806" stop-color="#e95e00"/><stop offset="0.2083" stop-color="#e85500"/><stop offset="0.2812" stop-color="#e85100"/><stop offset="0.3125" stop-color="#e85600"/><stop offset="0.3333" stop-color="#e96200"/><stop offset="0.3646" stop-color="#ea8000"/><stop offset="0.3819" stop-color="#e99b00"/><stop offset="0.3993" stop-color="#e7bd02"/><stop offset="0.4236" stop-color="#e0e210"/><stop offset="0.4410" stop-color="#ccf224"/><stop offset="0.4479" stop-color="#bff932"/><stop offset="0.4618" stop-color="#9bff63"/><stop offset="0.4757" stop-color="#6cfe9c"/><stop offset="0.4861" stop-color="#4df8c6"/><stop offset="0.5000" stop-color="#37e6f1"/><stop offset="0.5104" stop-color="#30c7ff"/><stop offset="0.5243" stop-color="#3690ff"/><stop offset="0.5382" stop-color="#3862ff"/><stop offset="0.5451" stop-color="#364eff"/><stop offset="0.5556" stop-color="#2f38ec"/><stop offset="0.5694" stop-color="#2828cc"/><stop offset="0.5938" stop-color="#2321aa"/><stop offset="0.6111" stop-color="#211f9c"/><stop offset="0.6389" stop-color="#1f1d8f"/><stop offset="0.7500" stop-color="#1c1b82"/><stop offset="0.8403" stop-color="#1c1b85"/><stop offset="0.9792" stop-color="#1c1b83"/><stop offset="1.0000" stop-color="#1c1b82"/></linearGradient><linearGradient id="bg37" x1="0" y1="0" x2="0" y2="1"><stop offset="0.0000" stop-color="#d2ed1e"/><stop offset="0.0764" stop-color="#e0e00f"/><stop offset="0.1146" stop-color="#e4cb08"/><stop offset="0.1354" stop-color="#e7b901"/><stop offset="0.1701" stop-color="#ea8100"/><stop offset="0.1840" stop-color="#ea7500"/><stop offset="0.2188" stop-color="#e96c00"/><stop offset="0.2986" stop-color="#e96a00"/><stop offset="0.3264" stop-color="#ea7100"/><stop offset="0.3472" stop-color="#ea8100"/><stop offset="0.3715" stop-color="#e99d00"/><stop offset="0.3889" stop-color="#e7b901"/><stop offset="0.4201" stop-color="#dfe311"/><stop offset="0.4375" stop-color="#ccf224"/><stop offset="0.4444" stop-color="#c0f931"/><stop offset="0.4583" stop-color="#9fff5d"/><stop offset="0.4757" stop-color="#68fda2"/><stop offset="0.4861" stop-color="#4bf7ca"/><stop offset="0.4965" stop-color="#3beaea"/><stop offset="0.5000" stop-color="#37e3f2"/><stop offset="0.5104" stop-color="#30c5ff"/><stop offset="0.5278" stop-color="#3784ff"/><stop offset="0.5417" stop-color="#3757ff"/><stop offset="0.5451" stop-color="#364dfe"/><stop offset="0.5521" stop-color="#313df2"/><stop offset="0.5694" stop-color="#2828cb"/><stop offset="0.5938" stop-color="#2321a9"/><stop offset="0.6146" stop-color="#211f99"/><stop offset="0.6424" stop-color="#1e1d8e"/><stop offset="0.7500" stop-color="#1c1b82"/><stop offset="0.8264" stop-color="#1d1b86"/><stop offset="0.9653" stop-color="#1c1b84"/><stop offset="1.0000" stop-color="#1c1b82"/></linearGradient><linearGradient id="bg38" x1="0" y1="0" x2="0" y2="1"><stop offset="0.0000" stop-color="#bff933"/><stop offset="0.0486" stop-color="#c9f427"/><stop offset="0.1146" stop-color="#dce514"/><stop offset="0.1285" stop-color="#e1de0e"/><stop offset="0.1493" stop-color="#e5c405"/><stop offset="0.1632" stop-color="#e8af00"/><stop offset="0.1771" stop-color="#e99b00"/><stop offset="0.1944" stop-color="#e99000"/><stop offset="0.2396" stop-color="#ea8800"/><stop offset="0.3056" stop-color="#ea8700"/><stop offset="0.3299" stop-color="#e98e00"/><stop offset="0.3542" stop-color="#e9a000"/><stop offset="0.3785" stop-color="#e7bc02"/><stop offset="0.4132" stop-color="#dfe311"/><stop offset="0.4340" stop-color="#caf326"/><stop offset="0.4410" stop-color="#bff933"/><stop offset="0.4549" stop-color="#a0ff5c"/><stop offset="0.4722" stop-color="#6dfe9c"/><stop offset="0.4826" stop-color="#50f9c2"/><stop offset="0.4965" stop-color="#39e9ee"/><stop offset="0.5069" stop-color="#31cdfd"/><stop offset="0.5139" stop-color="#32b4ff"/><stop offset="0.5347" stop-color="#386bff"/><stop offset="0.5451" stop-color="#354cfd"/><stop offset="0.5521" stop-color="#303bf1"/><stop offset="0.5694" stop-color="#2828ca"/><stop offset="0.5938" stop-color="#2321a8"/><stop offset="0.6146" stop-color="#201f98"/><stop offset="0.6424" stop-color="#1e1d8e"/><stop offset="0.7500" stop-color="#1c1b82"/><stop offset="0.8160" stop-color="#1d1b86"/><stop offset="0.9549" stop-color="#1c1b84"/><stop offset="1.0000" stop-color="#1c1b82"/></linearGradient><linearGradient id="bg39" x1="0" y1="0" x2="0" y2="1"><stop offset="0.0000" stop-color="#a6fe54"/><stop offset="0.0660" stop-color="#b7fa3d"/><stop offset="0.1111" stop-color="#c7f629"/><stop offset="0.1354" stop-color="#d3ec1d"/><stop offset="0.1493" stop-color="#dfe211"/><stop offset="0.1701" stop-color="#e5c405"/><stop offset="0.1840" stop-color="#e8b801"/><stop offset="0.2188" stop-color="#e8af00"/><stop offset="0.2951" stop-color="#e8a900"/><stop offset="0.3299" stop-color="#e8af00"/><stop offset="0.3611" stop-color="#e6c003"/><stop offset="0.4028" stop-color="#dfe311"/><stop offset="0.4271" stop-color="#cbf325"/><stop offset="0.4340" stop-color="#c2f82f"/><stop offset="0.4514" stop-color="#9eff5e"/><stop offset="0.4722" stop-color="#67fda4"/><stop offset="0.4826" stop-color="#4cf8c8"/><stop offset="0.4965" stop-color="#38e6f1"/><stop offset="0.5069" stop-color="#30cafe"/><stop offset="0.5243" stop-color="#378cff"/><stop offset="0.5417" stop-color="#3653ff"/><stop offset="0.5486" stop-color="#3241f5"/><stop offset="0.5556" stop-color="#2e35e6"/><stop offset="0.5660" stop-color="#2829ce"/><stop offset="0.5903" stop-color="#2321ab"/><stop offset="0.6076" stop-color="#211f9c"/><stop offset="0.6319" stop-color="#1f1d90"/><stop offset="0.7083" stop-color="#1d1b86"/><stop offset="0.7535" stop-color="#1c1b83"/><stop offset="0.8160" stop-color="#1d1b86"/><stop offset="0.9549" stop-color="#1c1b84"/><stop offset="1.0000" stop-color="#1c1b82"/></linearGradient><linearGradient id="bg40" x1="0" y1="0" x2="0" y2="1"><stop offset="0.0000" stop-color="#89ff78"/><stop offset="0.0556" stop-color="#99ff64"/><stop offset="0.1181" stop-color="#b0fc47"/><stop offset="0.1354" stop-color="#bbfa38"/><stop offset="0.1458" stop-color="#c6f72a"/><stop offset="0.1701" stop-color="#e0e210"/><stop offset="0.1840" stop-color="#e2d50b"/><stop offset="0.2118" stop-color="#e4ce09"/><stop offset="0.3021" stop-color="#e4c907"/><stop offset="0.3472" stop-color="#e3d10a"/><stop offset="0.3854" stop-color="#dfe311"/><stop offset="0.4132" stop-color="#cfef21"/><stop offset="0.4236" stop-color="#c5f72b"/><stop offset="0.4340" stop-color="#b5fb40"/><stop offset="0.4479" stop-color="#99ff65"/><stop offset="0.4688" stop-color="#69fda1"/><stop offset="0.4826" stop-color="#49f6ce"/><stop offset="0.4931" stop-color="#39e9ed"/><stop offset="0.5035" stop-color="#31cefc"/><stop offset="0.5104" stop-color="#32b6ff"/><stop offset="0.5347" stop-color="#3865ff"/><stop offset="0.5417" stop-color="#3650ff"/><stop offset="0.5486" stop-color="#313ef3"/><stop offset="0.5590" stop-color="#2b2fda"/><stop offset="0.5660" stop-color="#2828cb"/><stop offset="0.5938" stop-color="#2321a6"/><stop offset="0.6215" stop-color="#1f1e93"/><stop offset="0.6562" stop-color="#1e1c8a"/><stop offset="0.7500" stop-color="#1c1b83"/><stop offset="0.8056" stop-color="#1d1b86"/><stop offset="0.9444" stop-color="#1c1b85"/><stop offset="1.0000" stop-color="#1c1b82"/></linearGradient><linearGradient id="bg41" x1="0" y1="0" x2="0" y2="1"><stop offset="0.0000" stop-color="#6bfd9e"/><stop offset="0.0799" stop-color="#84ff7e"/><stop offset="0.1250" stop-color="#97ff66"/><stop offset="0.1424" stop-color="#a6fe55"/><stop offset="0.1667" stop-color="#c4f82c"/><stop offset="0.1840" stop-color="#d1ed1f"/><stop offset="0.2222" stop-color="#d8e818"/><stop offset="0.3125" stop-color="#dce614"/><stop offset="0.3715" stop-color="#d5eb1b"/><stop offset="0.4028" stop-color="#cbf325"/><stop offset="0.4132" stop-color="#c3f82d"/><stop offset="0.4306" stop-color="#acfd4d"/><stop offset="0.4444" stop-color="#91ff6e"/><stop offset="0.4653" stop-color="#68fda2"/><stop offset="0.4792" stop-color="#4af7cb"/><stop offset="0.4896" stop-color="#3beaea"/><stop offset="0.4931" stop-color="#37e3f2"/><stop offset="0.5035" stop-color="#30c7ff"/><stop offset="0.5174" stop-color="#3698ff"/><stop offset="0.5382" stop-color="#3756ff"/><stop offset="0.5417" stop-color="#354cfd"/><stop offset="0.5486" stop-color="#303af0"/><stop offset="0.5625" stop-color="#2929cf"/><stop offset="0.5868" stop-color="#2321ac"/><stop offset="0.6042" stop-color="#211f9c"/><stop offset="0.6285" stop-color="#1f1d8f"/><stop offset="0.6736" stop-color="#1d1c88"/><stop offset="0.7535" stop-color="#1c1b83"/><stop offset="0.8125" stop-color="#1d1b86"/><stop offset="0.9514" stop-color="#1c1b84"/><stop offset="1.0000" stop-color="#1c1b82"/></linearGradient><linearGradient id="bg42" x1="0" y1="0" x2="0" y2="1"><stop offset="0.0000" stop-color="#4cf8c8"/><stop offset="0.1215" stop-color="#7aff8b"/><stop offset="0.1424" stop-color="#87ff7b"/><stop offset="0.1597" stop-color="#9aff63"/><stop offset="0.1771" stop-color="#adfc4a"/><stop offset="0.1910" stop-color="#b6fb3f"/><stop offset="0.2396" stop-color="#bef934"/><stop offset="0.2986" stop-color="#c4f82c"/><stop offset="0.3611" stop-color="#c2f82e"/><stop offset="0.3924" stop-color="#bcfa37"/><stop offset="0.4097" stop-color="#b1fc45"/><stop offset="0.4271" stop-color="#9dff60"/><stop offset="0.4583" stop-color="#6bfd9e"/><stop offset="0.4688" stop-color="#59fab7"/><stop offset="0.4757" stop-color="#4af6cc"/><stop offset="0.4861" stop-color="#3beaeb"/><stop offset="0.4896" stop-color="#37e3f2"/><stop offset="0.5000" stop-color="#30c7ff"/><stop offset="0.5104" stop-color="#34a5ff"/><stop offset="0.5278" stop-color="#3871ff"/><stop offset="0.5382" stop-color="#364fff"/><stop offset="0.5451" stop-color="#313df2"/><stop offset="0.5590" stop-color="#292bd1"/><stop offset="0.5799" stop-color="#2422b2"/><stop offset="0.5972" stop-color="#2220a0"/><stop offset="0.6250" stop-color="#1e1d8f"/><stop offset="0.6632" stop-color="#1d1c88"/><stop offset="0.7535" stop-color="#1c1b83"/><stop offset="0.8194" stop-color="#1d1b86"/><stop offset="0.9583" stop-color="#1c1b84"/><stop offset="1.0000" stop-color="#1c1b82"/></linearGradient><linearGradient id="bg43" x1="0" y1="0" x2="0" y2="1"><stop offset="0.0000" stop-color="#39e9ed"/><stop offset="0.0764" stop-color="#4af6cc"/><stop offset="0.1319" stop-color="#64fca8"/><stop offset="0.1562" stop-color="#73ff93"/><stop offset="0.1840" stop-color="#8aff77"/><stop offset="0.2118" stop-color="#93ff6c"/><stop offset="0.2951" stop-color="#9dff5f"/><stop offset="0.3576" stop-color="#a0ff5c"/><stop offset="0.3958" stop-color="#9aff64"/><stop offset="0.4132" stop-color="#8fff71"/><stop offset="0.4514" stop-color="#67fda3"/><stop offset="0.4618" stop-color="#59fab7"/><stop offset="0.4688" stop-color="#4bf8c9"/><stop offset="0.4792" stop-color="#3eede5"/><stop offset="0.4826" stop-color="#38e8ef"/><stop offset="0.4965" stop-color="#31c4ff"/><stop offset="0.5069" stop-color="#34a4ff"/><stop offset="0.5208" stop-color="#377fff"/><stop offset="0.5347" stop-color="#3650ff"/><stop offset="0.5417" stop-color="#313ef3"/><stop offset="0.5521" stop-color="#2b2fd9"/><stop offset="0.5625" stop-color="#2727c6"/><stop offset="0.5903" stop-color="#2220a3"/><stop offset="0.6215" stop-color="#1e1d8f"/><stop offset="0.6528" stop-color="#1d1c87"/><stop offset="0.7535" stop-color="#1c1b83"/><stop offset="0.8333" stop-color="#1c1b85"/><stop offset="0.9722" stop-color="#1c1b83"/><stop offset="1.0000" stop-color="#1c1b82"/></linearGradient><linearGradient id="bg44" x1="0" y1="0" x2="0" y2="1"><stop offset="0.0000" stop-color="#30c5ff"/><stop offset="0.0799" stop-color="#37e2f3"/><stop offset="0.0972" stop-color="#3ae9ed"/><stop offset="0.1597" stop-color="#4df8c6"/><stop offset="0.1840" stop-color="#5bfbb3"/><stop offset="0.2222" stop-color="#64fca8"/><stop offset="0.3264" stop-color="#6cfe9d"/><stop offset="0.3854" stop-color="#6dfe9c"/><stop offset="0.4097" stop-color="#68fda3"/><stop offset="0.4444" stop-color="#56fabb"/><stop offset="0.4583" stop-color="#49f6cd"/><stop offset="0.4688" stop-color="#3feee1"/><stop offset="0.4757" stop-color="#37e6f1"/><stop offset="0.4896" stop-color="#30c5ff"/><stop offset="0.5000" stop-color="#34a7ff"/><stop offset="0.5139" stop-color="#3787ff"/><stop offset="0.5312" stop-color="#364eff"/><stop offset="0.5382" stop-color="#303bf1"/><stop offset="0.5521" stop-color="#292ad0"/><stop offset="0.5799" stop-color="#2321ab"/><stop offset="0.6076" stop-color="#201e94"/><stop offset="0.6354" stop-color="#1d1c87"/><stop offset="0.6840" stop-color="#1c1b85"/><stop offset="0.7569" stop-color="#1c1b84"/><stop offset="0.8958" stop-color="#1c1b84"/><stop offset="1.0000" stop-color="#1c1b82"/></linearGradient><linearGradient id="bg45" x1="0" y1="0" x2="0" y2="1"><stop offset="0.0000" stop-color="#3692ff"/><stop offset="0.0833" stop-color="#33b3ff"/><stop offset="0.1285" stop-color="#31cbfd"/><stop offset="0.1875" stop-color="#37e6f1"/><stop offset="0.2639" stop-color="#3dece5"/><stop offset="0.3611" stop-color="#43f1da"/><stop offset="0.4132" stop-color="#42f0dc"/><stop offset="0.4444" stop-color="#3cebe9"/><stop offset="0.4549" stop-color="#38e6f1"/><stop offset="0.4722" stop-color="#32cefc"/><stop offset="0.4792" stop-color="#31c0ff"/><stop offset="0.4965" stop-color="#3697ff"/><stop offset="0.5104" stop-color="#3779ff"/><stop offset="0.5243" stop-color="#364fff"/><stop offset="0.5312" stop-color="#313df2"/><stop offset="0.5451" stop-color="#292bd1"/><stop offset="0.5660" stop-color="#2523b5"/><stop offset="0.5903" stop-color="#211f9d"/><stop offset="0.6215" stop-color="#1d1c89"/><stop offset="0.6528" stop-color="#1c1b83"/><stop offset="0.7396" stop-color="#1c1b83"/><stop offset="0.8785" stop-color="#1c1b83"/><stop offset="1.0000" stop-color="#1c1b82"/></linearGradient><linearGradient id="bg46" x1="0" y1="0" x2="0" y2="1"><stop offset="0.0000" stop-color="#3865ff"/><stop offset="0.0208" stop-color="#3873ff"/><stop offset="0.0799" stop-color="#377dff"/><stop offset="0.1007" stop-color="#3782ff"/><stop offset="0.1944" stop-color="#34a8ff"/><stop offset="0.2465" stop-color="#32b6ff"/><stop offset="0.3333" stop-color="#31cafe"/><stop offset="0.4097" stop-color="#31cdfd"/><stop offset="0.4306" stop-color="#30c5ff"/><stop offset="0.4549" stop-color="#33adff"/><stop offset="0.4826" stop-color="#3785ff"/><stop offset="0.5069" stop-color="#375dff"/><stop offset="0.5139" stop-color="#364eff"/><stop offset="0.5243" stop-color="#2f38ec"/><stop offset="0.5382" stop-color="#2828cd"/><stop offset="0.5694" stop-color="#2321aa"/><stop offset="0.6111" stop-color="#1e1c8a"/><stop offset="0.6354" stop-color="#1c1b83"/><stop offset="0.7743" stop-color="#1c1b83"/><stop offset="0.9132" stop-color="#1c1b83"/><stop offset="1.0000" stop-color="#1c1b82"/></linearGradient><linearGradient id="bg47" x1="0" y1="0" x2="0" y2="1"><stop offset="0.0000" stop-color="#3449fb"/><stop offset="0.0104" stop-color="#3653ff"/><stop offset="0.0243" stop-color="#375dff"/><stop offset="0.0590" stop-color="#3862ff"/><stop offset="0.0903" stop-color="#375bff"/><stop offset="0.1250" stop-color="#386bff"/><stop offset="0.1979" stop-color="#3775ff"/><stop offset="0.2222" stop-color="#3774ff"/><stop offset="0.2674" stop-color="#3786ff"/><stop offset="0.3507" stop-color="#3696ff"/><stop offset="0.4062" stop-color="#369aff"/><stop offset="0.4201" stop-color="#3694ff"/><stop offset="0.4444" stop-color="#377aff"/><stop offset="0.4618" stop-color="#3867ff"/><stop offset="0.4896" stop-color="#364fff"/><stop offset="0.5069" stop-color="#313cf1"/><stop offset="0.5278" stop-color="#2828cc"/><stop offset="0.5625" stop-color="#2321a8"/><stop offset="0.6076" stop-color="#1d1c89"/><stop offset="0.6319" stop-color="#1c1b82"/><stop offset="0.7708" stop-color="#1c1b82"/><stop offset="0.9097" stop-color="#1c1b82"/><stop offset="1.0000" stop-color="#1c1b82"/></linearGradient>
<clipPath id="bclip"><rect x="1002.30" y="45.50" width="188.50" height="1151.50"/></clipPath>
<filter id="bblur" x="-10%" y="-1%" width="120%" height="102%" color-interpolation-filters="sRGB"><feGaussianBlur stdDeviation="1.60 0"/></filter>
</defs>
<g clip-path="url(#bclip)"><g filter="url(#bblur)"><rect x="994.30" y="45.50" width="12.53" height="1151.50" fill="url(#bg0)"/><rect x="1006.23" y="45.50" width="4.53" height="1151.50" fill="url(#bg1)"/><rect x="1010.15" y="45.50" width="4.53" height="1151.50" fill="url(#bg2)"/><rect x="1014.08" y="45.50" width="4.53" height="1151.50" fill="url(#bg3)"/><rect x="1018.01" y="45.50" width="4.53" height="1151.50" fill="url(#bg4)"/><rect x="1021.94" y="45.50" width="4.53" height="1151.50" fill="url(#bg5)"/><rect x="1025.86" y="45.50" width="4.53" height="1151.50" fill="url(#bg6)"/><rect x="1029.79" y="45.50" width="4.53" height="1151.50" fill="url(#bg7)"/><rect x="1033.72" y="45.50" width="4.53" height="1151.50" fill="url(#bg8)"/><rect x="1037.64" y="45.50" width="4.53" height="1151.50" fill="url(#bg9)"/><rect x="1041.57" y="45.50" width="4.53" height="1151.50" fill="url(#bg10)"/><rect x="1045.50" y="45.50" width="4.53" height="1151.50" fill="url(#bg11)"/><rect x="1049.42" y="45.50" width="4.53" height="1151.50" fill="url(#bg12)"/><rect x="1053.35" y="45.50" width="4.53" height="1151.50" fill="url(#bg13)"/><rect x="1057.28" y="45.50" width="4.53" height="1151.50" fill="url(#bg14)"/><rect x="1061.21" y="45.50" width="4.53" height="1151.50" fill="url(#bg15)"/><rect x="1065.13" y="45.50" width="4.53" height="1151.50" fill="url(#bg16)"/><rect x="1069.06" y="45.50" width="4.53" height="1151.50" fill="url(#bg17)"/><rect x="1072.99" y="45.50" width="4.53" height="1151.50" fill="url(#bg18)"/><rect x="1076.91" y="45.50" width="4.53" height="1151.50" fill="url(#bg19)"/><rect x="1080.84" y="45.50" width="4.53" height="1151.50" fill="url(#bg20)"/><rect x="1084.77" y="45.50" width="4.53" height="1151.50" fill="url(#bg21)"/><rect x="1088.70" y="45.50" width="4.53" height="1151.50" fill="url(#bg22)"/><rect x="1092.62" y="45.50" width="4.53" height="1151.50" fill="url(#bg23)"/><rect x="1096.55" y="45.50" width="4.53" height="1151.50" fill="url(#bg24)"/><rect x="1100.48" y="45.50" width="4.53" height="1151.50" fill="url(#bg25)"/><rect x="1104.40" y="45.50" width="4.53" height="1151.50" fill="url(#bg26)"/><rect x="1108.33" y="45.50" width="4.53" height="1151.50" fill="url(#bg27)"/><rect x="1112.26" y="45.50" width="4.53" height="1151.50" fill="url(#bg28)"/><rect x="1116.19" y="45.50" width="4.53" height="1151.50" fill="url(#bg29)"/><rect x="1120.11" y="45.50" width="4.53" height="1151.50" fill="url(#bg30)"/><rect x="1124.04" y="45.50" width="4.53" height="1151.50" fill="url(#bg31)"/><rect x="1127.97" y="45.50" width="4.53" height="1151.50" fill="url(#bg32)"/><rect x="1131.89" y="45.50" width="4.53" height="1151.50" fill="url(#bg33)"/><rect x="1135.82" y="45.50" width="4.53" height="1151.50" fill="url(#bg34)"/><rect x="1139.75" y="45.50" width="4.53" height="1151.50" fill="url(#bg35)"/><rect x="1143.67" y="45.50" width="4.53" height="1151.50" fill="url(#bg36)"/><rect x="1147.60" y="45.50" width="4.53" height="1151.50" fill="url(#bg37)"/><rect x="1151.53" y="45.50" width="4.53" height="1151.50" fill="url(#bg38)"/><rect x="1155.46" y="45.50" width="4.53" height="1151.50" fill="url(#bg39)"/><rect x="1159.38" y="45.50" width="4.53" height="1151.50" fill="url(#bg40)"/><rect x="1163.31" y="45.50" width="4.53" height="1151.50" fill="url(#bg41)"/><rect x="1167.24" y="45.50" width="4.53" height="1151.50" fill="url(#bg42)"/><rect x="1171.16" y="45.50" width="4.53" height="1151.50" fill="url(#bg43)"/><rect x="1175.09" y="45.50" width="4.53" height="1151.50" fill="url(#bg44)"/><rect x="1179.02" y="45.50" width="4.53" height="1151.50" fill="url(#bg45)"/><rect x="1182.95" y="45.50" width="4.53" height="1151.50" fill="url(#bg46)"/><rect x="1186.87" y="45.50" width="12.53" height="1151.50" fill="url(#bg47)"/></g></g>
<defs><linearGradient id="wallg" x1="0" y1="0" x2="1" y2="0"><stop offset="0" stop-color="#2c30d8" stop-opacity="0"/><stop offset="0.55" stop-color="#2c30d8" stop-opacity="0.45"/><stop offset="1" stop-color="#2626c0" stop-opacity="0.95"/></linearGradient><linearGradient id="wallv" x1="0" y1="0" x2="0" y2="1"><stop offset="0" stop-color="#fff"/><stop offset="0.86" stop-color="#fff"/><stop offset="1" stop-color="#000"/></linearGradient><mask id="wallm" maskUnits="userSpaceOnUse" x="1180" y="40" width="14" height="620"><rect x="1180" y="40" width="14" height="620" fill="url(#wallv)"/></mask></defs>
<rect x="1185.2" y="45.50" width="5.4" height="609.50" fill="url(#wallg)" mask="url(#wallm)"/>
<defs><linearGradient id="cb" x1="0" y1="0" x2="0" y2="1"><stop offset="0.0000" stop-color="#780000"/><stop offset="0.0350" stop-color="#8f0000"/><stop offset="0.0620" stop-color="#a80000"/><stop offset="0.0890" stop-color="#c00600"/><stop offset="0.1430" stop-color="#dc2000"/><stop offset="0.1960" stop-color="#e84c00"/><stop offset="0.2500" stop-color="#ea7c00"/><stop offset="0.3030" stop-color="#e8b600"/><stop offset="0.3570" stop-color="#e0e210"/><stop offset="0.4100" stop-color="#c4f82c"/><stop offset="0.4640" stop-color="#a0ff5c"/><stop offset="0.5180" stop-color="#74ff92"/><stop offset="0.5710" stop-color="#4cf8c8"/><stop offset="0.6250" stop-color="#38e8f0"/><stop offset="0.6780" stop-color="#30c8ff"/><stop offset="0.7320" stop-color="#3698ff"/><stop offset="0.7860" stop-color="#3868ff"/><stop offset="0.8200" stop-color="#364eff"/><stop offset="0.8500" stop-color="#303af0"/><stop offset="0.8930" stop-color="#2828cc"/><stop offset="0.9400" stop-color="#2422b0"/><stop offset="0.9700" stop-color="#211f9b"/><stop offset="1.0000" stop-color="#1b1a7e"/></linearGradient></defs>
<rect x="190.00" y="45.50" width="2.00" height="1151.50" fill="#00001a" opacity="0.95"/>
<rect x="379.60" y="45.50" width="1.60" height="1151.50" fill="#00001a" opacity="0.92"/>
<rect x="190.00" y="44.30" width="191.30" height="1.7" fill="#8a8378"/>
<rect x="190.00" y="46.00" width="191.30" height="1.3" fill="#000" opacity="0.5"/>
<rect x="161.70" y="17.5" width="394" height="1180.5" fill="none" stroke="#000" stroke-width="2.9"/>
<line x1="162.00" y1="1108.13" x2="170.00" y2="1108.13" stroke="#000" stroke-width="2.7" stroke-linecap="round"/>
<line x1="162.00" y1="1018.26" x2="175.80" y2="1018.26" stroke="#000" stroke-width="2.7" stroke-linecap="round"/>
<line x1="162.00" y1="928.39" x2="170.00" y2="928.39" stroke="#000" stroke-width="2.7" stroke-linecap="round"/>
<line x1="162.00" y1="838.52" x2="175.80" y2="838.52" stroke="#000" stroke-width="2.7" stroke-linecap="round"/>
<line x1="162.00" y1="748.65" x2="170.00" y2="748.65" stroke="#000" stroke-width="2.7" stroke-linecap="round"/>
<line x1="162.00" y1="658.78" x2="175.80" y2="658.78" stroke="#000" stroke-width="2.7" stroke-linecap="round"/>
<line x1="162.00" y1="568.91" x2="170.00" y2="568.91" stroke="#000" stroke-width="2.7" stroke-linecap="round"/>
<line x1="162.00" y1="479.04" x2="175.80" y2="479.04" stroke="#000" stroke-width="2.7" stroke-linecap="round"/>
<line x1="162.00" y1="389.17" x2="170.00" y2="389.17" stroke="#000" stroke-width="2.7" stroke-linecap="round"/>
<line x1="162.00" y1="299.30" x2="175.80" y2="299.30" stroke="#000" stroke-width="2.7" stroke-linecap="round"/>
<line x1="162.00" y1="209.43" x2="170.00" y2="209.43" stroke="#000" stroke-width="2.7" stroke-linecap="round"/>
<line x1="162.00" y1="119.56" x2="175.80" y2="119.56" stroke="#000" stroke-width="2.7" stroke-linecap="round"/>
<line x1="162.00" y1="29.69" x2="170.00" y2="29.69" stroke="#000" stroke-width="2.7" stroke-linecap="round"/>
<text transform="translate(114.10,1212.00) scale(1.1397,1.0000)" font-size="48.50">0</text>
<text transform="translate(114.44,1031.86) scale(1.1405,1.0000)" font-size="48.50">2</text>
<text transform="translate(114.50,852.12) scale(1.0961,1.0000)" font-size="48.50">4</text>
<text transform="translate(114.04,672.38) scale(1.1169,1.0000)" font-size="48.50">6</text>
<text transform="translate(114.30,492.64) scale(1.1234,1.0000)" font-size="48.50">8</text>
<text transform="translate(86.50,312.90) scale(1.0771,1.0000)" font-size="48.50">1</text><text transform="translate(114.10,312.90) scale(1.1397,1.0000)" font-size="48.50">0</text>
<text transform="translate(86.50,133.16) scale(1.0771,1.0000)" font-size="48.50">1</text><text transform="translate(114.44,133.16) scale(1.1405,1.0000)" font-size="48.50">2</text>
<rect x="131.00" y="1239.9" width="32.4" height="2.3"/>
<text transform="translate(171.58,1252.80) scale(1.1575,1.0000)" font-size="48.50">3</text>
<circle cx="492.40" cy="317.00" r="35.6" fill="none" stroke="#222" stroke-width="1.1"/>
<circle cx="492.40" cy="317.00" r="18.8" fill="none" stroke="#222" stroke-width="1.1"/>
<circle cx="492.40" cy="434.00" r="35.6" fill="none" stroke="#222" stroke-width="1.1"/>
<circle cx="492.40" cy="434.00" r="18.8" fill="none" stroke="#222" stroke-width="1.1"/>
<circle cx="492.40" cy="550.60" r="35.6" fill="none" stroke="#222" stroke-width="1.1"/>
<circle cx="492.40" cy="550.60" r="18.8" fill="none" stroke="#222" stroke-width="1.1"/>
<g transform="translate(221.90,1325)"><text transform="translate(0.74,1.00) scale(1.2269,1.0100)" font-size="48.00" font-style="italic" opacity="0.999">x</text><text transform="translate(33.40,11.09) scale(1.5240,1.4708)" font-size="48.00" opacity="0.999">/</text><text transform="translate(59.12,0.72) scale(1.1165,1.0859)" font-size="48.00" opacity="0.999">(</text><text transform="translate(79.16,0.00) scale(1.0816,0.9943)" font-size="48.00" opacity="0.999">1</text><text transform="translate(106.38,0.02) scale(1.1765,1.0031)" font-size="48.00" opacity="0.999">0</text><rect x="140.20" y="-23.25" width="23.20" height="1.90"/><text transform="translate(168.23,-13.55) scale(0.8182,0.7249)" font-size="48.00" opacity="0.999">3</text><text transform="translate(208.20,0.00) scale(1.1504,0.9441)" font-size="48.00" opacity="0.999">m</text><text transform="translate(253.68,0.72) scale(1.1003,1.0859)" font-size="48.00" opacity="0.999">)</text></g>
<g transform="translate(64.50,743) rotate(-90)"><text transform="translate(4.39,-0.19) scale(1.0585,0.9969)" font-size="48.00" font-style="italic" opacity="0.999">y</text><text transform="translate(31.30,11.09) scale(1.5090,1.4708)" font-size="48.00" opacity="0.999">/</text><text transform="translate(58.83,0.72) scale(1.2621,1.0859)" font-size="48.00" opacity="0.999">(</text><text transform="translate(76.96,0.00) scale(1.0579,0.9943)" font-size="48.00" opacity="0.999">1</text><text transform="translate(102.64,0.02) scale(1.2010,1.0031)" font-size="48.00" opacity="0.999">0</text><rect x="133.80" y="-23.25" width="24.50" height="1.90"/><text transform="translate(162.89,-13.20) scale(1.0352,0.7358)" font-size="48.00" opacity="0.999">2</text><text transform="translate(206.25,0.00) scale(1.0943,0.9441)" font-size="48.00" opacity="0.999">m</text><text transform="translate(251.18,0.72) scale(1.1650,1.0859)" font-size="48.00" opacity="0.999">)</text></g>
<rect x="1002.00" y="45.50" width="1.20" height="1151.50" fill="#00001a" opacity="0.95"/>
<rect x="1189.90" y="45.50" width="1.10" height="1151.50" fill="#00001a" opacity="0.92"/>
<rect x="1191.70" y="49.50" width="1.1" height="1146.50" fill="#e2e2e2"/>
<rect x="1002.00" y="44.30" width="189.10" height="1.7" fill="#8a8378"/>
<rect x="1002.00" y="46.00" width="189.10" height="1.3" fill="#000" opacity="0.5"/>
<rect x="971.70" y="17.5" width="394" height="1180.5" fill="none" stroke="#000" stroke-width="2.9"/>
<line x1="972.00" y1="1108.13" x2="980.00" y2="1108.13" stroke="#000" stroke-width="2.7" stroke-linecap="round"/>
<line x1="972.00" y1="1018.26" x2="985.80" y2="1018.26" stroke="#000" stroke-width="2.7" stroke-linecap="round"/>
<line x1="972.00" y1="928.39" x2="980.00" y2="928.39" stroke="#000" stroke-width="2.7" stroke-linecap="round"/>
<line x1="972.00" y1="838.52" x2="985.80" y2="838.52" stroke="#000" stroke-width="2.7" stroke-linecap="round"/>
<line x1="972.00" y1="748.65" x2="980.00" y2="748.65" stroke="#000" stroke-width="2.7" stroke-linecap="round"/>
<line x1="972.00" y1="658.78" x2="985.80" y2="658.78" stroke="#000" stroke-width="2.7" stroke-linecap="round"/>
<line x1="972.00" y1="568.91" x2="980.00" y2="568.91" stroke="#000" stroke-width="2.7" stroke-linecap="round"/>
<line x1="972.00" y1="479.04" x2="985.80" y2="479.04" stroke="#000" stroke-width="2.7" stroke-linecap="round"/>
<line x1="972.00" y1="389.17" x2="980.00" y2="389.17" stroke="#000" stroke-width="2.7" stroke-linecap="round"/>
<line x1="972.00" y1="299.30" x2="985.80" y2="299.30" stroke="#000" stroke-width="2.7" stroke-linecap="round"/>
<line x1="972.00" y1="209.43" x2="980.00" y2="209.43" stroke="#000" stroke-width="2.7" stroke-linecap="round"/>
<line x1="972.00" y1="119.56" x2="985.80" y2="119.56" stroke="#000" stroke-width="2.7" stroke-linecap="round"/>
<line x1="972.00" y1="29.69" x2="980.00" y2="29.69" stroke="#000" stroke-width="2.7" stroke-linecap="round"/>
<text transform="translate(924.10,1212.00) scale(1.1397,1.0000)" font-size="48.50">0</text>
<text transform="translate(924.44,1031.86) scale(1.1405,1.0000)" font-size="48.50">2</text>
<text transform="translate(924.50,852.12) scale(1.0961,1.0000)" font-size="48.50">4</text>
<text transform="translate(924.04,672.38) scale(1.1169,1.0000)" font-size="48.50">6</text>
<text transform="translate(924.30,492.64) scale(1.1234,1.0000)" font-size="48.50">8</text>
<text transform="translate(896.50,312.90) scale(1.0771,1.0000)" font-size="48.50">1</text><text transform="translate(924.10,312.90) scale(1.1397,1.0000)" font-size="48.50">0</text>
<text transform="translate(896.50,133.16) scale(1.0771,1.0000)" font-size="48.50">1</text><text transform="translate(924.44,133.16) scale(1.1405,1.0000)" font-size="48.50">2</text>
<rect x="941.00" y="1239.9" width="32.4" height="2.3"/>
<text transform="translate(981.58,1252.80) scale(1.1575,1.0000)" font-size="48.50">3</text>
<circle cx="1302.40" cy="317.00" r="35.6" fill="none" stroke="#222" stroke-width="1.1"/>
<circle cx="1302.40" cy="317.00" r="18.8" fill="none" stroke="#222" stroke-width="1.1"/>
<circle cx="1302.40" cy="434.00" r="35.6" fill="none" stroke="#222" stroke-width="1.1"/>
<circle cx="1302.40" cy="434.00" r="18.8" fill="none" stroke="#222" stroke-width="1.1"/>
<circle cx="1302.40" cy="550.60" r="35.6" fill="none" stroke="#222" stroke-width="1.1"/>
<circle cx="1302.40" cy="550.60" r="18.8" fill="none" stroke="#222" stroke-width="1.1"/>
<g transform="translate(1031.90,1325)"><text transform="translate(0.74,1.00) scale(1.2269,1.0100)" font-size="48.00" font-style="italic" opacity="0.999">x</text><text transform="translate(33.40,11.09) scale(1.5240,1.4708)" font-size="48.00" opacity="0.999">/</text><text transform="translate(59.12,0.72) scale(1.1165,1.0859)" font-size="48.00" opacity="0.999">(</text><text transform="translate(79.16,0.00) scale(1.0816,0.9943)" font-size="48.00" opacity="0.999">1</text><text transform="translate(106.38,0.02) scale(1.1765,1.0031)" font-size="48.00" opacity="0.999">0</text><rect x="140.20" y="-23.25" width="23.20" height="1.90"/><text transform="translate(168.23,-13.55) scale(0.8182,0.7249)" font-size="48.00" opacity="0.999">3</text><text transform="translate(208.20,0.00) scale(1.1504,0.9441)" font-size="48.00" opacity="0.999">m</text><text transform="translate(253.68,0.72) scale(1.1003,1.0859)" font-size="48.00" opacity="0.999">)</text></g>
<g transform="translate(874.50,743) rotate(-90)"><text transform="translate(4.39,-0.19) scale(1.0585,0.9969)" font-size="48.00" font-style="italic" opacity="0.999">y</text><text transform="translate(31.30,11.09) scale(1.5090,1.4708)" font-size="48.00" opacity="0.999">/</text><text transform="translate(58.83,0.72) scale(1.2621,1.0859)" font-size="48.00" opacity="0.999">(</text><text transform="translate(76.96,0.00) scale(1.0579,0.9943)" font-size="48.00" opacity="0.999">1</text><text transform="translate(102.64,0.02) scale(1.2010,1.0031)" font-size="48.00" opacity="0.999">0</text><rect x="133.80" y="-23.25" width="24.50" height="1.90"/><text transform="translate(162.89,-13.20) scale(1.0352,0.7358)" font-size="48.00" opacity="0.999">2</text><text transform="translate(206.25,0.00) scale(1.0943,0.9441)" font-size="48.00" opacity="0.999">m</text><text transform="translate(251.18,0.72) scale(1.1650,1.0859)" font-size="48.00" opacity="0.999">)</text></g>
<line x1="1363" y1="1018.26" x2="1366" y2="1018.26" stroke="#000" stroke-width="2"/>
<line x1="1363" y1="838.52" x2="1366" y2="838.52" stroke="#000" stroke-width="2"/>
<line x1="1363" y1="658.78" x2="1366" y2="658.78" stroke="#000" stroke-width="2"/>
<line x1="1363" y1="479.04" x2="1366" y2="479.04" stroke="#000" stroke-width="2"/>
<line x1="1363" y1="299.30" x2="1366" y2="299.30" stroke="#000" stroke-width="2"/>
<line x1="1363" y1="119.56" x2="1366" y2="119.56" stroke="#000" stroke-width="2"/>
<rect x="574.40" y="95.4" width="40.00" height="1024.2" fill="url(#cb)" stroke="#000" stroke-width="2.8"/>
<text transform="translate(633.80,1133.90) scale(1.1397,1.0000)" font-size="48.50">0</text>
<line x1="599.90" y1="1009.79" x2="613.40" y2="1009.79" stroke="#000" stroke-width="2.8" stroke-linecap="round"/>
<text transform="translate(634.10,1024.09) scale(1.0771,1.0000)" font-size="48.50">1</text>
<line x1="599.90" y1="899.98" x2="613.40" y2="899.98" stroke="#000" stroke-width="2.8" stroke-linecap="round"/>
<text transform="translate(634.14,914.28) scale(1.1405,1.0000)" font-size="48.50">2</text>
<line x1="599.90" y1="790.17" x2="613.40" y2="790.17" stroke="#000" stroke-width="2.8" stroke-linecap="round"/>
<text transform="translate(633.38,804.47) scale(1.1575,1.0000)" font-size="48.50">3</text>
<line x1="599.90" y1="680.36" x2="613.40" y2="680.36" stroke="#000" stroke-width="2.8" stroke-linecap="round"/>
<text transform="translate(634.20,694.66) scale(1.0961,1.0000)" font-size="48.50">4</text>
<line x1="599.90" y1="570.55" x2="613.40" y2="570.55" stroke="#000" stroke-width="2.8" stroke-linecap="round"/>
<text transform="translate(633.31,584.85) scale(1.1405,1.0000)" font-size="48.50">5</text>
<line x1="599.90" y1="460.74" x2="613.40" y2="460.74" stroke="#000" stroke-width="2.8" stroke-linecap="round"/>
<text transform="translate(633.74,475.04) scale(1.1169,1.0000)" font-size="48.50">6</text>
<line x1="599.90" y1="350.93" x2="613.40" y2="350.93" stroke="#000" stroke-width="2.8" stroke-linecap="round"/>
<text transform="translate(633.01,365.23) scale(1.2112,1.0000)" font-size="48.50">7</text>
<line x1="599.90" y1="241.12" x2="613.40" y2="241.12" stroke="#000" stroke-width="2.8" stroke-linecap="round"/>
<text transform="translate(634.00,255.42) scale(1.1234,1.0000)" font-size="48.50">8</text>
<line x1="599.90" y1="131.31" x2="613.40" y2="131.31" stroke="#000" stroke-width="2.8" stroke-linecap="round"/>
<text transform="translate(634.28,145.61) scale(1.1169,1.0000)" font-size="48.50">9</text>
<path d="M594.60 22.2 L577.60 51.7 L611.60 51.7 Z"/>
<path d="M594.60 1196.7 L577.60 1167.7 L611.60 1167.7 Z"/>
<text transform="translate(633.78,51.80) scale(1.0943,1.0000)" font-size="49.50">9</text><circle cx="668.85" cy="48.50" r="3.3"/><text transform="translate(676.28,51.80) scale(1.1341,1.0000)" font-size="49.50">3</text><text transform="translate(704.18,51.80) scale(1.1341,1.0000)" font-size="49.50">3</text>
<text transform="translate(633.30,1196.10) scale(1.1397,1.0000)" font-size="48.50">0</text><circle cx="668.85" cy="1192.80" r="3.3"/><text transform="translate(677.04,1196.10) scale(1.1405,1.0000)" font-size="48.50">2</text><text transform="translate(704.54,1196.10) scale(1.1169,1.0000)" font-size="48.50">6</text><text transform="translate(732.80,1196.10) scale(1.0771,1.0000)" font-size="48.50">1</text>
<rect x="1385.50" y="95.4" width="38.90" height="1024.2" fill="url(#cb)" stroke="#000" stroke-width="2.8"/>
<line x1="1409.90" y1="993.40" x2="1423.40" y2="993.40" stroke="#000" stroke-width="2.8" stroke-linecap="round"/>
<text transform="translate(1444.90,1007.70) scale(1.0771,1.0000)" font-size="48.50">1</text>
<line x1="1409.90" y1="813.70" x2="1423.40" y2="813.70" stroke="#000" stroke-width="2.8" stroke-linecap="round"/>
<text transform="translate(1444.94,828.00) scale(1.1405,1.0000)" font-size="48.50">2</text>
<line x1="1409.90" y1="634.00" x2="1423.40" y2="634.00" stroke="#000" stroke-width="2.8" stroke-linecap="round"/>
<text transform="translate(1444.18,648.30) scale(1.1575,1.0000)" font-size="48.50">3</text>
<line x1="1409.90" y1="454.30" x2="1423.40" y2="454.30" stroke="#000" stroke-width="2.8" stroke-linecap="round"/>
<text transform="translate(1445.00,468.60) scale(1.0961,1.0000)" font-size="48.50">4</text>
<line x1="1409.90" y1="274.60" x2="1423.40" y2="274.60" stroke="#000" stroke-width="2.8" stroke-linecap="round"/>
<text transform="translate(1444.11,288.90) scale(1.1405,1.0000)" font-size="48.50">5</text>
<path d="M1405.40 22.2 L1388.40 51.7 L1422.40 51.7 Z"/>
<path d="M1405.40 1196.7 L1388.40 1167.7 L1422.40 1167.7 Z"/>
<text transform="translate(1443.61,51.80) scale(1.1175,1.0000)" font-size="49.50">5</text><circle cx="1479.65" cy="48.50" r="3.3"/><text transform="translate(1487.98,51.80) scale(1.0943,1.0000)" font-size="49.50">9</text><text transform="translate(1515.88,51.80) scale(1.0943,1.0000)" font-size="49.50">9</text>
<text transform="translate(1444.10,1196.10) scale(1.1397,1.0000)" font-size="48.50">0</text><circle cx="1479.65" cy="1192.80" r="3.3"/><text transform="translate(1487.08,1196.10) scale(1.1575,1.0000)" font-size="48.50">3</text>
<g transform="translate(741.4,677) rotate(-90)"><text transform="translate(-4.28,0.00) scale(1.3712,1.0623)" font-size="48.00" font-style="italic" opacity="0.999">T</text><text transform="translate(30.55,8.45) scale(0.8615,0.7292)" font-size="48.00" opacity="0.999">e</text><text transform="translate(51.50,10.69) scale(1.5541,1.4739)" font-size="48.00" opacity="0.999">/</text><text transform="translate(75.95,0.12) scale(1.1712,0.9896)" font-size="48.00" opacity="0.999">e</text><text transform="translate(101.06,-0.16) scale(1.1310,1.0572)" font-size="48.00" opacity="0.999">V</text></g>
<g transform="translate(1551.9,735) rotate(-90)"><text transform="translate(-4.01,0.00) scale(1.3485,1.0496)" font-size="48.00" font-style="italic" opacity="0.999">T</text><text transform="translate(30.77,7.98) scale(0.8476,0.6701)" font-size="48.00" opacity="0.999">g</text><text transform="translate(53.60,11.28) scale(1.5841,1.4925)" font-size="48.00" opacity="0.999">/</text><text transform="translate(81.03,0.76) scale(1.2621,1.1019)" font-size="48.00" opacity="0.999">(</text><text transform="translate(100.65,0.00) scale(0.9870,1.0101)" font-size="48.00" opacity="0.999">1</text><text transform="translate(126.04,0.01) scale(1.1471,1.0185)" font-size="48.00" opacity="0.999">0</text><text transform="translate(153.95,-14.43) scale(0.8990,0.6877)" font-size="48.00" opacity="0.999">3</text><text transform="translate(193.43,0.00) scale(1.1162,1.0496)" font-size="48.00" opacity="0.999">K</text><text transform="translate(234.03,0.76) scale(1.2621,1.1019)" font-size="48.00" opacity="0.999">)</text></g>
</svg>
</body></html>
